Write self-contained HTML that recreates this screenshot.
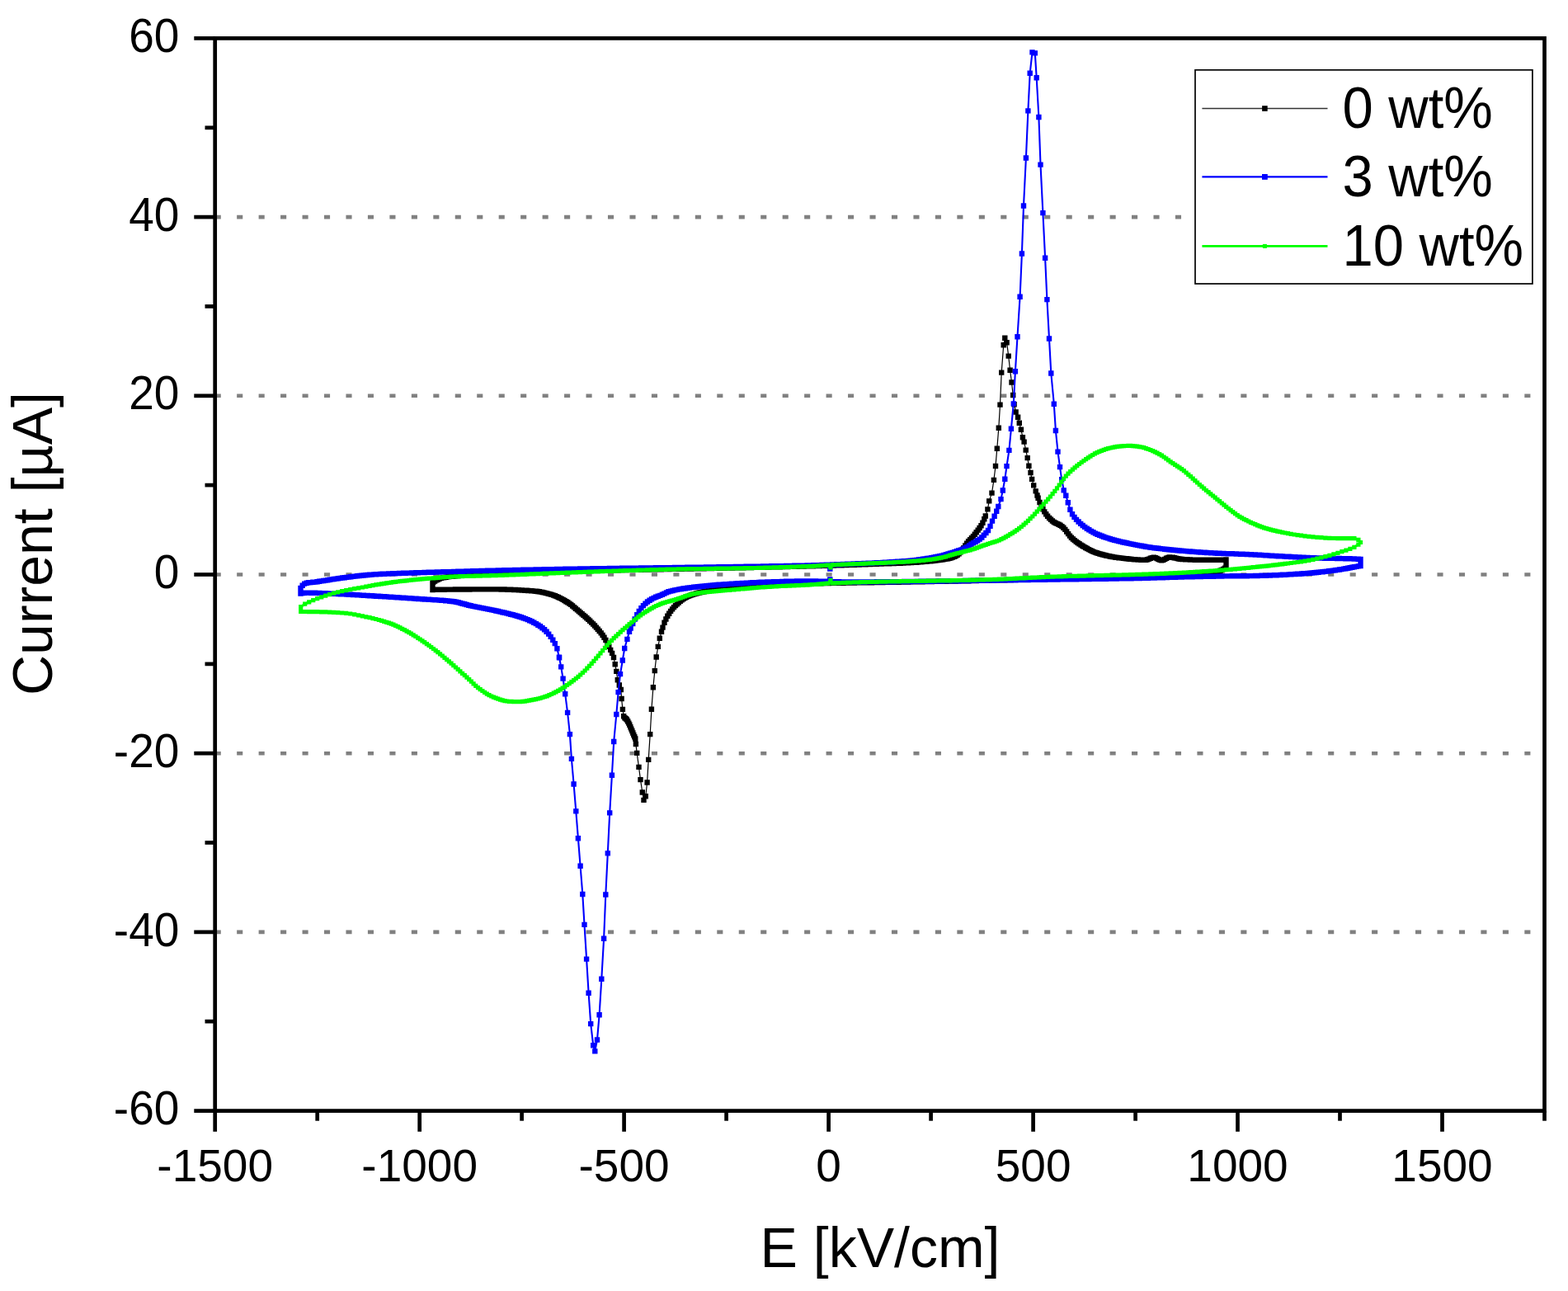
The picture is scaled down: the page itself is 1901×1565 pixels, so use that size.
<!DOCTYPE html>
<html><head><meta charset="utf-8"><title>Current vs E</title>
<style>html,body{margin:0;padding:0;background:#fff;}svg{display:block;}</style></head>
<body>
<svg width="1901" height="1565" viewBox="0 0 1901 1565" font-family="'Liberation Sans', Arial, sans-serif" fill="#000">
<rect width="1901" height="1565" fill="#fff"/>
<line x1="260.7" y1="263.1" x2="1872.5" y2="263.1" stroke="#808080" stroke-width="4.6" stroke-dasharray="7.1 19.36"/>
<line x1="260.7" y1="479.8" x2="1872.5" y2="479.8" stroke="#808080" stroke-width="4.6" stroke-dasharray="7.1 19.36"/>
<line x1="260.7" y1="696.5" x2="1872.5" y2="696.5" stroke="#808080" stroke-width="4.6" stroke-dasharray="7.1 19.36"/>
<line x1="260.7" y1="913.2" x2="1872.5" y2="913.2" stroke="#808080" stroke-width="4.6" stroke-dasharray="7.1 19.36"/>
<line x1="260.7" y1="1129.9" x2="1872.5" y2="1129.9" stroke="#808080" stroke-width="4.6" stroke-dasharray="7.1 19.36"/>
<path d="M1486.5 688 L1485.1 688.8 L1483.2 689.9 L1481.3 690.9 L1479.4 691.7 L1477.5 692.6 L1475.5 693.4 L1473.6 694 L1471.7 694.5 L1469.8 694.8 L1467.9 695 L1465.9 695.2 L1464 695.3 L1462.1 695.5 L1460.2 695.6 L1458.3 695.7 L1456.3 695.9 L1454.4 696 L1452.5 696.1 L1450.6 696.2 L1448.7 696.3 L1446.7 696.4 L1444.8 696.4 L1442.9 696.5 L1441 696.6 L1439.1 696.7 L1437.1 696.7 L1435.2 696.8 L1433.3 696.9 L1431.4 696.9 L1429.5 697 L1427.5 697 L1425.6 697.1 L1423.7 697.1 L1421.8 697.2 L1419.9 697.2 L1417.9 697.3 L1416 697.3 L1414.1 697.4 L1412.2 697.4 L1410.3 697.5 L1408.3 697.5 L1406.4 697.6 L1404.5 697.6 L1402.6 697.7 L1400.7 697.8 L1398.7 697.8 L1396.8 697.9 L1394.9 698 L1393 698 L1391.1 698.1 L1389.1 698.2 L1387.2 698.2 L1385.3 698.3 L1383.4 698.4 L1381.5 698.4 L1379.5 698.5 L1377.6 698.6 L1375.7 698.6 L1373.8 698.7 L1371.9 698.7 L1369.9 698.8 L1368 698.9 L1366.1 698.9 L1364.2 699 L1362.3 699 L1360.3 699.1 L1358.4 699.1 L1356.5 699.2 L1354.6 699.3 L1352.7 699.3 L1350.7 699.4 L1348.8 699.4 L1346.9 699.5 L1345 699.5 L1343.1 699.6 L1341.1 699.6 L1339.2 699.7 L1337.3 699.7 L1335.4 699.8 L1333.5 699.9 L1331.5 699.9 L1329.6 700 L1327.7 700 L1325.8 700.1 L1323.9 700.1 L1321.9 700.2 L1320 700.2 L1318.1 700.3 L1316.2 700.3 L1314.3 700.4 L1312.3 700.4 L1310.4 700.5 L1308.5 700.6 L1306.6 700.6 L1304.7 700.7 L1302.7 700.7 L1300.8 700.8 L1298.9 700.8 L1297 700.9 L1295.1 700.9 L1293.1 701 L1291.2 701.1 L1289.3 701.1 L1287.4 701.2 L1285.5 701.2 L1283.5 701.3 L1281.6 701.3 L1279.7 701.4 L1277.8 701.5 L1275.9 701.5 L1273.9 701.6 L1272 701.6 L1270.1 701.7 L1268.2 701.7 L1266.3 701.8 L1264.3 701.9 L1262.4 701.9 L1260.5 702 L1258.6 702 L1256.7 702.1 L1254.7 702.1 L1252.8 702.2 L1250.9 702.3 L1249 702.3 L1247.1 702.4 L1245.1 702.4 L1243.2 702.5 L1241.3 702.5 L1239.4 702.6 L1237.5 702.6 L1235.5 702.7 L1233.6 702.7 L1231.7 702.8 L1229.8 702.9 L1227.9 702.9 L1225.9 703 L1224 703 L1222.1 703.1 L1220.2 703.1 L1218.3 703.2 L1216.3 703.2 L1214.4 703.3 L1212.5 703.3 L1210.6 703.4 L1208.7 703.4 L1206.7 703.4 L1204.8 703.5 L1202.9 703.5 L1201 703.6 L1199.1 703.6 L1197.1 703.7 L1195.2 703.7 L1193.3 703.7 L1191.4 703.8 L1189.5 703.8 L1187.5 703.9 L1185.6 703.9 L1183.7 704 L1181.8 704 L1179.9 704 L1177.9 704.1 L1176 704.1 L1174.1 704.2 L1172.2 704.2 L1170.3 704.2 L1168.3 704.3 L1166.4 704.3 L1164.5 704.3 L1162.6 704.4 L1160.7 704.4 L1158.7 704.5 L1156.8 704.5 L1154.9 704.5 L1153 704.6 L1151.1 704.6 L1149.1 704.6 L1147.2 704.7 L1145.3 704.7 L1143.4 704.7 L1141.5 704.8 L1139.5 704.8 L1137.6 704.8 L1135.7 704.9 L1133.8 704.9 L1131.9 704.9 L1129.9 705 L1128 705 L1126.1 705 L1124.2 705.1 L1122.3 705.1 L1120.3 705.1 L1118.4 705.2 L1116.5 705.2 L1114.6 705.2 L1112.7 705.3 L1110.7 705.3 L1108.8 705.3 L1106.9 705.4 L1105 705.4 L1103.1 705.4 L1101.1 705.5 L1099.2 705.5 L1097.3 705.5 L1095.4 705.6 L1093.5 705.6 L1091.5 705.6 L1089.6 705.7 L1087.7 705.7 L1085.8 705.7 L1083.9 705.8 L1081.9 705.8 L1080 705.8 L1078.1 705.8 L1076.2 705.9 L1074.3 705.9 L1072.3 705.9 L1070.4 706 L1068.5 706 L1066.6 706 L1064.7 706 L1062.7 706.1 L1060.8 706.1 L1058.9 706.1 L1057 706.2 L1055.1 706.2 L1053.1 706.2 L1051.2 706.2 L1049.3 706.3 L1047.4 706.3 L1045.5 706.3 L1043.5 706.4 L1041.6 706.4 L1039.7 706.4 L1037.8 706.4 L1035.9 706.5 L1033.9 706.5 L1032 706.5 L1030.1 706.6 L1028.2 706.6 L1026.3 706.6 L1024.3 706.6 L1022.4 706.7 L1020.5 706.7 L1018.6 706.7 L1016.7 706.8 L1014.7 706.8 L1012.8 706.8 L1010.9 706.9 L1009 706.9 L1007.1 706.9 L1005.1 707 L1003.2 707 L1001.3 707.1 L999.4 707.1 L997.5 707.1 L995.5 707.2 L993.6 707.2 L991.7 707.2 L989.8 707.3 L987.9 707.3 L985.9 707.3 L984 707.4 L982.1 707.4 L980.2 707.4 L978.3 707.5 L976.3 707.5 L974.4 707.6 L972.5 707.6 L970.6 707.6 L968.7 707.7 L966.7 707.7 L964.8 707.8 L962.9 707.8 L961 707.9 L959.1 707.9 L957.1 708 L955.2 708 L953.3 708.1 L951.4 708.1 L949.5 708.2 L947.5 708.2 L945.6 708.3 L943.7 708.4 L941.8 708.4 L939.9 708.5 L937.9 708.6 L936 708.7 L934.1 708.7 L932.2 708.8 L930.3 708.9 L928.3 709 L926.4 709.1 L924.5 709.2 L922.6 709.4 L920.7 709.5 L918.7 709.6 L916.8 709.7 L914.9 709.9 L913 710 L911.1 710.2 L909.1 710.3 L907.2 710.5 L905.3 710.6 L903.4 710.8 L901.5 710.9 L899.5 711.1 L897.6 711.3 L895.7 711.5 L893.8 711.6 L891.9 711.8 L889.9 712 L888 712.2 L886.1 712.4 L884.2 712.6 L882.3 712.8 L880.3 713 L878.4 713.2 L876.5 713.5 L874.6 713.7 L872.7 714 L870.7 714.2 L868.8 714.5 L866.9 714.8 L865 715.1 L863.1 715.5 L861.1 715.8 L859.2 716.1 L857.3 716.5 L855.4 716.9 L853.5 717.3 L851.5 717.7 L849.6 718.1 L847.7 718.5 L845.8 719 L843.9 719.5 L841.9 720.1 L840 720.7 L838.1 721.4 L836.2 722.1 L834.3 722.9 L832.3 723.8 L830.4 724.9 L828.5 726.1 L826.6 727.4 L824.7 728.9 L822.7 730.5 L820.8 732.2 L818.9 734.1 L817 736.1 L815.1 738.4 L813.1 740.9 L811.2 743.7 L809.3 746.8 L807.4 750.5 L805.5 754.8 L803.5 760.6 L802 765.8 L799.8 773.7 L797.8 783.9 L795.7 796.5 L793.8 813.1 L791.9 833.3 L789.9 859.7 L788.2 890.1 L786.2 920.9 L784.6 948.5 L782.8 965.2 L780.5 969.9 L778.8 960.5 L776.5 945.1 L774.5 929.9 L772.2 912.9 L770.9 902 L770.3 895.5 L769.3 893.2 L768.3 891 L767.3 888.5 L766.3 886 L765.3 883.6 L764.3 881.2 L763.3 878.8 L762.3 876.6 L761.2 874.5 L760 872.5 L758.8 871.3 L757.5 870.2 L756.2 868.2 L754.9 859.9 L753.6 847 L752.8 836 L750.8 830.5 L748.8 824.2 L747.3 813.9 L745.7 805.2 L744 797 L742.1 791.9 L740.2 787.9 L738.3 783.8 L736.3 779.7 L734.4 776 L732.5 772.8 L730.6 770 L728.7 767.4 L726.7 765 L724.8 762.7 L722.9 760.6 L721 758.5 L719.1 756.5 L717.1 754.6 L715.2 752.7 L713.3 750.9 L711.4 749.2 L709.5 747.5 L707.5 745.9 L705.6 744.2 L703.7 742.6 L701.8 741 L699.9 739.4 L697.9 737.7 L696 736.1 L694.1 734.5 L692.2 732.9 L690.3 731.6 L688.3 730.3 L686.4 729.2 L684.5 728 L682.6 726.9 L680.7 725.9 L678.7 724.9 L676.8 724 L674.9 723.1 L673 722.3 L671.1 721.6 L669.1 720.9 L667.2 720.4 L665.3 719.9 L663.4 719.4 L661.5 718.9 L659.5 718.4 L657.6 718 L655.7 717.6 L653.8 717.3 L651.9 717 L649.9 716.8 L648 716.6 L646.1 716.4 L644.2 716.3 L642.3 716.1 L640.3 716 L638.4 715.8 L636.5 715.7 L634.6 715.6 L632.7 715.5 L630.7 715.4 L628.8 715.2 L626.9 715.1 L625 715 L623.1 715 L621.1 714.9 L619.2 714.8 L617.3 714.7 L615.4 714.7 L613.5 714.6 L611.5 714.5 L609.6 714.5 L607.7 714.5 L605.8 714.4 L603.9 714.4 L601.9 714.4 L600 714.4 L598.1 714.4 L596.2 714.4 L594.3 714.4 L592.3 714.4 L590.4 714.4 L588.5 714.4 L586.6 714.4 L584.7 714.4 L582.7 714.4 L580.8 714.4 L578.9 714.4 L577 714.4 L575.1 714.4 L573.1 714.4 L571.2 714.4 L569.3 714.5 L567.4 714.5 L565.5 714.5 L563.5 714.5 L561.6 714.5 L559.7 714.5 L557.8 714.5 L555.9 714.5 L553.9 714.5 L552 714.5 L550.1 714.6 L548.2 714.6 L546.3 714.6 L544.3 714.6 L542.4 714.6 L540.5 714.6 L538.6 714.7 L536.7 714.7 L534.7 714.7 L532.8 714.7 L530.9 714.8 L529 714.8 L527.1 714.8 L525.1 714.9 L524.5 715 L524.5 712 L524.5 709 L524.5 706.5 L525.2 705.9 L527.1 704.5 L529 703.4 L530.9 702.5 L532.9 701.6 L534.8 700.9 L536.7 700.4 L538.6 700 L540.5 699.7 L542.5 699.4 L544.4 699.1 L546.3 698.9 L548.2 698.7 L550.1 698.5 L552.1 698.3 L554 698.1 L555.9 698 L557.8 697.8 L559.7 697.6 L561.7 697.5 L563.6 697.3 L565.5 697.1 L567.4 697 L569.3 696.8 L571.3 696.6 L573.2 696.5 L575.1 696.3 L577 696.2 L578.9 696 L580.9 695.9 L582.8 695.8 L584.7 695.6 L586.6 695.5 L588.5 695.4 L590.5 695.3 L592.4 695.2 L594.3 695.1 L596.2 695 L598.1 694.9 L600.1 694.8 L602 694.7 L603.9 694.6 L605.8 694.6 L607.7 694.5 L609.7 694.4 L611.6 694.4 L613.5 694.3 L615.4 694.2 L617.3 694.2 L619.3 694.1 L621.2 694 L623.1 694 L625 693.9 L626.9 693.9 L628.9 693.8 L630.8 693.8 L632.7 693.7 L634.6 693.7 L636.5 693.6 L638.5 693.6 L640.4 693.5 L642.3 693.5 L644.2 693.4 L646.1 693.4 L648.1 693.3 L650 693.3 L651.9 693.2 L653.8 693.2 L655.7 693.1 L657.7 693.1 L659.6 693.1 L661.5 693 L663.4 693 L665.3 692.9 L667.3 692.9 L669.2 692.9 L671.1 692.8 L673 692.8 L674.9 692.7 L676.9 692.7 L678.8 692.7 L680.7 692.6 L682.6 692.6 L684.5 692.5 L686.5 692.5 L688.4 692.5 L690.3 692.4 L692.2 692.4 L694.1 692.3 L696.1 692.3 L698 692.2 L699.9 692.2 L701.8 692.2 L703.7 692.1 L705.7 692.1 L707.6 692 L709.5 692 L711.4 691.9 L713.3 691.9 L715.3 691.9 L717.2 691.8 L719.1 691.8 L721 691.7 L722.9 691.7 L724.9 691.7 L726.8 691.6 L728.7 691.6 L730.6 691.5 L732.5 691.5 L734.5 691.5 L736.4 691.4 L738.3 691.4 L740.2 691.4 L742.1 691.3 L744.1 691.3 L746 691.2 L747.9 691.2 L749.8 691.2 L751.7 691.1 L753.7 691.1 L755.6 691.1 L757.5 691 L759.4 691 L761.3 690.9 L763.3 690.9 L765.2 690.9 L767.1 690.8 L769 690.8 L770.9 690.8 L772.9 690.7 L774.8 690.7 L776.7 690.7 L778.6 690.6 L780.5 690.6 L782.5 690.5 L784.4 690.5 L786.3 690.5 L788.2 690.4 L790.1 690.4 L792.1 690.4 L794 690.3 L795.9 690.3 L797.8 690.2 L799.7 690.2 L801.7 690.2 L803.6 690.1 L805.5 690.1 L807.4 690.1 L809.3 690 L811.3 690 L813.2 689.9 L815.1 689.9 L817 689.9 L818.9 689.8 L820.9 689.8 L822.8 689.8 L824.7 689.7 L826.6 689.7 L828.5 689.6 L830.5 689.6 L832.4 689.6 L834.3 689.5 L836.2 689.5 L838.1 689.5 L840.1 689.4 L842 689.4 L843.9 689.3 L845.8 689.3 L847.7 689.3 L849.7 689.2 L851.6 689.2 L853.5 689.2 L855.4 689.1 L857.3 689.1 L859.3 689 L861.2 689 L863.1 689 L865 688.9 L866.9 688.9 L868.9 688.8 L870.8 688.8 L872.7 688.8 L874.6 688.7 L876.5 688.7 L878.5 688.7 L880.4 688.6 L882.3 688.6 L884.2 688.5 L886.1 688.5 L888.1 688.5 L890 688.4 L891.9 688.4 L893.8 688.3 L895.7 688.3 L897.7 688.3 L899.6 688.2 L901.5 688.2 L903.4 688.1 L905.3 688.1 L907.3 688 L909.2 688 L911.1 688 L913 687.9 L914.9 687.9 L916.9 687.8 L918.8 687.8 L920.7 687.7 L922.6 687.7 L924.5 687.7 L926.5 687.6 L928.4 687.6 L930.3 687.5 L932.2 687.5 L934.1 687.4 L936.1 687.4 L938 687.4 L939.9 687.3 L941.8 687.3 L943.7 687.2 L945.7 687.2 L947.6 687.1 L949.5 687.1 L951.4 687 L953.3 687 L955.3 687 L957.2 686.9 L959.1 686.9 L961 686.8 L962.9 686.8 L964.9 686.7 L966.8 686.7 L968.7 686.6 L970.6 686.6 L972.5 686.5 L974.5 686.5 L976.4 686.4 L978.3 686.4 L980.2 686.3 L982.1 686.3 L984.1 686.2 L986 686.2 L987.9 686.1 L989.8 686.1 L991.7 686 L993.7 686 L995.6 685.9 L997.5 685.9 L999.4 685.8 L1001.3 685.8 L1003.3 685.7 L1005.2 685.7 L1007.1 685.6 L1009 685.5 L1010.9 685.5 L1012.9 685.4 L1014.8 685.4 L1016.7 685.3 L1018.6 685.2 L1020.5 685.2 L1022.5 685.1 L1024.4 685 L1026.3 685 L1028.2 684.9 L1030.1 684.9 L1032.1 684.8 L1034 684.7 L1035.9 684.7 L1037.8 684.6 L1039.7 684.5 L1041.7 684.5 L1043.6 684.4 L1045.5 684.3 L1047.4 684.3 L1049.3 684.2 L1051.3 684.1 L1053.2 684 L1055.1 684 L1057 683.9 L1058.9 683.8 L1060.9 683.8 L1062.8 683.7 L1064.7 683.6 L1066.6 683.6 L1068.5 683.5 L1070.5 683.4 L1072.4 683.4 L1074.3 683.3 L1076.2 683.2 L1078.1 683.2 L1080.1 683.1 L1082 683 L1083.9 683 L1085.8 682.9 L1087.7 682.8 L1089.7 682.7 L1091.6 682.7 L1093.5 682.6 L1095.4 682.5 L1097.3 682.4 L1099.3 682.3 L1101.2 682.2 L1103.1 682.1 L1105 682 L1106.9 681.9 L1108.9 681.8 L1110.8 681.7 L1112.7 681.5 L1114.6 681.4 L1116.5 681.2 L1118.5 681.1 L1120.4 680.9 L1122.3 680.7 L1124.2 680.6 L1126.1 680.4 L1128.1 680.2 L1130 680 L1131.9 679.8 L1133.8 679.6 L1135.7 679.3 L1137.7 679.1 L1139.6 678.8 L1141.5 678.6 L1143.4 678.3 L1145.3 677.9 L1147.3 677.6 L1149.2 677.2 L1151.1 676.7 L1153 676.2 L1154.9 675.6 L1156.9 674.9 L1158.8 674 L1160.7 672.8 L1162.6 671.3 L1164.5 669.4 L1166.5 666.8 L1168.4 664.2 L1170.3 661.5 L1172.2 658.8 L1174.1 656.3 L1176.1 654.2 L1178 652.2 L1179.9 650.1 L1181.8 647.7 L1183.7 645.2 L1185.7 642.6 L1187.6 640 L1189.5 637.2 L1191.4 633.7 L1193.3 629.3 L1194.8 625.5 L1197.4 617.4 L1199.2 607.4 L1202.5 597.6 L1204.9 581.9 L1207 565 L1208.8 543.7 L1210.8 518.8 L1212.5 490.6 L1214.2 451.6 L1216.7 418.3 L1218.3 409.8 L1220.6 415.2 L1222.7 431.6 L1224.6 448.7 L1226.5 463.5 L1228.2 479 L1229.6 490.3 L1231.6 499.5 L1234.1 505.7 L1235.8 512.8 L1237.9 520.7 L1239.9 530.2 L1241.6 535.6 L1243.7 545.6 L1245.7 555.1 L1247.4 564.7 L1249.5 573 L1251.1 580.9 L1253.2 588.4 L1255.7 595.4 L1257.5 600.5 L1258.6 603.7 L1260.5 609 L1262.5 613.3 L1264.4 617.2 L1266.3 620.4 L1268.2 623.3 L1270.1 625.8 L1272.1 628 L1274 629.8 L1275.9 631.5 L1277.8 633 L1279.7 634 L1281.7 634.9 L1283.6 635.8 L1285.5 636.8 L1287.4 638.1 L1289.3 639.7 L1291.3 641.9 L1293.2 644.5 L1295.1 647.1 L1297 649.6 L1298.9 651.8 L1300.9 653.5 L1302.8 655.1 L1304.7 656.6 L1306.6 658 L1308.5 659.3 L1310.5 660.6 L1312.4 661.7 L1314.3 662.9 L1316.2 664 L1318.1 665 L1320.1 666.1 L1322 667.1 L1323.9 668 L1325.8 668.9 L1327.7 669.6 L1329.7 670.3 L1331.6 670.9 L1333.5 671.5 L1335.4 672 L1337.3 672.5 L1339.3 673 L1341.2 673.5 L1343.1 673.9 L1345 674.3 L1346.9 674.7 L1348.9 675 L1350.8 675.4 L1352.7 675.7 L1354.6 675.9 L1356.5 676.2 L1358.5 676.4 L1360.4 676.6 L1362.3 676.9 L1364.2 677.1 L1366.1 677.3 L1368.1 677.5 L1370 677.7 L1371.9 677.9 L1373.8 678.1 L1375.7 678.2 L1377.7 678.4 L1379.6 678.5 L1381.5 678.6 L1383.4 678.7 L1385.3 678.8 L1387.3 678.8 L1389.2 678.8 L1391.1 678.3 L1393 677.6 L1394.9 676.8 L1396.9 676.1 L1398.8 675.8 L1400.7 676.1 L1402.6 677 L1404.5 678 L1406.5 678.8 L1408.4 679.2 L1410.3 678.8 L1412.2 677.9 L1414.1 676.8 L1416.1 675.9 L1418 675.5 L1419.9 675.6 L1421.8 675.8 L1423.7 676.2 L1425.7 676.6 L1427.6 677.1 L1429.5 677.5 L1431.4 677.8 L1433.3 678 L1435.3 678.1 L1437.2 678.2 L1439.1 678.3 L1441 678.4 L1442.9 678.5 L1444.9 678.6 L1446.8 678.6 L1448.7 678.7 L1450.6 678.7 L1452.5 678.7 L1454.5 678.7 L1456.4 678.7 L1458.3 678.7 L1460.2 678.7 L1462.1 678.7 L1464.1 678.7 L1466 678.7 L1467.9 678.7 L1469.8 678.7 L1471.7 678.7 L1473.7 678.7 L1475.6 678.7 L1477.5 678.7 L1479.4 678.7 L1481.3 678.7 L1483.3 678.7 L1485.2 678.6 L1486.5 678.5 L1486.5 681.5 L1486.5 684.5 L1486.5 688" fill="none" stroke="#000" stroke-width="1.2" stroke-linejoin="round"/>
<path d="M1483.3 684.8h6.4v6.4h-6.4zM1481.9 685.6h6.4v6.4h-6.4zM1480 686.7h6.4v6.4h-6.4zM1478.1 687.7h6.4v6.4h-6.4zM1476.2 688.5h6.4v6.4h-6.4zM1474.3 689.4h6.4v6.4h-6.4zM1472.3 690.2h6.4v6.4h-6.4zM1470.4 690.8h6.4v6.4h-6.4zM1468.5 691.3h6.4v6.4h-6.4zM1466.6 691.6h6.4v6.4h-6.4zM1464.7 691.8h6.4v6.4h-6.4zM1462.7 692h6.4v6.4h-6.4zM1460.8 692.1h6.4v6.4h-6.4zM1458.9 692.3h6.4v6.4h-6.4zM1457 692.4h6.4v6.4h-6.4zM1455.1 692.5h6.4v6.4h-6.4zM1453.1 692.7h6.4v6.4h-6.4zM1451.2 692.8h6.4v6.4h-6.4zM1449.3 692.9h6.4v6.4h-6.4zM1447.4 693h6.4v6.4h-6.4zM1445.5 693.1h6.4v6.4h-6.4zM1443.5 693.2h6.4v6.4h-6.4zM1441.6 693.2h6.4v6.4h-6.4zM1439.7 693.3h6.4v6.4h-6.4zM1437.8 693.4h6.4v6.4h-6.4zM1435.9 693.5h6.4v6.4h-6.4zM1433.9 693.5h6.4v6.4h-6.4zM1432 693.6h6.4v6.4h-6.4zM1430.1 693.7h6.4v6.4h-6.4zM1428.2 693.7h6.4v6.4h-6.4zM1426.3 693.8h6.4v6.4h-6.4zM1424.3 693.8h6.4v6.4h-6.4zM1422.4 693.9h6.4v6.4h-6.4zM1420.5 693.9h6.4v6.4h-6.4zM1418.6 694h6.4v6.4h-6.4zM1416.7 694h6.4v6.4h-6.4zM1414.7 694.1h6.4v6.4h-6.4zM1412.8 694.1h6.4v6.4h-6.4zM1410.9 694.2h6.4v6.4h-6.4zM1409 694.2h6.4v6.4h-6.4zM1407.1 694.3h6.4v6.4h-6.4zM1405.1 694.3h6.4v6.4h-6.4zM1403.2 694.4h6.4v6.4h-6.4zM1401.3 694.4h6.4v6.4h-6.4zM1399.4 694.5h6.4v6.4h-6.4zM1397.5 694.6h6.4v6.4h-6.4zM1395.5 694.6h6.4v6.4h-6.4zM1393.6 694.7h6.4v6.4h-6.4zM1391.7 694.8h6.4v6.4h-6.4zM1389.8 694.8h6.4v6.4h-6.4zM1387.9 694.9h6.4v6.4h-6.4zM1385.9 695h6.4v6.4h-6.4zM1384 695h6.4v6.4h-6.4zM1382.1 695.1h6.4v6.4h-6.4zM1380.2 695.2h6.4v6.4h-6.4zM1378.3 695.2h6.4v6.4h-6.4zM1376.3 695.3h6.4v6.4h-6.4zM1374.4 695.4h6.4v6.4h-6.4zM1372.5 695.4h6.4v6.4h-6.4zM1370.6 695.5h6.4v6.4h-6.4zM1368.7 695.5h6.4v6.4h-6.4zM1366.7 695.6h6.4v6.4h-6.4zM1364.8 695.7h6.4v6.4h-6.4zM1362.9 695.7h6.4v6.4h-6.4zM1361 695.8h6.4v6.4h-6.4zM1359.1 695.8h6.4v6.4h-6.4zM1357.1 695.9h6.4v6.4h-6.4zM1355.2 695.9h6.4v6.4h-6.4zM1353.3 696h6.4v6.4h-6.4zM1351.4 696.1h6.4v6.4h-6.4zM1349.5 696.1h6.4v6.4h-6.4zM1347.5 696.2h6.4v6.4h-6.4zM1345.6 696.2h6.4v6.4h-6.4zM1343.7 696.3h6.4v6.4h-6.4zM1341.8 696.3h6.4v6.4h-6.4zM1339.9 696.4h6.4v6.4h-6.4zM1337.9 696.4h6.4v6.4h-6.4zM1336 696.5h6.4v6.4h-6.4zM1334.1 696.5h6.4v6.4h-6.4zM1332.2 696.6h6.4v6.4h-6.4zM1330.3 696.7h6.4v6.4h-6.4zM1328.3 696.7h6.4v6.4h-6.4zM1326.4 696.8h6.4v6.4h-6.4zM1324.5 696.8h6.4v6.4h-6.4zM1322.6 696.9h6.4v6.4h-6.4zM1320.7 696.9h6.4v6.4h-6.4zM1318.7 697h6.4v6.4h-6.4zM1316.8 697h6.4v6.4h-6.4zM1314.9 697.1h6.4v6.4h-6.4zM1313 697.1h6.4v6.4h-6.4zM1311.1 697.2h6.4v6.4h-6.4zM1309.1 697.2h6.4v6.4h-6.4zM1307.2 697.3h6.4v6.4h-6.4zM1305.3 697.4h6.4v6.4h-6.4zM1303.4 697.4h6.4v6.4h-6.4zM1301.5 697.5h6.4v6.4h-6.4zM1299.5 697.5h6.4v6.4h-6.4zM1297.6 697.6h6.4v6.4h-6.4zM1295.7 697.6h6.4v6.4h-6.4zM1293.8 697.7h6.4v6.4h-6.4zM1291.9 697.7h6.4v6.4h-6.4zM1289.9 697.8h6.4v6.4h-6.4zM1288 697.9h6.4v6.4h-6.4zM1286.1 697.9h6.4v6.4h-6.4zM1284.2 698h6.4v6.4h-6.4zM1282.3 698h6.4v6.4h-6.4zM1280.3 698.1h6.4v6.4h-6.4zM1278.4 698.1h6.4v6.4h-6.4zM1276.5 698.2h6.4v6.4h-6.4zM1274.6 698.3h6.4v6.4h-6.4zM1272.7 698.3h6.4v6.4h-6.4zM1270.7 698.4h6.4v6.4h-6.4zM1268.8 698.4h6.4v6.4h-6.4zM1266.9 698.5h6.4v6.4h-6.4zM1265 698.5h6.4v6.4h-6.4zM1263.1 698.6h6.4v6.4h-6.4zM1261.1 698.7h6.4v6.4h-6.4zM1259.2 698.7h6.4v6.4h-6.4zM1257.3 698.8h6.4v6.4h-6.4zM1255.4 698.8h6.4v6.4h-6.4zM1253.5 698.9h6.4v6.4h-6.4zM1251.5 698.9h6.4v6.4h-6.4zM1249.6 699h6.4v6.4h-6.4zM1247.7 699.1h6.4v6.4h-6.4zM1245.8 699.1h6.4v6.4h-6.4zM1243.9 699.2h6.4v6.4h-6.4zM1241.9 699.2h6.4v6.4h-6.4zM1240 699.3h6.4v6.4h-6.4zM1238.1 699.3h6.4v6.4h-6.4zM1236.2 699.4h6.4v6.4h-6.4zM1234.3 699.4h6.4v6.4h-6.4zM1232.3 699.5h6.4v6.4h-6.4zM1230.4 699.5h6.4v6.4h-6.4zM1228.5 699.6h6.4v6.4h-6.4zM1226.6 699.7h6.4v6.4h-6.4zM1224.7 699.7h6.4v6.4h-6.4zM1222.7 699.8h6.4v6.4h-6.4zM1220.8 699.8h6.4v6.4h-6.4zM1218.9 699.9h6.4v6.4h-6.4zM1217 699.9h6.4v6.4h-6.4zM1215.1 700h6.4v6.4h-6.4zM1213.1 700h6.4v6.4h-6.4zM1211.2 700.1h6.4v6.4h-6.4zM1209.3 700.1h6.4v6.4h-6.4zM1207.4 700.2h6.4v6.4h-6.4zM1205.5 700.2h6.4v6.4h-6.4zM1203.5 700.2h6.4v6.4h-6.4zM1201.6 700.3h6.4v6.4h-6.4zM1199.7 700.3h6.4v6.4h-6.4zM1197.8 700.4h6.4v6.4h-6.4zM1195.9 700.4h6.4v6.4h-6.4zM1193.9 700.5h6.4v6.4h-6.4zM1192 700.5h6.4v6.4h-6.4zM1190.1 700.5h6.4v6.4h-6.4zM1188.2 700.6h6.4v6.4h-6.4zM1186.3 700.6h6.4v6.4h-6.4zM1184.3 700.7h6.4v6.4h-6.4zM1182.4 700.7h6.4v6.4h-6.4zM1180.5 700.8h6.4v6.4h-6.4zM1178.6 700.8h6.4v6.4h-6.4zM1176.7 700.8h6.4v6.4h-6.4zM1174.7 700.9h6.4v6.4h-6.4zM1172.8 700.9h6.4v6.4h-6.4zM1170.9 701h6.4v6.4h-6.4zM1169 701h6.4v6.4h-6.4zM1167.1 701h6.4v6.4h-6.4zM1165.1 701.1h6.4v6.4h-6.4zM1163.2 701.1h6.4v6.4h-6.4zM1161.3 701.1h6.4v6.4h-6.4zM1159.4 701.2h6.4v6.4h-6.4zM1157.5 701.2h6.4v6.4h-6.4zM1155.5 701.3h6.4v6.4h-6.4zM1153.6 701.3h6.4v6.4h-6.4zM1151.7 701.3h6.4v6.4h-6.4zM1149.8 701.4h6.4v6.4h-6.4zM1147.9 701.4h6.4v6.4h-6.4zM1145.9 701.4h6.4v6.4h-6.4zM1144 701.5h6.4v6.4h-6.4zM1142.1 701.5h6.4v6.4h-6.4zM1140.2 701.5h6.4v6.4h-6.4zM1138.3 701.6h6.4v6.4h-6.4zM1136.3 701.6h6.4v6.4h-6.4zM1134.4 701.6h6.4v6.4h-6.4zM1132.5 701.7h6.4v6.4h-6.4zM1130.6 701.7h6.4v6.4h-6.4zM1128.7 701.7h6.4v6.4h-6.4zM1126.7 701.8h6.4v6.4h-6.4zM1124.8 701.8h6.4v6.4h-6.4zM1122.9 701.8h6.4v6.4h-6.4zM1121 701.9h6.4v6.4h-6.4zM1119.1 701.9h6.4v6.4h-6.4zM1117.1 701.9h6.4v6.4h-6.4zM1115.2 702h6.4v6.4h-6.4zM1113.3 702h6.4v6.4h-6.4zM1111.4 702h6.4v6.4h-6.4zM1109.5 702.1h6.4v6.4h-6.4zM1107.5 702.1h6.4v6.4h-6.4zM1105.6 702.1h6.4v6.4h-6.4zM1103.7 702.2h6.4v6.4h-6.4zM1101.8 702.2h6.4v6.4h-6.4zM1099.9 702.2h6.4v6.4h-6.4zM1097.9 702.3h6.4v6.4h-6.4zM1096 702.3h6.4v6.4h-6.4zM1094.1 702.3h6.4v6.4h-6.4zM1092.2 702.4h6.4v6.4h-6.4zM1090.3 702.4h6.4v6.4h-6.4zM1088.3 702.4h6.4v6.4h-6.4zM1086.4 702.5h6.4v6.4h-6.4zM1084.5 702.5h6.4v6.4h-6.4zM1082.6 702.5h6.4v6.4h-6.4zM1080.7 702.6h6.4v6.4h-6.4zM1078.7 702.6h6.4v6.4h-6.4zM1076.8 702.6h6.4v6.4h-6.4zM1074.9 702.6h6.4v6.4h-6.4zM1073 702.7h6.4v6.4h-6.4zM1071.1 702.7h6.4v6.4h-6.4zM1069.1 702.7h6.4v6.4h-6.4zM1067.2 702.8h6.4v6.4h-6.4zM1065.3 702.8h6.4v6.4h-6.4zM1063.4 702.8h6.4v6.4h-6.4zM1061.5 702.8h6.4v6.4h-6.4zM1059.5 702.9h6.4v6.4h-6.4zM1057.6 702.9h6.4v6.4h-6.4zM1055.7 702.9h6.4v6.4h-6.4zM1053.8 703h6.4v6.4h-6.4zM1051.9 703h6.4v6.4h-6.4zM1049.9 703h6.4v6.4h-6.4zM1048 703h6.4v6.4h-6.4zM1046.1 703.1h6.4v6.4h-6.4zM1044.2 703.1h6.4v6.4h-6.4zM1042.3 703.1h6.4v6.4h-6.4zM1040.3 703.2h6.4v6.4h-6.4zM1038.4 703.2h6.4v6.4h-6.4zM1036.5 703.2h6.4v6.4h-6.4zM1034.6 703.2h6.4v6.4h-6.4zM1032.7 703.3h6.4v6.4h-6.4zM1030.7 703.3h6.4v6.4h-6.4zM1028.8 703.3h6.4v6.4h-6.4zM1026.9 703.4h6.4v6.4h-6.4zM1025 703.4h6.4v6.4h-6.4zM1023.1 703.4h6.4v6.4h-6.4zM1021.1 703.4h6.4v6.4h-6.4zM1019.2 703.5h6.4v6.4h-6.4zM1017.3 703.5h6.4v6.4h-6.4zM1015.4 703.5h6.4v6.4h-6.4zM1013.5 703.6h6.4v6.4h-6.4zM1011.5 703.6h6.4v6.4h-6.4zM1009.6 703.6h6.4v6.4h-6.4zM1007.7 703.7h6.4v6.4h-6.4zM1005.8 703.7h6.4v6.4h-6.4zM1003.9 703.7h6.4v6.4h-6.4zM1001.9 703.8h6.4v6.4h-6.4zM1000 703.8h6.4v6.4h-6.4zM998.1 703.9h6.4v6.4h-6.4zM996.2 703.9h6.4v6.4h-6.4zM994.3 703.9h6.4v6.4h-6.4zM992.3 704h6.4v6.4h-6.4zM990.4 704h6.4v6.4h-6.4zM988.5 704h6.4v6.4h-6.4zM986.6 704.1h6.4v6.4h-6.4zM984.7 704.1h6.4v6.4h-6.4zM982.7 704.1h6.4v6.4h-6.4zM980.8 704.2h6.4v6.4h-6.4zM978.9 704.2h6.4v6.4h-6.4zM977 704.2h6.4v6.4h-6.4zM975.1 704.3h6.4v6.4h-6.4zM973.1 704.3h6.4v6.4h-6.4zM971.2 704.4h6.4v6.4h-6.4zM969.3 704.4h6.4v6.4h-6.4zM967.4 704.4h6.4v6.4h-6.4zM965.5 704.5h6.4v6.4h-6.4zM963.5 704.5h6.4v6.4h-6.4zM961.6 704.6h6.4v6.4h-6.4zM959.7 704.6h6.4v6.4h-6.4zM957.8 704.7h6.4v6.4h-6.4zM955.9 704.7h6.4v6.4h-6.4zM953.9 704.8h6.4v6.4h-6.4zM952 704.8h6.4v6.4h-6.4zM950.1 704.9h6.4v6.4h-6.4zM948.2 704.9h6.4v6.4h-6.4zM946.3 705h6.4v6.4h-6.4zM944.3 705h6.4v6.4h-6.4zM942.4 705.1h6.4v6.4h-6.4zM940.5 705.2h6.4v6.4h-6.4zM938.6 705.2h6.4v6.4h-6.4zM936.7 705.3h6.4v6.4h-6.4zM934.7 705.4h6.4v6.4h-6.4zM932.8 705.5h6.4v6.4h-6.4zM930.9 705.5h6.4v6.4h-6.4zM929 705.6h6.4v6.4h-6.4zM927.1 705.7h6.4v6.4h-6.4zM925.1 705.8h6.4v6.4h-6.4zM923.2 705.9h6.4v6.4h-6.4zM921.3 706h6.4v6.4h-6.4zM919.4 706.2h6.4v6.4h-6.4zM917.5 706.3h6.4v6.4h-6.4zM915.5 706.4h6.4v6.4h-6.4zM913.6 706.5h6.4v6.4h-6.4zM911.7 706.7h6.4v6.4h-6.4zM909.8 706.8h6.4v6.4h-6.4zM907.9 707h6.4v6.4h-6.4zM905.9 707.1h6.4v6.4h-6.4zM904 707.3h6.4v6.4h-6.4zM902.1 707.4h6.4v6.4h-6.4zM900.2 707.6h6.4v6.4h-6.4zM898.3 707.7h6.4v6.4h-6.4zM896.3 707.9h6.4v6.4h-6.4zM894.4 708.1h6.4v6.4h-6.4zM892.5 708.3h6.4v6.4h-6.4zM890.6 708.4h6.4v6.4h-6.4zM888.7 708.6h6.4v6.4h-6.4zM886.7 708.8h6.4v6.4h-6.4zM884.8 709h6.4v6.4h-6.4zM882.9 709.2h6.4v6.4h-6.4zM881 709.4h6.4v6.4h-6.4zM879.1 709.6h6.4v6.4h-6.4zM877.1 709.8h6.4v6.4h-6.4zM875.2 710h6.4v6.4h-6.4zM873.3 710.3h6.4v6.4h-6.4zM871.4 710.5h6.4v6.4h-6.4zM869.5 710.8h6.4v6.4h-6.4zM867.5 711h6.4v6.4h-6.4zM865.6 711.3h6.4v6.4h-6.4zM863.7 711.6h6.4v6.4h-6.4zM861.8 711.9h6.4v6.4h-6.4zM859.9 712.3h6.4v6.4h-6.4zM857.9 712.6h6.4v6.4h-6.4zM856 712.9h6.4v6.4h-6.4zM854.1 713.3h6.4v6.4h-6.4zM852.2 713.7h6.4v6.4h-6.4zM850.3 714.1h6.4v6.4h-6.4zM848.3 714.5h6.4v6.4h-6.4zM846.4 714.9h6.4v6.4h-6.4zM844.5 715.3h6.4v6.4h-6.4zM842.6 715.8h6.4v6.4h-6.4zM840.7 716.3h6.4v6.4h-6.4zM838.7 716.9h6.4v6.4h-6.4zM836.8 717.5h6.4v6.4h-6.4zM834.9 718.2h6.4v6.4h-6.4zM833 718.9h6.4v6.4h-6.4zM831.1 719.7h6.4v6.4h-6.4zM829.1 720.6h6.4v6.4h-6.4zM827.2 721.7h6.4v6.4h-6.4zM825.3 722.9h6.4v6.4h-6.4zM823.4 724.2h6.4v6.4h-6.4zM821.5 725.7h6.4v6.4h-6.4zM819.5 727.3h6.4v6.4h-6.4zM817.6 729h6.4v6.4h-6.4zM815.7 730.9h6.4v6.4h-6.4zM813.8 732.9h6.4v6.4h-6.4zM811.9 735.2h6.4v6.4h-6.4zM809.9 737.7h6.4v6.4h-6.4zM808 740.5h6.4v6.4h-6.4zM806.1 743.6h6.4v6.4h-6.4zM804.2 747.3h6.4v6.4h-6.4zM802.3 751.6h6.4v6.4h-6.4zM800.3 757.4h6.4v6.4h-6.4zM798.8 762.6h6.4v6.4h-6.4zM796.6 770.5h6.4v6.4h-6.4zM794.6 780.7h6.4v6.4h-6.4zM792.5 793.3h6.4v6.4h-6.4zM790.6 809.9h6.4v6.4h-6.4zM788.7 830.1h6.4v6.4h-6.4zM786.7 856.5h6.4v6.4h-6.4zM785 886.9h6.4v6.4h-6.4zM783 917.7h6.4v6.4h-6.4zM781.4 945.3h6.4v6.4h-6.4zM779.6 962h6.4v6.4h-6.4zM777.3 966.7h6.4v6.4h-6.4zM775.6 957.3h6.4v6.4h-6.4zM773.3 941.9h6.4v6.4h-6.4zM771.3 926.7h6.4v6.4h-6.4zM769 909.7h6.4v6.4h-6.4zM767.7 898.8h6.4v6.4h-6.4zM767.1 892.3h6.4v6.4h-6.4zM766.1 890h6.4v6.4h-6.4zM765.1 887.8h6.4v6.4h-6.4zM764.1 885.3h6.4v6.4h-6.4zM763.1 882.8h6.4v6.4h-6.4zM762.1 880.4h6.4v6.4h-6.4zM761.1 878h6.4v6.4h-6.4zM760.1 875.6h6.4v6.4h-6.4zM759.1 873.4h6.4v6.4h-6.4zM758 871.3h6.4v6.4h-6.4zM756.8 869.3h6.4v6.4h-6.4zM755.6 868.1h6.4v6.4h-6.4zM754.3 867h6.4v6.4h-6.4zM753 865h6.4v6.4h-6.4zM751.7 856.7h6.4v6.4h-6.4zM750.4 843.8h6.4v6.4h-6.4zM749.6 832.8h6.4v6.4h-6.4zM747.6 827.3h6.4v6.4h-6.4zM745.6 821h6.4v6.4h-6.4zM744.1 810.7h6.4v6.4h-6.4zM742.5 802h6.4v6.4h-6.4zM740.8 793.8h6.4v6.4h-6.4zM738.9 788.7h6.4v6.4h-6.4zM737 784.7h6.4v6.4h-6.4zM735.1 780.6h6.4v6.4h-6.4zM733.1 776.5h6.4v6.4h-6.4zM731.2 772.8h6.4v6.4h-6.4zM729.3 769.6h6.4v6.4h-6.4zM727.4 766.8h6.4v6.4h-6.4zM725.5 764.2h6.4v6.4h-6.4zM723.5 761.8h6.4v6.4h-6.4zM721.6 759.5h6.4v6.4h-6.4zM719.7 757.4h6.4v6.4h-6.4zM717.8 755.3h6.4v6.4h-6.4zM715.9 753.3h6.4v6.4h-6.4zM713.9 751.4h6.4v6.4h-6.4zM712 749.5h6.4v6.4h-6.4zM710.1 747.7h6.4v6.4h-6.4zM708.2 746h6.4v6.4h-6.4zM706.3 744.3h6.4v6.4h-6.4zM704.3 742.7h6.4v6.4h-6.4zM702.4 741h6.4v6.4h-6.4zM700.5 739.4h6.4v6.4h-6.4zM698.6 737.8h6.4v6.4h-6.4zM696.7 736.2h6.4v6.4h-6.4zM694.7 734.5h6.4v6.4h-6.4zM692.8 732.9h6.4v6.4h-6.4zM690.9 731.3h6.4v6.4h-6.4zM689 729.7h6.4v6.4h-6.4zM687.1 728.4h6.4v6.4h-6.4zM685.1 727.1h6.4v6.4h-6.4zM683.2 726h6.4v6.4h-6.4zM681.3 724.8h6.4v6.4h-6.4zM679.4 723.7h6.4v6.4h-6.4zM677.5 722.7h6.4v6.4h-6.4zM675.5 721.7h6.4v6.4h-6.4zM673.6 720.8h6.4v6.4h-6.4zM671.7 719.9h6.4v6.4h-6.4zM669.8 719.1h6.4v6.4h-6.4zM667.9 718.4h6.4v6.4h-6.4zM665.9 717.7h6.4v6.4h-6.4zM664 717.2h6.4v6.4h-6.4zM662.1 716.7h6.4v6.4h-6.4zM660.2 716.2h6.4v6.4h-6.4zM658.3 715.7h6.4v6.4h-6.4zM656.3 715.2h6.4v6.4h-6.4zM654.4 714.8h6.4v6.4h-6.4zM652.5 714.4h6.4v6.4h-6.4zM650.6 714.1h6.4v6.4h-6.4zM648.7 713.8h6.4v6.4h-6.4zM646.7 713.6h6.4v6.4h-6.4zM644.8 713.4h6.4v6.4h-6.4zM642.9 713.2h6.4v6.4h-6.4zM641 713.1h6.4v6.4h-6.4zM639.1 712.9h6.4v6.4h-6.4zM637.1 712.8h6.4v6.4h-6.4zM635.2 712.6h6.4v6.4h-6.4zM633.3 712.5h6.4v6.4h-6.4zM631.4 712.4h6.4v6.4h-6.4zM629.5 712.3h6.4v6.4h-6.4zM627.5 712.2h6.4v6.4h-6.4zM625.6 712h6.4v6.4h-6.4zM623.7 711.9h6.4v6.4h-6.4zM621.8 711.8h6.4v6.4h-6.4zM619.9 711.8h6.4v6.4h-6.4zM617.9 711.7h6.4v6.4h-6.4zM616 711.6h6.4v6.4h-6.4zM614.1 711.5h6.4v6.4h-6.4zM612.2 711.5h6.4v6.4h-6.4zM610.3 711.4h6.4v6.4h-6.4zM608.3 711.3h6.4v6.4h-6.4zM606.4 711.3h6.4v6.4h-6.4zM604.5 711.3h6.4v6.4h-6.4zM602.6 711.2h6.4v6.4h-6.4zM600.7 711.2h6.4v6.4h-6.4zM598.7 711.2h6.4v6.4h-6.4zM596.8 711.2h6.4v6.4h-6.4zM594.9 711.2h6.4v6.4h-6.4zM593 711.2h6.4v6.4h-6.4zM591.1 711.2h6.4v6.4h-6.4zM589.1 711.2h6.4v6.4h-6.4zM587.2 711.2h6.4v6.4h-6.4zM585.3 711.2h6.4v6.4h-6.4zM583.4 711.2h6.4v6.4h-6.4zM581.5 711.2h6.4v6.4h-6.4zM579.5 711.2h6.4v6.4h-6.4zM577.6 711.2h6.4v6.4h-6.4zM575.7 711.2h6.4v6.4h-6.4zM573.8 711.2h6.4v6.4h-6.4zM571.9 711.2h6.4v6.4h-6.4zM569.9 711.2h6.4v6.4h-6.4zM568 711.2h6.4v6.4h-6.4zM566.1 711.3h6.4v6.4h-6.4zM564.2 711.3h6.4v6.4h-6.4zM562.3 711.3h6.4v6.4h-6.4zM560.3 711.3h6.4v6.4h-6.4zM558.4 711.3h6.4v6.4h-6.4zM556.5 711.3h6.4v6.4h-6.4zM554.6 711.3h6.4v6.4h-6.4zM552.7 711.3h6.4v6.4h-6.4zM550.7 711.3h6.4v6.4h-6.4zM548.8 711.3h6.4v6.4h-6.4zM546.9 711.4h6.4v6.4h-6.4zM545 711.4h6.4v6.4h-6.4zM543.1 711.4h6.4v6.4h-6.4zM541.1 711.4h6.4v6.4h-6.4zM539.2 711.4h6.4v6.4h-6.4zM537.3 711.4h6.4v6.4h-6.4zM535.4 711.5h6.4v6.4h-6.4zM533.5 711.5h6.4v6.4h-6.4zM531.5 711.5h6.4v6.4h-6.4zM529.6 711.5h6.4v6.4h-6.4zM527.7 711.6h6.4v6.4h-6.4zM525.8 711.6h6.4v6.4h-6.4zM523.9 711.6h6.4v6.4h-6.4zM521.9 711.7h6.4v6.4h-6.4zM521.3 711.8h6.4v6.4h-6.4zM521.3 708.8h6.4v6.4h-6.4zM521.3 705.8h6.4v6.4h-6.4zM521.3 703.3h6.4v6.4h-6.4zM522 702.7h6.4v6.4h-6.4zM523.9 701.3h6.4v6.4h-6.4zM525.8 700.2h6.4v6.4h-6.4zM527.7 699.3h6.4v6.4h-6.4zM529.7 698.4h6.4v6.4h-6.4zM531.6 697.7h6.4v6.4h-6.4zM533.5 697.2h6.4v6.4h-6.4zM535.4 696.8h6.4v6.4h-6.4zM537.3 696.5h6.4v6.4h-6.4zM539.3 696.2h6.4v6.4h-6.4zM541.2 695.9h6.4v6.4h-6.4zM543.1 695.7h6.4v6.4h-6.4zM545 695.5h6.4v6.4h-6.4zM546.9 695.3h6.4v6.4h-6.4zM548.9 695.1h6.4v6.4h-6.4zM550.8 694.9h6.4v6.4h-6.4zM552.7 694.8h6.4v6.4h-6.4zM554.6 694.6h6.4v6.4h-6.4zM556.5 694.4h6.4v6.4h-6.4zM558.5 694.3h6.4v6.4h-6.4zM560.4 694.1h6.4v6.4h-6.4zM562.3 693.9h6.4v6.4h-6.4zM564.2 693.8h6.4v6.4h-6.4zM566.1 693.6h6.4v6.4h-6.4zM568.1 693.4h6.4v6.4h-6.4zM570 693.3h6.4v6.4h-6.4zM571.9 693.1h6.4v6.4h-6.4zM573.8 693h6.4v6.4h-6.4zM575.7 692.8h6.4v6.4h-6.4zM577.7 692.7h6.4v6.4h-6.4zM579.6 692.6h6.4v6.4h-6.4zM581.5 692.4h6.4v6.4h-6.4zM583.4 692.3h6.4v6.4h-6.4zM585.3 692.2h6.4v6.4h-6.4zM587.3 692.1h6.4v6.4h-6.4zM589.2 692h6.4v6.4h-6.4zM591.1 691.9h6.4v6.4h-6.4zM593 691.8h6.4v6.4h-6.4zM594.9 691.7h6.4v6.4h-6.4zM596.9 691.6h6.4v6.4h-6.4zM598.8 691.5h6.4v6.4h-6.4zM600.7 691.4h6.4v6.4h-6.4zM602.6 691.4h6.4v6.4h-6.4zM604.5 691.3h6.4v6.4h-6.4zM606.5 691.2h6.4v6.4h-6.4zM608.4 691.2h6.4v6.4h-6.4zM610.3 691.1h6.4v6.4h-6.4zM612.2 691h6.4v6.4h-6.4zM614.1 691h6.4v6.4h-6.4zM616.1 690.9h6.4v6.4h-6.4zM618 690.8h6.4v6.4h-6.4zM619.9 690.8h6.4v6.4h-6.4zM621.8 690.7h6.4v6.4h-6.4zM623.7 690.7h6.4v6.4h-6.4zM625.7 690.6h6.4v6.4h-6.4zM627.6 690.6h6.4v6.4h-6.4zM629.5 690.5h6.4v6.4h-6.4zM631.4 690.5h6.4v6.4h-6.4zM633.3 690.4h6.4v6.4h-6.4zM635.3 690.4h6.4v6.4h-6.4zM637.2 690.3h6.4v6.4h-6.4zM639.1 690.3h6.4v6.4h-6.4zM641 690.2h6.4v6.4h-6.4zM642.9 690.2h6.4v6.4h-6.4zM644.9 690.1h6.4v6.4h-6.4zM646.8 690.1h6.4v6.4h-6.4zM648.7 690h6.4v6.4h-6.4zM650.6 690h6.4v6.4h-6.4zM652.5 689.9h6.4v6.4h-6.4zM654.5 689.9h6.4v6.4h-6.4zM656.4 689.9h6.4v6.4h-6.4zM658.3 689.8h6.4v6.4h-6.4zM660.2 689.8h6.4v6.4h-6.4zM662.1 689.7h6.4v6.4h-6.4zM664.1 689.7h6.4v6.4h-6.4zM666 689.7h6.4v6.4h-6.4zM667.9 689.6h6.4v6.4h-6.4zM669.8 689.6h6.4v6.4h-6.4zM671.7 689.5h6.4v6.4h-6.4zM673.7 689.5h6.4v6.4h-6.4zM675.6 689.5h6.4v6.4h-6.4zM677.5 689.4h6.4v6.4h-6.4zM679.4 689.4h6.4v6.4h-6.4zM681.3 689.3h6.4v6.4h-6.4zM683.3 689.3h6.4v6.4h-6.4zM685.2 689.3h6.4v6.4h-6.4zM687.1 689.2h6.4v6.4h-6.4zM689 689.2h6.4v6.4h-6.4zM690.9 689.1h6.4v6.4h-6.4zM692.9 689.1h6.4v6.4h-6.4zM694.8 689h6.4v6.4h-6.4zM696.7 689h6.4v6.4h-6.4zM698.6 689h6.4v6.4h-6.4zM700.5 688.9h6.4v6.4h-6.4zM702.5 688.9h6.4v6.4h-6.4zM704.4 688.8h6.4v6.4h-6.4zM706.3 688.8h6.4v6.4h-6.4zM708.2 688.7h6.4v6.4h-6.4zM710.1 688.7h6.4v6.4h-6.4zM712.1 688.7h6.4v6.4h-6.4zM714 688.6h6.4v6.4h-6.4zM715.9 688.6h6.4v6.4h-6.4zM717.8 688.5h6.4v6.4h-6.4zM719.7 688.5h6.4v6.4h-6.4zM721.7 688.5h6.4v6.4h-6.4zM723.6 688.4h6.4v6.4h-6.4zM725.5 688.4h6.4v6.4h-6.4zM727.4 688.3h6.4v6.4h-6.4zM729.3 688.3h6.4v6.4h-6.4zM731.3 688.3h6.4v6.4h-6.4zM733.2 688.2h6.4v6.4h-6.4zM735.1 688.2h6.4v6.4h-6.4zM737 688.2h6.4v6.4h-6.4zM738.9 688.1h6.4v6.4h-6.4zM740.9 688.1h6.4v6.4h-6.4zM742.8 688h6.4v6.4h-6.4zM744.7 688h6.4v6.4h-6.4zM746.6 688h6.4v6.4h-6.4zM748.5 687.9h6.4v6.4h-6.4zM750.5 687.9h6.4v6.4h-6.4zM752.4 687.9h6.4v6.4h-6.4zM754.3 687.8h6.4v6.4h-6.4zM756.2 687.8h6.4v6.4h-6.4zM758.1 687.7h6.4v6.4h-6.4zM760.1 687.7h6.4v6.4h-6.4zM762 687.7h6.4v6.4h-6.4zM763.9 687.6h6.4v6.4h-6.4zM765.8 687.6h6.4v6.4h-6.4zM767.7 687.6h6.4v6.4h-6.4zM769.7 687.5h6.4v6.4h-6.4zM771.6 687.5h6.4v6.4h-6.4zM773.5 687.5h6.4v6.4h-6.4zM775.4 687.4h6.4v6.4h-6.4zM777.3 687.4h6.4v6.4h-6.4zM779.3 687.3h6.4v6.4h-6.4zM781.2 687.3h6.4v6.4h-6.4zM783.1 687.3h6.4v6.4h-6.4zM785 687.2h6.4v6.4h-6.4zM786.9 687.2h6.4v6.4h-6.4zM788.9 687.2h6.4v6.4h-6.4zM790.8 687.1h6.4v6.4h-6.4zM792.7 687.1h6.4v6.4h-6.4zM794.6 687h6.4v6.4h-6.4zM796.5 687h6.4v6.4h-6.4zM798.5 687h6.4v6.4h-6.4zM800.4 686.9h6.4v6.4h-6.4zM802.3 686.9h6.4v6.4h-6.4zM804.2 686.9h6.4v6.4h-6.4zM806.1 686.8h6.4v6.4h-6.4zM808.1 686.8h6.4v6.4h-6.4zM810 686.7h6.4v6.4h-6.4zM811.9 686.7h6.4v6.4h-6.4zM813.8 686.7h6.4v6.4h-6.4zM815.7 686.6h6.4v6.4h-6.4zM817.7 686.6h6.4v6.4h-6.4zM819.6 686.6h6.4v6.4h-6.4zM821.5 686.5h6.4v6.4h-6.4zM823.4 686.5h6.4v6.4h-6.4zM825.3 686.4h6.4v6.4h-6.4zM827.3 686.4h6.4v6.4h-6.4zM829.2 686.4h6.4v6.4h-6.4zM831.1 686.3h6.4v6.4h-6.4zM833 686.3h6.4v6.4h-6.4zM834.9 686.3h6.4v6.4h-6.4zM836.9 686.2h6.4v6.4h-6.4zM838.8 686.2h6.4v6.4h-6.4zM840.7 686.1h6.4v6.4h-6.4zM842.6 686.1h6.4v6.4h-6.4zM844.5 686.1h6.4v6.4h-6.4zM846.5 686h6.4v6.4h-6.4zM848.4 686h6.4v6.4h-6.4zM850.3 686h6.4v6.4h-6.4zM852.2 685.9h6.4v6.4h-6.4zM854.1 685.9h6.4v6.4h-6.4zM856.1 685.8h6.4v6.4h-6.4zM858 685.8h6.4v6.4h-6.4zM859.9 685.8h6.4v6.4h-6.4zM861.8 685.7h6.4v6.4h-6.4zM863.7 685.7h6.4v6.4h-6.4zM865.7 685.6h6.4v6.4h-6.4zM867.6 685.6h6.4v6.4h-6.4zM869.5 685.6h6.4v6.4h-6.4zM871.4 685.5h6.4v6.4h-6.4zM873.3 685.5h6.4v6.4h-6.4zM875.3 685.5h6.4v6.4h-6.4zM877.2 685.4h6.4v6.4h-6.4zM879.1 685.4h6.4v6.4h-6.4zM881 685.3h6.4v6.4h-6.4zM882.9 685.3h6.4v6.4h-6.4zM884.9 685.3h6.4v6.4h-6.4zM886.8 685.2h6.4v6.4h-6.4zM888.7 685.2h6.4v6.4h-6.4zM890.6 685.1h6.4v6.4h-6.4zM892.5 685.1h6.4v6.4h-6.4zM894.5 685.1h6.4v6.4h-6.4zM896.4 685h6.4v6.4h-6.4zM898.3 685h6.4v6.4h-6.4zM900.2 684.9h6.4v6.4h-6.4zM902.1 684.9h6.4v6.4h-6.4zM904.1 684.8h6.4v6.4h-6.4zM906 684.8h6.4v6.4h-6.4zM907.9 684.8h6.4v6.4h-6.4zM909.8 684.7h6.4v6.4h-6.4zM911.7 684.7h6.4v6.4h-6.4zM913.7 684.6h6.4v6.4h-6.4zM915.6 684.6h6.4v6.4h-6.4zM917.5 684.5h6.4v6.4h-6.4zM919.4 684.5h6.4v6.4h-6.4zM921.3 684.5h6.4v6.4h-6.4zM923.3 684.4h6.4v6.4h-6.4zM925.2 684.4h6.4v6.4h-6.4zM927.1 684.3h6.4v6.4h-6.4zM929 684.3h6.4v6.4h-6.4zM930.9 684.2h6.4v6.4h-6.4zM932.9 684.2h6.4v6.4h-6.4zM934.8 684.2h6.4v6.4h-6.4zM936.7 684.1h6.4v6.4h-6.4zM938.6 684.1h6.4v6.4h-6.4zM940.5 684h6.4v6.4h-6.4zM942.5 684h6.4v6.4h-6.4zM944.4 683.9h6.4v6.4h-6.4zM946.3 683.9h6.4v6.4h-6.4zM948.2 683.8h6.4v6.4h-6.4zM950.1 683.8h6.4v6.4h-6.4zM952.1 683.8h6.4v6.4h-6.4zM954 683.7h6.4v6.4h-6.4zM955.9 683.7h6.4v6.4h-6.4zM957.8 683.6h6.4v6.4h-6.4zM959.7 683.6h6.4v6.4h-6.4zM961.7 683.5h6.4v6.4h-6.4zM963.6 683.5h6.4v6.4h-6.4zM965.5 683.4h6.4v6.4h-6.4zM967.4 683.4h6.4v6.4h-6.4zM969.3 683.3h6.4v6.4h-6.4zM971.3 683.3h6.4v6.4h-6.4zM973.2 683.2h6.4v6.4h-6.4zM975.1 683.2h6.4v6.4h-6.4zM977 683.1h6.4v6.4h-6.4zM978.9 683.1h6.4v6.4h-6.4zM980.9 683h6.4v6.4h-6.4zM982.8 683h6.4v6.4h-6.4zM984.7 682.9h6.4v6.4h-6.4zM986.6 682.9h6.4v6.4h-6.4zM988.5 682.8h6.4v6.4h-6.4zM990.5 682.8h6.4v6.4h-6.4zM992.4 682.7h6.4v6.4h-6.4zM994.3 682.7h6.4v6.4h-6.4zM996.2 682.6h6.4v6.4h-6.4zM998.1 682.6h6.4v6.4h-6.4zM1000.1 682.5h6.4v6.4h-6.4zM1002 682.5h6.4v6.4h-6.4zM1003.9 682.4h6.4v6.4h-6.4zM1005.8 682.3h6.4v6.4h-6.4zM1007.7 682.3h6.4v6.4h-6.4zM1009.7 682.2h6.4v6.4h-6.4zM1011.6 682.2h6.4v6.4h-6.4zM1013.5 682.1h6.4v6.4h-6.4zM1015.4 682h6.4v6.4h-6.4zM1017.3 682h6.4v6.4h-6.4zM1019.3 681.9h6.4v6.4h-6.4zM1021.2 681.8h6.4v6.4h-6.4zM1023.1 681.8h6.4v6.4h-6.4zM1025 681.7h6.4v6.4h-6.4zM1026.9 681.7h6.4v6.4h-6.4zM1028.9 681.6h6.4v6.4h-6.4zM1030.8 681.5h6.4v6.4h-6.4zM1032.7 681.5h6.4v6.4h-6.4zM1034.6 681.4h6.4v6.4h-6.4zM1036.5 681.3h6.4v6.4h-6.4zM1038.5 681.3h6.4v6.4h-6.4zM1040.4 681.2h6.4v6.4h-6.4zM1042.3 681.1h6.4v6.4h-6.4zM1044.2 681.1h6.4v6.4h-6.4zM1046.1 681h6.4v6.4h-6.4zM1048.1 680.9h6.4v6.4h-6.4zM1050 680.8h6.4v6.4h-6.4zM1051.9 680.8h6.4v6.4h-6.4zM1053.8 680.7h6.4v6.4h-6.4zM1055.7 680.6h6.4v6.4h-6.4zM1057.7 680.6h6.4v6.4h-6.4zM1059.6 680.5h6.4v6.4h-6.4zM1061.5 680.4h6.4v6.4h-6.4zM1063.4 680.4h6.4v6.4h-6.4zM1065.3 680.3h6.4v6.4h-6.4zM1067.3 680.2h6.4v6.4h-6.4zM1069.2 680.2h6.4v6.4h-6.4zM1071.1 680.1h6.4v6.4h-6.4zM1073 680h6.4v6.4h-6.4zM1074.9 680h6.4v6.4h-6.4zM1076.9 679.9h6.4v6.4h-6.4zM1078.8 679.8h6.4v6.4h-6.4zM1080.7 679.8h6.4v6.4h-6.4zM1082.6 679.7h6.4v6.4h-6.4zM1084.5 679.6h6.4v6.4h-6.4zM1086.5 679.5h6.4v6.4h-6.4zM1088.4 679.5h6.4v6.4h-6.4zM1090.3 679.4h6.4v6.4h-6.4zM1092.2 679.3h6.4v6.4h-6.4zM1094.1 679.2h6.4v6.4h-6.4zM1096.1 679.1h6.4v6.4h-6.4zM1098 679h6.4v6.4h-6.4zM1099.9 678.9h6.4v6.4h-6.4zM1101.8 678.8h6.4v6.4h-6.4zM1103.7 678.7h6.4v6.4h-6.4zM1105.7 678.6h6.4v6.4h-6.4zM1107.6 678.5h6.4v6.4h-6.4zM1109.5 678.3h6.4v6.4h-6.4zM1111.4 678.2h6.4v6.4h-6.4zM1113.3 678h6.4v6.4h-6.4zM1115.3 677.9h6.4v6.4h-6.4zM1117.2 677.7h6.4v6.4h-6.4zM1119.1 677.5h6.4v6.4h-6.4zM1121 677.4h6.4v6.4h-6.4zM1122.9 677.2h6.4v6.4h-6.4zM1124.9 677h6.4v6.4h-6.4zM1126.8 676.8h6.4v6.4h-6.4zM1128.7 676.6h6.4v6.4h-6.4zM1130.6 676.4h6.4v6.4h-6.4zM1132.5 676.1h6.4v6.4h-6.4zM1134.5 675.9h6.4v6.4h-6.4zM1136.4 675.6h6.4v6.4h-6.4zM1138.3 675.4h6.4v6.4h-6.4zM1140.2 675.1h6.4v6.4h-6.4zM1142.1 674.7h6.4v6.4h-6.4zM1144.1 674.4h6.4v6.4h-6.4zM1146 674h6.4v6.4h-6.4zM1147.9 673.5h6.4v6.4h-6.4zM1149.8 673h6.4v6.4h-6.4zM1151.7 672.4h6.4v6.4h-6.4zM1153.7 671.7h6.4v6.4h-6.4zM1155.6 670.8h6.4v6.4h-6.4zM1157.5 669.6h6.4v6.4h-6.4zM1159.4 668.1h6.4v6.4h-6.4zM1161.3 666.2h6.4v6.4h-6.4zM1163.3 663.6h6.4v6.4h-6.4zM1165.2 661h6.4v6.4h-6.4zM1167.1 658.3h6.4v6.4h-6.4zM1169 655.6h6.4v6.4h-6.4zM1170.9 653.1h6.4v6.4h-6.4zM1172.9 651h6.4v6.4h-6.4zM1174.8 649h6.4v6.4h-6.4zM1176.7 646.9h6.4v6.4h-6.4zM1178.6 644.5h6.4v6.4h-6.4zM1180.5 642h6.4v6.4h-6.4zM1182.5 639.4h6.4v6.4h-6.4zM1184.4 636.8h6.4v6.4h-6.4zM1186.3 634h6.4v6.4h-6.4zM1188.2 630.5h6.4v6.4h-6.4zM1190.1 626.1h6.4v6.4h-6.4zM1191.6 622.3h6.4v6.4h-6.4zM1194.2 614.2h6.4v6.4h-6.4zM1196 604.2h6.4v6.4h-6.4zM1199.3 594.4h6.4v6.4h-6.4zM1201.7 578.7h6.4v6.4h-6.4zM1203.8 561.8h6.4v6.4h-6.4zM1205.6 540.5h6.4v6.4h-6.4zM1207.6 515.6h6.4v6.4h-6.4zM1209.3 487.4h6.4v6.4h-6.4zM1211 448.4h6.4v6.4h-6.4zM1213.5 415.1h6.4v6.4h-6.4zM1215.1 406.6h6.4v6.4h-6.4zM1217.4 412h6.4v6.4h-6.4zM1219.5 428.4h6.4v6.4h-6.4zM1221.4 445.5h6.4v6.4h-6.4zM1223.3 460.3h6.4v6.4h-6.4zM1225 475.8h6.4v6.4h-6.4zM1226.4 487.1h6.4v6.4h-6.4zM1228.4 496.3h6.4v6.4h-6.4zM1230.9 502.5h6.4v6.4h-6.4zM1232.6 509.6h6.4v6.4h-6.4zM1234.7 517.5h6.4v6.4h-6.4zM1236.7 527h6.4v6.4h-6.4zM1238.4 532.4h6.4v6.4h-6.4zM1240.5 542.4h6.4v6.4h-6.4zM1242.5 551.9h6.4v6.4h-6.4zM1244.2 561.5h6.4v6.4h-6.4zM1246.3 569.8h6.4v6.4h-6.4zM1247.9 577.7h6.4v6.4h-6.4zM1250 585.2h6.4v6.4h-6.4zM1252.5 592.2h6.4v6.4h-6.4zM1254.3 597.3h6.4v6.4h-6.4zM1255.4 600.5h6.4v6.4h-6.4zM1257.3 605.8h6.4v6.4h-6.4zM1259.3 610.1h6.4v6.4h-6.4zM1261.2 614h6.4v6.4h-6.4zM1263.1 617.2h6.4v6.4h-6.4zM1265 620.1h6.4v6.4h-6.4zM1266.9 622.6h6.4v6.4h-6.4zM1268.9 624.8h6.4v6.4h-6.4zM1270.8 626.6h6.4v6.4h-6.4zM1272.7 628.3h6.4v6.4h-6.4zM1274.6 629.8h6.4v6.4h-6.4zM1276.5 630.8h6.4v6.4h-6.4zM1278.5 631.7h6.4v6.4h-6.4zM1280.4 632.6h6.4v6.4h-6.4zM1282.3 633.6h6.4v6.4h-6.4zM1284.2 634.9h6.4v6.4h-6.4zM1286.1 636.5h6.4v6.4h-6.4zM1288.1 638.7h6.4v6.4h-6.4zM1290 641.3h6.4v6.4h-6.4zM1291.9 643.9h6.4v6.4h-6.4zM1293.8 646.4h6.4v6.4h-6.4zM1295.7 648.6h6.4v6.4h-6.4zM1297.7 650.3h6.4v6.4h-6.4zM1299.6 651.9h6.4v6.4h-6.4zM1301.5 653.4h6.4v6.4h-6.4zM1303.4 654.8h6.4v6.4h-6.4zM1305.3 656.1h6.4v6.4h-6.4zM1307.3 657.4h6.4v6.4h-6.4zM1309.2 658.5h6.4v6.4h-6.4zM1311.1 659.7h6.4v6.4h-6.4zM1313 660.8h6.4v6.4h-6.4zM1314.9 661.8h6.4v6.4h-6.4zM1316.9 662.9h6.4v6.4h-6.4zM1318.8 663.9h6.4v6.4h-6.4zM1320.7 664.8h6.4v6.4h-6.4zM1322.6 665.7h6.4v6.4h-6.4zM1324.5 666.4h6.4v6.4h-6.4zM1326.5 667.1h6.4v6.4h-6.4zM1328.4 667.7h6.4v6.4h-6.4zM1330.3 668.3h6.4v6.4h-6.4zM1332.2 668.8h6.4v6.4h-6.4zM1334.1 669.3h6.4v6.4h-6.4zM1336.1 669.8h6.4v6.4h-6.4zM1338 670.3h6.4v6.4h-6.4zM1339.9 670.7h6.4v6.4h-6.4zM1341.8 671.1h6.4v6.4h-6.4zM1343.7 671.5h6.4v6.4h-6.4zM1345.7 671.8h6.4v6.4h-6.4zM1347.6 672.2h6.4v6.4h-6.4zM1349.5 672.5h6.4v6.4h-6.4zM1351.4 672.7h6.4v6.4h-6.4zM1353.3 673h6.4v6.4h-6.4zM1355.3 673.2h6.4v6.4h-6.4zM1357.2 673.4h6.4v6.4h-6.4zM1359.1 673.7h6.4v6.4h-6.4zM1361 673.9h6.4v6.4h-6.4zM1362.9 674.1h6.4v6.4h-6.4zM1364.9 674.3h6.4v6.4h-6.4zM1366.8 674.5h6.4v6.4h-6.4zM1368.7 674.7h6.4v6.4h-6.4zM1370.6 674.9h6.4v6.4h-6.4zM1372.5 675h6.4v6.4h-6.4zM1374.5 675.2h6.4v6.4h-6.4zM1376.4 675.3h6.4v6.4h-6.4zM1378.3 675.4h6.4v6.4h-6.4zM1380.2 675.5h6.4v6.4h-6.4zM1382.1 675.6h6.4v6.4h-6.4zM1384.1 675.6h6.4v6.4h-6.4zM1386 675.6h6.4v6.4h-6.4zM1387.9 675.1h6.4v6.4h-6.4zM1389.8 674.4h6.4v6.4h-6.4zM1391.7 673.6h6.4v6.4h-6.4zM1393.7 672.9h6.4v6.4h-6.4zM1395.6 672.6h6.4v6.4h-6.4zM1397.5 672.9h6.4v6.4h-6.4zM1399.4 673.8h6.4v6.4h-6.4zM1401.3 674.8h6.4v6.4h-6.4zM1403.3 675.6h6.4v6.4h-6.4zM1405.2 676h6.4v6.4h-6.4zM1407.1 675.6h6.4v6.4h-6.4zM1409 674.7h6.4v6.4h-6.4zM1410.9 673.6h6.4v6.4h-6.4zM1412.9 672.7h6.4v6.4h-6.4zM1414.8 672.3h6.4v6.4h-6.4zM1416.7 672.4h6.4v6.4h-6.4zM1418.6 672.6h6.4v6.4h-6.4zM1420.5 673h6.4v6.4h-6.4zM1422.5 673.4h6.4v6.4h-6.4zM1424.4 673.9h6.4v6.4h-6.4zM1426.3 674.3h6.4v6.4h-6.4zM1428.2 674.6h6.4v6.4h-6.4zM1430.1 674.8h6.4v6.4h-6.4zM1432.1 674.9h6.4v6.4h-6.4zM1434 675h6.4v6.4h-6.4zM1435.9 675.1h6.4v6.4h-6.4zM1437.8 675.2h6.4v6.4h-6.4zM1439.7 675.3h6.4v6.4h-6.4zM1441.7 675.4h6.4v6.4h-6.4zM1443.6 675.4h6.4v6.4h-6.4zM1445.5 675.5h6.4v6.4h-6.4zM1447.4 675.5h6.4v6.4h-6.4zM1449.3 675.5h6.4v6.4h-6.4zM1451.3 675.5h6.4v6.4h-6.4zM1453.2 675.5h6.4v6.4h-6.4zM1455.1 675.5h6.4v6.4h-6.4zM1457 675.5h6.4v6.4h-6.4zM1458.9 675.5h6.4v6.4h-6.4zM1460.9 675.5h6.4v6.4h-6.4zM1462.8 675.5h6.4v6.4h-6.4zM1464.7 675.5h6.4v6.4h-6.4zM1466.6 675.5h6.4v6.4h-6.4zM1468.5 675.5h6.4v6.4h-6.4zM1470.5 675.5h6.4v6.4h-6.4zM1472.4 675.5h6.4v6.4h-6.4zM1474.3 675.5h6.4v6.4h-6.4zM1476.2 675.5h6.4v6.4h-6.4zM1478.1 675.5h6.4v6.4h-6.4zM1480.1 675.5h6.4v6.4h-6.4zM1482 675.4h6.4v6.4h-6.4zM1483.3 675.3h6.4v6.4h-6.4zM1483.3 678.3h6.4v6.4h-6.4zM1483.3 681.3h6.4v6.4h-6.4zM1483.3 684.8h6.4v6.4h-6.4z" fill="#000"/>
<path d="M1649.5 686 L1646.9 686.4 L1644.4 686.9 L1641.8 687.3 L1639.3 687.8 L1636.8 688.2 L1634.2 688.7 L1631.6 689.2 L1629.1 689.6 L1626.5 690.1 L1624 690.5 L1621.4 690.9 L1618.9 691.3 L1616.3 691.6 L1613.8 691.9 L1611.2 692.3 L1608.7 692.6 L1606.1 692.9 L1603.6 693.2 L1601 693.4 L1598.5 693.7 L1595.9 694 L1593.4 694.2 L1590.8 694.5 L1588.3 694.7 L1585.8 694.9 L1583.2 695.1 L1580.6 695.3 L1578.1 695.5 L1575.5 695.7 L1573 695.8 L1570.4 696 L1567.9 696.1 L1565.3 696.3 L1562.8 696.4 L1560.2 696.6 L1557.7 696.7 L1555.1 696.8 L1552.6 697 L1550 697.1 L1547.5 697.2 L1544.9 697.3 L1542.4 697.4 L1539.8 697.5 L1537.3 697.6 L1534.8 697.7 L1532.2 697.8 L1529.6 697.8 L1527.1 697.9 L1524.5 698 L1522 698 L1519.4 698.1 L1516.9 698.1 L1514.3 698.1 L1511.8 698.2 L1509.2 698.2 L1506.7 698.2 L1504.1 698.2 L1501.6 698.3 L1499 698.3 L1496.5 698.3 L1493.9 698.3 L1491.4 698.4 L1488.8 698.4 L1486.3 698.4 L1483.8 698.4 L1481.2 698.5 L1478.6 698.5 L1476.1 698.6 L1473.5 698.6 L1471 698.7 L1468.4 698.7 L1465.9 698.7 L1463.3 698.8 L1460.8 698.9 L1458.2 698.9 L1455.7 699 L1453.1 699 L1450.6 699.1 L1448 699.1 L1445.5 699.2 L1442.9 699.3 L1440.4 699.3 L1437.8 699.4 L1435.3 699.4 L1432.8 699.5 L1430.2 699.6 L1427.6 699.6 L1425.1 699.7 L1422.5 699.8 L1420 699.9 L1417.4 699.9 L1414.9 700 L1412.3 700.1 L1409.8 700.2 L1407.2 700.3 L1404.7 700.3 L1402.1 700.4 L1399.6 700.5 L1397 700.6 L1394.5 700.6 L1391.9 700.7 L1389.4 700.8 L1386.8 700.8 L1384.3 700.9 L1381.8 701 L1379.2 701 L1376.6 701.1 L1374.1 701.1 L1371.5 701.2 L1369 701.2 L1366.4 701.3 L1363.9 701.3 L1361.3 701.3 L1358.8 701.4 L1356.2 701.4 L1353.7 701.5 L1351.1 701.5 L1348.6 701.6 L1346 701.6 L1343.5 701.6 L1340.9 701.7 L1338.4 701.7 L1335.8 701.7 L1333.3 701.8 L1330.8 701.8 L1328.2 701.8 L1325.6 701.9 L1323.1 701.9 L1320.5 702 L1318 702 L1315.4 702 L1312.9 702.1 L1310.3 702.1 L1307.8 702.1 L1305.2 702.2 L1302.7 702.2 L1300.1 702.2 L1297.6 702.3 L1295 702.3 L1292.5 702.3 L1289.9 702.4 L1287.4 702.4 L1284.8 702.4 L1282.3 702.5 L1279.8 702.5 L1277.2 702.5 L1274.6 702.6 L1272.1 702.6 L1269.5 702.6 L1267 702.7 L1264.4 702.7 L1261.9 702.8 L1259.3 702.8 L1256.8 702.8 L1254.2 702.9 L1251.7 702.9 L1249.1 702.9 L1246.6 703 L1244 703 L1241.5 703 L1238.9 703.1 L1236.4 703.1 L1233.8 703.1 L1231.3 703.2 L1228.8 703.2 L1226.2 703.2 L1223.6 703.3 L1221.1 703.3 L1218.5 703.3 L1216 703.4 L1213.4 703.4 L1210.9 703.4 L1208.3 703.5 L1205.8 703.5 L1203.2 703.6 L1200.7 703.6 L1198.1 703.6 L1195.6 703.7 L1193 703.7 L1190.5 703.7 L1187.9 703.8 L1185.4 703.8 L1182.8 703.9 L1180.3 703.9 L1177.8 703.9 L1175.2 704 L1172.6 704 L1170.1 704 L1167.5 704.1 L1165 704.1 L1162.4 704.2 L1159.9 704.2 L1157.3 704.2 L1154.8 704.3 L1152.2 704.3 L1149.7 704.4 L1147.1 704.4 L1144.6 704.4 L1142 704.5 L1139.5 704.5 L1136.9 704.6 L1134.4 704.6 L1131.8 704.6 L1129.3 704.7 L1126.8 704.7 L1124.2 704.7 L1121.6 704.8 L1119.1 704.8 L1116.5 704.8 L1114 704.9 L1111.4 704.9 L1108.9 704.9 L1106.3 704.9 L1103.8 705 L1101.2 705 L1098.7 705 L1096.1 705 L1093.6 705.1 L1091 705.1 L1088.5 705.1 L1085.9 705.1 L1083.4 705.2 L1080.8 705.2 L1078.3 705.2 L1075.8 705.2 L1073.2 705.3 L1070.6 705.3 L1068.1 705.3 L1065.5 705.3 L1063 705.3 L1060.4 705.4 L1057.9 705.4 L1055.3 705.4 L1052.8 705.4 L1050.2 705.4 L1047.7 705.5 L1045.1 705.5 L1042.6 705.5 L1040 705.5 L1037.5 705.5 L1034.9 705.5 L1032.4 705.5 L1029.8 705.5 L1027.3 705.5 L1024.8 705.5 L1022.2 705.4 L1019.6 705.4 L1017.1 705.3 L1014.5 705.2 L1012 705.2 L1009.4 705.1 L1006.3 702.5 L1004.3 704.9 L1001.8 704.8 L999.2 704.8 L996.7 704.7 L994.1 704.6 L991.6 704.6 L989 704.5 L986.5 704.5 L983.9 704.4 L981.4 704.4 L978.8 704.4 L976.3 704.4 L973.8 704.4 L971.2 704.5 L968.6 704.5 L966.1 704.5 L963.5 704.6 L961 704.6 L958.4 704.7 L955.9 704.8 L953.3 704.8 L950.8 704.9 L948.2 705 L945.7 705.1 L943.1 705.1 L940.6 705.2 L938 705.3 L935.5 705.4 L932.9 705.5 L930.4 705.5 L927.8 705.6 L925.3 705.7 L922.8 705.8 L920.2 706 L917.6 706.1 L915.1 706.2 L912.5 706.3 L910 706.4 L907.4 706.6 L904.9 706.7 L902.3 706.9 L899.8 707 L897.2 707.2 L894.7 707.3 L892.1 707.5 L889.6 707.6 L887 707.8 L884.5 707.9 L881.9 708.1 L879.4 708.3 L876.8 708.5 L874.3 708.7 L871.8 708.8 L869.2 709 L866.6 709.3 L864.1 709.5 L861.5 709.7 L859 709.9 L856.4 710.2 L853.9 710.4 L851.3 710.7 L848.8 711 L846.2 711.2 L843.7 711.5 L841.1 711.8 L838.6 712.1 L836 712.5 L833.5 712.8 L830.9 713.2 L828.4 713.5 L825.8 714 L823.3 714.4 L820.8 714.9 L818.2 715.4 L815.6 716 L813.1 716.6 L810.5 717.3 L808 718.4 L805.4 719.6 L802.9 720.8 L800.3 721.9 L797.8 722.8 L795.2 723.8 L792.7 724.9 L790.1 726.2 L787.6 727.7 L785 729.5 L782.5 731.6 L779.9 734.1 L777.4 737.1 L774.8 740.9 L772.3 745.3 L769.8 750.5 L767.2 756 L764.6 761.5 L763 765.8 L760.4 774.9 L757.2 786 L754.8 800.5 L752 817.1 L749.6 839.1 L747.3 866 L744.2 899 L741.9 939.7 L739.2 985.4 L736.8 1034.4 L734.3 1084.5 L732.1 1137.7 L729.3 1186.7 L726.6 1230.3 L724 1260.5 L721.3 1274.4 L719.2 1267.2 L716.2 1241.1 L713.6 1203.8 L711.1 1162.6 L708.5 1120.9 L706.3 1084 L703.6 1049.8 L700.9 1016.2 L698.3 983.4 L695.6 950.5 L692.9 919.9 L690.9 890.1 L688.1 863.9 L685.2 841.2 L682.6 822.6 L680.2 808.4 L678.1 797.3 L677.9 796.6 L675.4 786.2 L672.8 780.1 L670.3 775.7 L667.8 771.9 L665.2 768.6 L662.6 765.8 L660.1 763.3 L657.5 761.2 L655 759.3 L652.4 757.7 L649.9 756.1 L647.3 754.7 L644.8 753.4 L642.2 752.2 L639.7 751.1 L637.1 750.1 L634.6 749.2 L632 748.3 L629.5 747.5 L626.9 746.8 L624.4 746 L621.8 745.3 L619.3 744.7 L616.8 744 L614.2 743.4 L611.6 742.8 L609.1 742.2 L606.5 741.6 L604 741 L601.4 740.5 L598.9 739.9 L596.3 739.4 L593.8 738.9 L591.2 738.4 L588.7 737.9 L586.1 737.4 L583.6 736.9 L581 736.4 L578.5 735.9 L575.9 735.4 L573.4 734.9 L570.8 734.3 L568.3 733.7 L565.8 733 L563.2 732.3 L560.6 731.7 L558.1 731 L555.5 730.3 L553 729.7 L550.4 729.3 L547.9 729 L545.3 728.7 L542.8 728.4 L540.2 728.2 L537.7 727.9 L535.1 727.7 L532.6 727.6 L530 727.4 L527.5 727.2 L524.9 727.1 L522.4 726.9 L519.8 726.8 L517.3 726.6 L514.8 726.5 L512.2 726.3 L509.6 726.1 L507.1 726 L504.5 725.8 L502 725.6 L499.4 725.4 L496.9 725.3 L494.3 725.1 L491.8 724.9 L489.2 724.7 L486.7 724.6 L484.1 724.4 L481.6 724.2 L479 724.1 L476.5 723.9 L473.9 723.8 L471.4 723.6 L468.8 723.4 L466.3 723.3 L463.8 723.1 L461.2 723 L458.6 722.8 L456.1 722.7 L453.5 722.5 L451 722.3 L448.4 722.2 L445.9 722 L443.3 721.9 L440.8 721.7 L438.2 721.6 L435.7 721.4 L433.1 721.3 L430.6 721.1 L428 721 L425.5 720.8 L422.9 720.7 L420.4 720.6 L417.8 720.4 L415.3 720.3 L412.8 720.2 L410.2 720.1 L407.6 719.9 L405.1 719.8 L402.5 719.7 L400 719.6 L397.4 719.4 L394.9 719.3 L392.3 719.2 L389.8 719.1 L387.2 719 L384.7 718.9 L382.1 718.8 L379.6 718.7 L377 718.7 L374.5 718.6 L371.9 718.6 L369.4 718.7 L366.8 719.1 L364.5 719.5 L364.5 716.3 L364.5 713 L366.7 709.7 L369.2 707.6 L371.8 706.7 L374.3 706.3 L376.9 706.1 L379.4 705.8 L382 705.6 L384.5 705.2 L387.1 704.8 L389.6 704.4 L392.2 704 L394.7 703.6 L397.3 703.2 L399.8 702.8 L402.4 702.4 L404.9 702 L407.5 701.6 L410 701.2 L412.6 700.9 L415.1 700.5 L417.7 700.2 L420.2 699.9 L422.8 699.6 L425.3 699.2 L427.9 698.9 L430.4 698.6 L433 698.3 L435.5 698 L438.1 697.8 L440.6 697.5 L443.2 697.2 L445.7 697 L448.2 696.8 L450.8 696.6 L453.4 696.4 L455.9 696.3 L458.5 696.1 L461 696 L463.6 695.8 L466.1 695.7 L468.7 695.6 L471.2 695.5 L473.8 695.4 L476.3 695.3 L478.9 695.2 L481.4 695.1 L484 695 L486.5 694.9 L489.1 694.8 L491.6 694.7 L494.2 694.6 L496.7 694.6 L499.2 694.5 L501.8 694.4 L504.4 694.3 L506.9 694.2 L509.5 694.1 L512 694.1 L514.6 694 L517.1 693.9 L519.7 693.8 L522.2 693.8 L524.8 693.7 L527.3 693.6 L529.9 693.5 L532.4 693.5 L535 693.4 L537.5 693.3 L540.1 693.3 L542.6 693.2 L545.2 693.1 L547.7 693.1 L550.2 693 L552.8 692.9 L555.4 692.8 L557.9 692.8 L560.5 692.7 L563 692.6 L565.6 692.5 L568.1 692.5 L570.7 692.4 L573.2 692.3 L575.8 692.2 L578.3 692.2 L580.9 692.1 L583.4 692 L586 692 L588.5 691.9 L591.1 691.8 L593.6 691.8 L596.2 691.7 L598.7 691.6 L601.2 691.6 L603.8 691.5 L606.4 691.5 L608.9 691.4 L611.5 691.3 L614 691.3 L616.6 691.2 L619.1 691.2 L621.7 691.1 L624.2 691 L626.8 691 L629.3 690.9 L631.9 690.9 L634.4 690.8 L637 690.8 L639.5 690.7 L642.1 690.7 L644.6 690.6 L647.2 690.6 L649.7 690.5 L652.2 690.5 L654.8 690.4 L657.4 690.4 L659.9 690.3 L662.5 690.3 L665 690.2 L667.6 690.2 L670.1 690.1 L672.7 690.1 L675.2 690 L677.8 690 L680.3 689.9 L682.9 689.9 L685.4 689.8 L688 689.8 L690.5 689.8 L693.1 689.7 L695.6 689.7 L698.2 689.6 L700.7 689.6 L703.2 689.5 L705.8 689.5 L708.4 689.5 L710.9 689.4 L713.5 689.4 L716 689.4 L718.6 689.3 L721.1 689.3 L723.7 689.2 L726.2 689.2 L728.8 689.2 L731.3 689.1 L733.9 689.1 L736.4 689.1 L739 689 L741.5 689 L744 689 L746.6 688.9 L749.2 688.9 L751.7 688.9 L754.2 688.8 L756.8 688.8 L759.4 688.8 L761.9 688.7 L764.5 688.7 L767 688.7 L769.5 688.6 L772.1 688.6 L774.7 688.6 L777.2 688.5 L779.8 688.5 L782.3 688.5 L784.9 688.5 L787.4 688.4 L790 688.4 L792.5 688.4 L795 688.3 L797.6 688.3 L800.2 688.3 L802.7 688.2 L805.2 688.2 L807.8 688.2 L810.4 688.1 L812.9 688.1 L815.5 688.1 L818 688 L820.5 688 L823.1 688 L825.7 687.9 L828.2 687.9 L830.8 687.9 L833.3 687.8 L835.9 687.8 L838.4 687.8 L841 687.7 L843.5 687.7 L846 687.7 L848.6 687.6 L851.2 687.6 L853.7 687.6 L856.2 687.5 L858.8 687.5 L861.4 687.5 L863.9 687.4 L866.5 687.4 L869 687.4 L871.5 687.3 L874.1 687.3 L876.7 687.2 L879.2 687.2 L881.8 687.2 L884.3 687.1 L886.9 687.1 L889.4 687.1 L892 687 L894.5 687 L897 687 L899.6 686.9 L902.2 686.9 L904.7 686.8 L907.2 686.8 L909.8 686.8 L912.4 686.7 L914.9 686.7 L917.5 686.6 L920 686.6 L922.5 686.6 L925.1 686.5 L927.7 686.5 L930.2 686.4 L932.8 686.4 L935.3 686.3 L937.9 686.3 L940.4 686.3 L943 686.2 L945.5 686.2 L948 686.1 L950.6 686.1 L953.2 686 L955.7 686 L958.2 685.9 L960.8 685.9 L963.4 685.8 L965.9 685.8 L968.5 685.7 L971 685.7 L973.5 685.6 L976.1 685.6 L978.7 685.5 L981.2 685.4 L983.8 685.4 L986.3 685.3 L988.9 685.2 L991.4 685.2 L994 685.1 L996.5 685 L999 684.9 L1001.6 684.8 L1004.1 684.7 L1006.3 689.5 L1009.2 684.4 L1011.8 684.4 L1014.4 684.3 L1016.9 684.2 L1019.5 684.1 L1022 684 L1024.5 683.9 L1027.1 683.8 L1029.7 683.7 L1032.2 683.6 L1034.8 683.5 L1037.3 683.4 L1039.8 683.3 L1042.4 683.2 L1045 683.1 L1047.5 683 L1050 682.9 L1052.6 682.8 L1055.2 682.7 L1057.7 682.6 L1060.2 682.4 L1062.8 682.3 L1065.3 682.2 L1067.9 682.1 L1070.5 681.9 L1073 681.8 L1075.5 681.6 L1078.1 681.5 L1080.7 681.3 L1083.2 681.2 L1085.8 681 L1088.3 680.8 L1090.8 680.7 L1093.4 680.5 L1096 680.3 L1098.5 680.1 L1101 679.9 L1103.6 679.6 L1106.2 679.4 L1108.7 679.2 L1111.2 678.9 L1113.8 678.5 L1116.3 678.2 L1118.9 677.8 L1121.5 677.5 L1124 677 L1126.5 676.6 L1129.1 676.2 L1131.7 675.7 L1134.2 675.2 L1136.8 674.7 L1139.3 674.2 L1141.8 673.6 L1144.4 672.9 L1147 672.2 L1149.5 671.5 L1152 670.7 L1154.6 669.9 L1157.2 669.1 L1159.7 668.3 L1162.2 667.5 L1164.8 666.6 L1167.3 665.7 L1169.9 664.5 L1172.5 663.1 L1175 661.4 L1177.5 659.8 L1180.1 658.3 L1182.7 656.7 L1185.2 655.2 L1187.8 653.6 L1190.3 651.5 L1192.8 648.8 L1195.4 646 L1198 643 L1200.5 637.9 L1203 631.6 L1205.6 625.8 L1208.2 619.7 L1210.3 614 L1213.5 605.1 L1215.8 594.5 L1218.3 580.8 L1220.5 565.1 L1223.4 545.9 L1225.9 519.8 L1228.8 489.4 L1230.9 450.2 L1233.5 408.2 L1236.6 359.8 L1238.9 307.5 L1241 249.5 L1243.9 191.5 L1246.4 134.4 L1248.7 88.7 L1251.5 63.4 L1254.8 64.4 L1256.7 94.3 L1259.4 142 L1261.5 199.6 L1264.4 258.1 L1267.1 312.7 L1269.4 363.1 L1272 410.5 L1274.3 452.5 L1277.8 489.7 L1279.9 522 L1282.5 547.6 L1285 566.1 L1287.2 581.3 L1289.8 594.4 L1292.3 600.8 L1294.8 609.3 L1297.4 617.7 L1300 623.2 L1302.5 626.9 L1305 629.9 L1307.6 632.5 L1310.2 634.9 L1312.7 637 L1315.2 638.9 L1317.8 640.7 L1320.3 642.3 L1322.9 643.9 L1325.5 645.3 L1328 646.6 L1330.5 647.8 L1333.1 648.8 L1335.7 649.8 L1338.2 650.7 L1340.8 651.6 L1343.3 652.4 L1345.8 653.2 L1348.4 654 L1351 654.7 L1353.5 655.4 L1356 656 L1358.6 656.6 L1361.2 657.2 L1363.7 657.8 L1366.2 658.3 L1368.8 658.9 L1371.3 659.4 L1373.9 659.9 L1376.5 660.4 L1379 660.9 L1381.5 661.4 L1384.1 661.8 L1386.7 662.3 L1389.2 662.7 L1391.8 663.1 L1394.3 663.5 L1396.8 663.9 L1399.4 664.2 L1402 664.5 L1404.5 664.8 L1407 665.1 L1409.6 665.4 L1412.2 665.7 L1414.7 666 L1417.2 666.3 L1419.8 666.5 L1422.3 666.8 L1424.9 667 L1427.5 667.3 L1430 667.5 L1432.5 667.7 L1435.1 667.9 L1437.7 668.1 L1440.2 668.4 L1442.8 668.5 L1445.3 668.7 L1447.8 668.9 L1450.4 669.1 L1453 669.3 L1455.5 669.5 L1458 669.6 L1460.6 669.8 L1463.2 670 L1465.7 670.1 L1468.2 670.3 L1470.8 670.4 L1473.3 670.5 L1475.9 670.7 L1478.5 670.8 L1481 670.9 L1483.5 671 L1486.1 671.1 L1488.7 671.2 L1491.2 671.2 L1493.8 671.3 L1496.3 671.4 L1498.8 671.5 L1501.4 671.6 L1504 671.7 L1506.5 671.8 L1509 671.9 L1511.6 672 L1514.2 672.1 L1516.7 672.2 L1519.2 672.4 L1521.8 672.5 L1524.3 672.6 L1526.9 672.8 L1529.5 672.9 L1532 673.1 L1534.5 673.2 L1537.1 673.4 L1539.7 673.6 L1542.2 673.7 L1544.8 673.9 L1547.3 674 L1549.8 674.2 L1552.4 674.3 L1555 674.4 L1557.5 674.6 L1560 674.7 L1562.6 674.8 L1565.2 675 L1567.7 675.1 L1570.2 675.2 L1572.8 675.4 L1575.3 675.5 L1577.9 675.6 L1580.5 675.8 L1583 675.9 L1585.5 676 L1588.1 676.1 L1590.7 676.2 L1593.2 676.3 L1595.8 676.4 L1598.3 676.5 L1600.8 676.5 L1603.4 676.6 L1606 676.7 L1608.5 676.7 L1611 676.8 L1613.6 676.8 L1616.2 676.9 L1618.7 676.9 L1621.2 677 L1623.8 677 L1626.3 677.1 L1628.9 677.1 L1631.5 677.2 L1634 677.3 L1636.5 677.3 L1639.1 677.4 L1641.7 677.5 L1644.2 677.6 L1646.8 677.8 L1649.5 678 L1649.5 681 L1649.5 684 L1649.5 686" fill="none" stroke="#0000ff" stroke-width="2.1" stroke-linejoin="round"/>
<path d="M1646.3 682.8h6.4v6.4h-6.4zM1643.7 683.2h6.4v6.4h-6.4zM1641.2 683.7h6.4v6.4h-6.4zM1638.6 684.1h6.4v6.4h-6.4zM1636.1 684.6h6.4v6.4h-6.4zM1633.5 685h6.4v6.4h-6.4zM1631 685.5h6.4v6.4h-6.4zM1628.4 686h6.4v6.4h-6.4zM1625.9 686.4h6.4v6.4h-6.4zM1623.3 686.9h6.4v6.4h-6.4zM1620.8 687.3h6.4v6.4h-6.4zM1618.2 687.7h6.4v6.4h-6.4zM1615.7 688.1h6.4v6.4h-6.4zM1613.1 688.4h6.4v6.4h-6.4zM1610.6 688.7h6.4v6.4h-6.4zM1608 689.1h6.4v6.4h-6.4zM1605.5 689.4h6.4v6.4h-6.4zM1602.9 689.7h6.4v6.4h-6.4zM1600.4 690h6.4v6.4h-6.4zM1597.8 690.2h6.4v6.4h-6.4zM1595.3 690.5h6.4v6.4h-6.4zM1592.7 690.8h6.4v6.4h-6.4zM1590.2 691h6.4v6.4h-6.4zM1587.6 691.3h6.4v6.4h-6.4zM1585.1 691.5h6.4v6.4h-6.4zM1582.5 691.7h6.4v6.4h-6.4zM1580 691.9h6.4v6.4h-6.4zM1577.4 692.1h6.4v6.4h-6.4zM1574.9 692.3h6.4v6.4h-6.4zM1572.3 692.5h6.4v6.4h-6.4zM1569.8 692.6h6.4v6.4h-6.4zM1567.2 692.8h6.4v6.4h-6.4zM1564.7 692.9h6.4v6.4h-6.4zM1562.1 693.1h6.4v6.4h-6.4zM1559.6 693.2h6.4v6.4h-6.4zM1557 693.4h6.4v6.4h-6.4zM1554.5 693.5h6.4v6.4h-6.4zM1551.9 693.6h6.4v6.4h-6.4zM1549.4 693.8h6.4v6.4h-6.4zM1546.8 693.9h6.4v6.4h-6.4zM1544.3 694h6.4v6.4h-6.4zM1541.7 694.1h6.4v6.4h-6.4zM1539.2 694.2h6.4v6.4h-6.4zM1536.6 694.3h6.4v6.4h-6.4zM1534.1 694.4h6.4v6.4h-6.4zM1531.5 694.5h6.4v6.4h-6.4zM1529 694.6h6.4v6.4h-6.4zM1526.4 694.6h6.4v6.4h-6.4zM1523.9 694.7h6.4v6.4h-6.4zM1521.3 694.8h6.4v6.4h-6.4zM1518.8 694.8h6.4v6.4h-6.4zM1516.2 694.9h6.4v6.4h-6.4zM1513.7 694.9h6.4v6.4h-6.4zM1511.1 694.9h6.4v6.4h-6.4zM1508.6 695h6.4v6.4h-6.4zM1506 695h6.4v6.4h-6.4zM1503.5 695h6.4v6.4h-6.4zM1500.9 695h6.4v6.4h-6.4zM1498.4 695.1h6.4v6.4h-6.4zM1495.8 695.1h6.4v6.4h-6.4zM1493.3 695.1h6.4v6.4h-6.4zM1490.7 695.1h6.4v6.4h-6.4zM1488.2 695.2h6.4v6.4h-6.4zM1485.6 695.2h6.4v6.4h-6.4zM1483.1 695.2h6.4v6.4h-6.4zM1480.5 695.2h6.4v6.4h-6.4zM1478 695.3h6.4v6.4h-6.4zM1475.4 695.3h6.4v6.4h-6.4zM1472.9 695.4h6.4v6.4h-6.4zM1470.3 695.4h6.4v6.4h-6.4zM1467.8 695.5h6.4v6.4h-6.4zM1465.2 695.5h6.4v6.4h-6.4zM1462.7 695.5h6.4v6.4h-6.4zM1460.1 695.6h6.4v6.4h-6.4zM1457.6 695.7h6.4v6.4h-6.4zM1455 695.7h6.4v6.4h-6.4zM1452.5 695.8h6.4v6.4h-6.4zM1449.9 695.8h6.4v6.4h-6.4zM1447.4 695.9h6.4v6.4h-6.4zM1444.8 695.9h6.4v6.4h-6.4zM1442.3 696h6.4v6.4h-6.4zM1439.7 696.1h6.4v6.4h-6.4zM1437.2 696.1h6.4v6.4h-6.4zM1434.6 696.2h6.4v6.4h-6.4zM1432.1 696.2h6.4v6.4h-6.4zM1429.5 696.3h6.4v6.4h-6.4zM1427 696.4h6.4v6.4h-6.4zM1424.4 696.4h6.4v6.4h-6.4zM1421.9 696.5h6.4v6.4h-6.4zM1419.3 696.6h6.4v6.4h-6.4zM1416.8 696.7h6.4v6.4h-6.4zM1414.2 696.7h6.4v6.4h-6.4zM1411.7 696.8h6.4v6.4h-6.4zM1409.1 696.9h6.4v6.4h-6.4zM1406.6 697h6.4v6.4h-6.4zM1404 697.1h6.4v6.4h-6.4zM1401.5 697.1h6.4v6.4h-6.4zM1398.9 697.2h6.4v6.4h-6.4zM1396.4 697.3h6.4v6.4h-6.4zM1393.8 697.4h6.4v6.4h-6.4zM1391.3 697.4h6.4v6.4h-6.4zM1388.7 697.5h6.4v6.4h-6.4zM1386.2 697.6h6.4v6.4h-6.4zM1383.6 697.6h6.4v6.4h-6.4zM1381.1 697.7h6.4v6.4h-6.4zM1378.5 697.8h6.4v6.4h-6.4zM1376 697.8h6.4v6.4h-6.4zM1373.4 697.9h6.4v6.4h-6.4zM1370.9 697.9h6.4v6.4h-6.4zM1368.3 698h6.4v6.4h-6.4zM1365.8 698h6.4v6.4h-6.4zM1363.2 698.1h6.4v6.4h-6.4zM1360.7 698.1h6.4v6.4h-6.4zM1358.1 698.1h6.4v6.4h-6.4zM1355.6 698.2h6.4v6.4h-6.4zM1353 698.2h6.4v6.4h-6.4zM1350.5 698.3h6.4v6.4h-6.4zM1347.9 698.3h6.4v6.4h-6.4zM1345.4 698.4h6.4v6.4h-6.4zM1342.8 698.4h6.4v6.4h-6.4zM1340.3 698.4h6.4v6.4h-6.4zM1337.7 698.5h6.4v6.4h-6.4zM1335.2 698.5h6.4v6.4h-6.4zM1332.6 698.5h6.4v6.4h-6.4zM1330.1 698.6h6.4v6.4h-6.4zM1327.5 698.6h6.4v6.4h-6.4zM1325 698.6h6.4v6.4h-6.4zM1322.4 698.7h6.4v6.4h-6.4zM1319.9 698.7h6.4v6.4h-6.4zM1317.3 698.8h6.4v6.4h-6.4zM1314.8 698.8h6.4v6.4h-6.4zM1312.2 698.8h6.4v6.4h-6.4zM1309.7 698.9h6.4v6.4h-6.4zM1307.1 698.9h6.4v6.4h-6.4zM1304.6 698.9h6.4v6.4h-6.4zM1302 699h6.4v6.4h-6.4zM1299.5 699h6.4v6.4h-6.4zM1296.9 699h6.4v6.4h-6.4zM1294.4 699.1h6.4v6.4h-6.4zM1291.8 699.1h6.4v6.4h-6.4zM1289.3 699.1h6.4v6.4h-6.4zM1286.7 699.2h6.4v6.4h-6.4zM1284.2 699.2h6.4v6.4h-6.4zM1281.6 699.2h6.4v6.4h-6.4zM1279.1 699.3h6.4v6.4h-6.4zM1276.5 699.3h6.4v6.4h-6.4zM1274 699.3h6.4v6.4h-6.4zM1271.4 699.4h6.4v6.4h-6.4zM1268.9 699.4h6.4v6.4h-6.4zM1266.3 699.4h6.4v6.4h-6.4zM1263.8 699.5h6.4v6.4h-6.4zM1261.2 699.5h6.4v6.4h-6.4zM1258.7 699.6h6.4v6.4h-6.4zM1256.1 699.6h6.4v6.4h-6.4zM1253.6 699.6h6.4v6.4h-6.4zM1251 699.7h6.4v6.4h-6.4zM1248.5 699.7h6.4v6.4h-6.4zM1245.9 699.7h6.4v6.4h-6.4zM1243.4 699.8h6.4v6.4h-6.4zM1240.8 699.8h6.4v6.4h-6.4zM1238.3 699.8h6.4v6.4h-6.4zM1235.7 699.9h6.4v6.4h-6.4zM1233.2 699.9h6.4v6.4h-6.4zM1230.6 699.9h6.4v6.4h-6.4zM1228.1 700h6.4v6.4h-6.4zM1225.5 700h6.4v6.4h-6.4zM1223 700h6.4v6.4h-6.4zM1220.4 700.1h6.4v6.4h-6.4zM1217.9 700.1h6.4v6.4h-6.4zM1215.3 700.1h6.4v6.4h-6.4zM1212.8 700.2h6.4v6.4h-6.4zM1210.2 700.2h6.4v6.4h-6.4zM1207.7 700.2h6.4v6.4h-6.4zM1205.1 700.3h6.4v6.4h-6.4zM1202.6 700.3h6.4v6.4h-6.4zM1200 700.4h6.4v6.4h-6.4zM1197.5 700.4h6.4v6.4h-6.4zM1194.9 700.4h6.4v6.4h-6.4zM1192.4 700.5h6.4v6.4h-6.4zM1189.8 700.5h6.4v6.4h-6.4zM1187.3 700.5h6.4v6.4h-6.4zM1184.7 700.6h6.4v6.4h-6.4zM1182.2 700.6h6.4v6.4h-6.4zM1179.6 700.7h6.4v6.4h-6.4zM1177.1 700.7h6.4v6.4h-6.4zM1174.5 700.7h6.4v6.4h-6.4zM1172 700.8h6.4v6.4h-6.4zM1169.4 700.8h6.4v6.4h-6.4zM1166.9 700.8h6.4v6.4h-6.4zM1164.3 700.9h6.4v6.4h-6.4zM1161.8 700.9h6.4v6.4h-6.4zM1159.2 701h6.4v6.4h-6.4zM1156.7 701h6.4v6.4h-6.4zM1154.1 701h6.4v6.4h-6.4zM1151.6 701.1h6.4v6.4h-6.4zM1149 701.1h6.4v6.4h-6.4zM1146.5 701.2h6.4v6.4h-6.4zM1143.9 701.2h6.4v6.4h-6.4zM1141.4 701.2h6.4v6.4h-6.4zM1138.8 701.3h6.4v6.4h-6.4zM1136.3 701.3h6.4v6.4h-6.4zM1133.7 701.4h6.4v6.4h-6.4zM1131.2 701.4h6.4v6.4h-6.4zM1128.6 701.4h6.4v6.4h-6.4zM1126.1 701.5h6.4v6.4h-6.4zM1123.5 701.5h6.4v6.4h-6.4zM1121 701.5h6.4v6.4h-6.4zM1118.4 701.6h6.4v6.4h-6.4zM1115.9 701.6h6.4v6.4h-6.4zM1113.3 701.6h6.4v6.4h-6.4zM1110.8 701.7h6.4v6.4h-6.4zM1108.2 701.7h6.4v6.4h-6.4zM1105.7 701.7h6.4v6.4h-6.4zM1103.1 701.7h6.4v6.4h-6.4zM1100.6 701.8h6.4v6.4h-6.4zM1098 701.8h6.4v6.4h-6.4zM1095.5 701.8h6.4v6.4h-6.4zM1092.9 701.8h6.4v6.4h-6.4zM1090.4 701.9h6.4v6.4h-6.4zM1087.8 701.9h6.4v6.4h-6.4zM1085.3 701.9h6.4v6.4h-6.4zM1082.7 701.9h6.4v6.4h-6.4zM1080.2 702h6.4v6.4h-6.4zM1077.6 702h6.4v6.4h-6.4zM1075.1 702h6.4v6.4h-6.4zM1072.5 702h6.4v6.4h-6.4zM1070 702.1h6.4v6.4h-6.4zM1067.4 702.1h6.4v6.4h-6.4zM1064.9 702.1h6.4v6.4h-6.4zM1062.3 702.1h6.4v6.4h-6.4zM1059.8 702.1h6.4v6.4h-6.4zM1057.2 702.2h6.4v6.4h-6.4zM1054.7 702.2h6.4v6.4h-6.4zM1052.1 702.2h6.4v6.4h-6.4zM1049.6 702.2h6.4v6.4h-6.4zM1047 702.2h6.4v6.4h-6.4zM1044.5 702.3h6.4v6.4h-6.4zM1041.9 702.3h6.4v6.4h-6.4zM1039.4 702.3h6.4v6.4h-6.4zM1036.8 702.3h6.4v6.4h-6.4zM1034.3 702.3h6.4v6.4h-6.4zM1031.7 702.3h6.4v6.4h-6.4zM1029.2 702.3h6.4v6.4h-6.4zM1026.6 702.3h6.4v6.4h-6.4zM1024.1 702.3h6.4v6.4h-6.4zM1021.5 702.3h6.4v6.4h-6.4zM1019 702.2h6.4v6.4h-6.4zM1016.4 702.2h6.4v6.4h-6.4zM1013.9 702.1h6.4v6.4h-6.4zM1011.3 702h6.4v6.4h-6.4zM1008.8 702h6.4v6.4h-6.4zM1006.2 701.9h6.4v6.4h-6.4zM1003.1 699.3h6.4v6.4h-6.4zM1001.1 701.7h6.4v6.4h-6.4zM998.6 701.6h6.4v6.4h-6.4zM996 701.6h6.4v6.4h-6.4zM993.5 701.5h6.4v6.4h-6.4zM990.9 701.4h6.4v6.4h-6.4zM988.4 701.4h6.4v6.4h-6.4zM985.8 701.3h6.4v6.4h-6.4zM983.3 701.3h6.4v6.4h-6.4zM980.7 701.2h6.4v6.4h-6.4zM978.2 701.2h6.4v6.4h-6.4zM975.6 701.2h6.4v6.4h-6.4zM973.1 701.2h6.4v6.4h-6.4zM970.5 701.2h6.4v6.4h-6.4zM968 701.3h6.4v6.4h-6.4zM965.4 701.3h6.4v6.4h-6.4zM962.9 701.3h6.4v6.4h-6.4zM960.3 701.4h6.4v6.4h-6.4zM957.8 701.4h6.4v6.4h-6.4zM955.2 701.5h6.4v6.4h-6.4zM952.7 701.6h6.4v6.4h-6.4zM950.1 701.6h6.4v6.4h-6.4zM947.6 701.7h6.4v6.4h-6.4zM945 701.8h6.4v6.4h-6.4zM942.5 701.9h6.4v6.4h-6.4zM939.9 701.9h6.4v6.4h-6.4zM937.4 702h6.4v6.4h-6.4zM934.8 702.1h6.4v6.4h-6.4zM932.3 702.2h6.4v6.4h-6.4zM929.7 702.3h6.4v6.4h-6.4zM927.2 702.3h6.4v6.4h-6.4zM924.6 702.4h6.4v6.4h-6.4zM922.1 702.5h6.4v6.4h-6.4zM919.5 702.6h6.4v6.4h-6.4zM917 702.8h6.4v6.4h-6.4zM914.4 702.9h6.4v6.4h-6.4zM911.9 703h6.4v6.4h-6.4zM909.3 703.1h6.4v6.4h-6.4zM906.8 703.2h6.4v6.4h-6.4zM904.2 703.4h6.4v6.4h-6.4zM901.7 703.5h6.4v6.4h-6.4zM899.1 703.7h6.4v6.4h-6.4zM896.6 703.8h6.4v6.4h-6.4zM894 704h6.4v6.4h-6.4zM891.5 704.1h6.4v6.4h-6.4zM888.9 704.3h6.4v6.4h-6.4zM886.4 704.4h6.4v6.4h-6.4zM883.8 704.6h6.4v6.4h-6.4zM881.3 704.7h6.4v6.4h-6.4zM878.7 704.9h6.4v6.4h-6.4zM876.2 705.1h6.4v6.4h-6.4zM873.6 705.3h6.4v6.4h-6.4zM871.1 705.5h6.4v6.4h-6.4zM868.5 705.6h6.4v6.4h-6.4zM866 705.8h6.4v6.4h-6.4zM863.4 706.1h6.4v6.4h-6.4zM860.9 706.3h6.4v6.4h-6.4zM858.3 706.5h6.4v6.4h-6.4zM855.8 706.7h6.4v6.4h-6.4zM853.2 707h6.4v6.4h-6.4zM850.7 707.2h6.4v6.4h-6.4zM848.1 707.5h6.4v6.4h-6.4zM845.6 707.8h6.4v6.4h-6.4zM843 708h6.4v6.4h-6.4zM840.5 708.3h6.4v6.4h-6.4zM837.9 708.6h6.4v6.4h-6.4zM835.4 708.9h6.4v6.4h-6.4zM832.8 709.3h6.4v6.4h-6.4zM830.3 709.6h6.4v6.4h-6.4zM827.7 710h6.4v6.4h-6.4zM825.2 710.3h6.4v6.4h-6.4zM822.6 710.8h6.4v6.4h-6.4zM820.1 711.2h6.4v6.4h-6.4zM817.5 711.7h6.4v6.4h-6.4zM815 712.2h6.4v6.4h-6.4zM812.4 712.8h6.4v6.4h-6.4zM809.9 713.4h6.4v6.4h-6.4zM807.3 714.1h6.4v6.4h-6.4zM804.8 715.2h6.4v6.4h-6.4zM802.2 716.4h6.4v6.4h-6.4zM799.7 717.6h6.4v6.4h-6.4zM797.1 718.7h6.4v6.4h-6.4zM794.6 719.6h6.4v6.4h-6.4zM792 720.6h6.4v6.4h-6.4zM789.5 721.7h6.4v6.4h-6.4zM786.9 723h6.4v6.4h-6.4zM784.4 724.5h6.4v6.4h-6.4zM781.8 726.3h6.4v6.4h-6.4zM779.3 728.4h6.4v6.4h-6.4zM776.7 730.9h6.4v6.4h-6.4zM774.2 733.9h6.4v6.4h-6.4zM771.6 737.7h6.4v6.4h-6.4zM769.1 742.1h6.4v6.4h-6.4zM766.5 747.3h6.4v6.4h-6.4zM764 752.8h6.4v6.4h-6.4zM761.4 758.3h6.4v6.4h-6.4zM759.8 762.6h6.4v6.4h-6.4zM757.2 771.7h6.4v6.4h-6.4zM754 782.8h6.4v6.4h-6.4zM751.6 797.3h6.4v6.4h-6.4zM748.8 813.9h6.4v6.4h-6.4zM746.4 835.9h6.4v6.4h-6.4zM744.1 862.8h6.4v6.4h-6.4zM741 895.8h6.4v6.4h-6.4zM738.7 936.5h6.4v6.4h-6.4zM736 982.2h6.4v6.4h-6.4zM733.6 1031.2h6.4v6.4h-6.4zM731.1 1081.3h6.4v6.4h-6.4zM728.9 1134.5h6.4v6.4h-6.4zM726.1 1183.5h6.4v6.4h-6.4zM723.4 1227.1h6.4v6.4h-6.4zM720.8 1257.3h6.4v6.4h-6.4zM718.1 1271.2h6.4v6.4h-6.4zM716 1264h6.4v6.4h-6.4zM713 1237.9h6.4v6.4h-6.4zM710.4 1200.6h6.4v6.4h-6.4zM707.9 1159.4h6.4v6.4h-6.4zM705.3 1117.7h6.4v6.4h-6.4zM703.1 1080.8h6.4v6.4h-6.4zM700.4 1046.6h6.4v6.4h-6.4zM697.7 1013h6.4v6.4h-6.4zM695.1 980.2h6.4v6.4h-6.4zM692.4 947.3h6.4v6.4h-6.4zM689.7 916.7h6.4v6.4h-6.4zM687.7 886.9h6.4v6.4h-6.4zM684.9 860.7h6.4v6.4h-6.4zM682 838h6.4v6.4h-6.4zM679.4 819.4h6.4v6.4h-6.4zM677 805.2h6.4v6.4h-6.4zM674.9 794.1h6.4v6.4h-6.4zM674.7 793.4h6.4v6.4h-6.4zM672.2 783h6.4v6.4h-6.4zM669.6 776.9h6.4v6.4h-6.4zM667.1 772.5h6.4v6.4h-6.4zM664.5 768.7h6.4v6.4h-6.4zM662 765.4h6.4v6.4h-6.4zM659.4 762.6h6.4v6.4h-6.4zM656.9 760.1h6.4v6.4h-6.4zM654.3 758h6.4v6.4h-6.4zM651.8 756.1h6.4v6.4h-6.4zM649.2 754.5h6.4v6.4h-6.4zM646.7 752.9h6.4v6.4h-6.4zM644.1 751.5h6.4v6.4h-6.4zM641.6 750.2h6.4v6.4h-6.4zM639 749h6.4v6.4h-6.4zM636.5 747.9h6.4v6.4h-6.4zM633.9 746.9h6.4v6.4h-6.4zM631.4 746h6.4v6.4h-6.4zM628.8 745.1h6.4v6.4h-6.4zM626.3 744.3h6.4v6.4h-6.4zM623.7 743.6h6.4v6.4h-6.4zM621.2 742.8h6.4v6.4h-6.4zM618.6 742.1h6.4v6.4h-6.4zM616.1 741.5h6.4v6.4h-6.4zM613.5 740.8h6.4v6.4h-6.4zM611 740.2h6.4v6.4h-6.4zM608.4 739.6h6.4v6.4h-6.4zM605.9 739h6.4v6.4h-6.4zM603.3 738.4h6.4v6.4h-6.4zM600.8 737.8h6.4v6.4h-6.4zM598.2 737.3h6.4v6.4h-6.4zM595.7 736.7h6.4v6.4h-6.4zM593.1 736.2h6.4v6.4h-6.4zM590.6 735.7h6.4v6.4h-6.4zM588 735.2h6.4v6.4h-6.4zM585.5 734.7h6.4v6.4h-6.4zM582.9 734.2h6.4v6.4h-6.4zM580.4 733.7h6.4v6.4h-6.4zM577.8 733.2h6.4v6.4h-6.4zM575.3 732.7h6.4v6.4h-6.4zM572.7 732.2h6.4v6.4h-6.4zM570.2 731.7h6.4v6.4h-6.4zM567.6 731.1h6.4v6.4h-6.4zM565.1 730.5h6.4v6.4h-6.4zM562.5 729.8h6.4v6.4h-6.4zM560 729.1h6.4v6.4h-6.4zM557.4 728.5h6.4v6.4h-6.4zM554.9 727.8h6.4v6.4h-6.4zM552.3 727.1h6.4v6.4h-6.4zM549.8 726.5h6.4v6.4h-6.4zM547.2 726.1h6.4v6.4h-6.4zM544.7 725.8h6.4v6.4h-6.4zM542.1 725.5h6.4v6.4h-6.4zM539.6 725.2h6.4v6.4h-6.4zM537 725h6.4v6.4h-6.4zM534.5 724.7h6.4v6.4h-6.4zM531.9 724.5h6.4v6.4h-6.4zM529.4 724.4h6.4v6.4h-6.4zM526.8 724.2h6.4v6.4h-6.4zM524.3 724h6.4v6.4h-6.4zM521.7 723.9h6.4v6.4h-6.4zM519.2 723.7h6.4v6.4h-6.4zM516.6 723.6h6.4v6.4h-6.4zM514.1 723.4h6.4v6.4h-6.4zM511.6 723.3h6.4v6.4h-6.4zM509 723.1h6.4v6.4h-6.4zM506.4 722.9h6.4v6.4h-6.4zM503.9 722.8h6.4v6.4h-6.4zM501.3 722.6h6.4v6.4h-6.4zM498.8 722.4h6.4v6.4h-6.4zM496.2 722.2h6.4v6.4h-6.4zM493.7 722.1h6.4v6.4h-6.4zM491.1 721.9h6.4v6.4h-6.4zM488.6 721.7h6.4v6.4h-6.4zM486.1 721.5h6.4v6.4h-6.4zM483.5 721.4h6.4v6.4h-6.4zM480.9 721.2h6.4v6.4h-6.4zM478.4 721h6.4v6.4h-6.4zM475.8 720.9h6.4v6.4h-6.4zM473.3 720.7h6.4v6.4h-6.4zM470.7 720.6h6.4v6.4h-6.4zM468.2 720.4h6.4v6.4h-6.4zM465.6 720.2h6.4v6.4h-6.4zM463.1 720.1h6.4v6.4h-6.4zM460.6 719.9h6.4v6.4h-6.4zM458 719.8h6.4v6.4h-6.4zM455.4 719.6h6.4v6.4h-6.4zM452.9 719.5h6.4v6.4h-6.4zM450.3 719.3h6.4v6.4h-6.4zM447.8 719.1h6.4v6.4h-6.4zM445.2 719h6.4v6.4h-6.4zM442.7 718.8h6.4v6.4h-6.4zM440.1 718.7h6.4v6.4h-6.4zM437.6 718.5h6.4v6.4h-6.4zM435.1 718.4h6.4v6.4h-6.4zM432.5 718.2h6.4v6.4h-6.4zM429.9 718.1h6.4v6.4h-6.4zM427.4 717.9h6.4v6.4h-6.4zM424.8 717.8h6.4v6.4h-6.4zM422.3 717.6h6.4v6.4h-6.4zM419.8 717.5h6.4v6.4h-6.4zM417.2 717.4h6.4v6.4h-6.4zM414.6 717.2h6.4v6.4h-6.4zM412.1 717.1h6.4v6.4h-6.4zM409.6 717h6.4v6.4h-6.4zM407 716.9h6.4v6.4h-6.4zM404.4 716.7h6.4v6.4h-6.4zM401.9 716.6h6.4v6.4h-6.4zM399.3 716.5h6.4v6.4h-6.4zM396.8 716.4h6.4v6.4h-6.4zM394.2 716.2h6.4v6.4h-6.4zM391.7 716.1h6.4v6.4h-6.4zM389.1 716h6.4v6.4h-6.4zM386.6 715.9h6.4v6.4h-6.4zM384.1 715.8h6.4v6.4h-6.4zM381.5 715.7h6.4v6.4h-6.4zM378.9 715.6h6.4v6.4h-6.4zM376.4 715.5h6.4v6.4h-6.4zM373.8 715.5h6.4v6.4h-6.4zM371.3 715.4h6.4v6.4h-6.4zM368.8 715.4h6.4v6.4h-6.4zM366.2 715.5h6.4v6.4h-6.4zM363.6 715.9h6.4v6.4h-6.4zM361.3 716.3h6.4v6.4h-6.4zM361.3 713.1h6.4v6.4h-6.4zM361.3 709.8h6.4v6.4h-6.4zM363.5 706.5h6.4v6.4h-6.4zM366 704.4h6.4v6.4h-6.4zM368.6 703.5h6.4v6.4h-6.4zM371.1 703.1h6.4v6.4h-6.4zM373.7 702.9h6.4v6.4h-6.4zM376.2 702.6h6.4v6.4h-6.4zM378.8 702.4h6.4v6.4h-6.4zM381.3 702h6.4v6.4h-6.4zM383.9 701.6h6.4v6.4h-6.4zM386.4 701.2h6.4v6.4h-6.4zM389 700.8h6.4v6.4h-6.4zM391.5 700.4h6.4v6.4h-6.4zM394.1 700h6.4v6.4h-6.4zM396.6 699.6h6.4v6.4h-6.4zM399.2 699.2h6.4v6.4h-6.4zM401.7 698.8h6.4v6.4h-6.4zM404.3 698.4h6.4v6.4h-6.4zM406.8 698h6.4v6.4h-6.4zM409.4 697.7h6.4v6.4h-6.4zM411.9 697.3h6.4v6.4h-6.4zM414.5 697h6.4v6.4h-6.4zM417 696.7h6.4v6.4h-6.4zM419.6 696.4h6.4v6.4h-6.4zM422.1 696h6.4v6.4h-6.4zM424.7 695.7h6.4v6.4h-6.4zM427.2 695.4h6.4v6.4h-6.4zM429.8 695.1h6.4v6.4h-6.4zM432.3 694.8h6.4v6.4h-6.4zM434.9 694.6h6.4v6.4h-6.4zM437.4 694.3h6.4v6.4h-6.4zM440 694h6.4v6.4h-6.4zM442.5 693.8h6.4v6.4h-6.4zM445.1 693.6h6.4v6.4h-6.4zM447.6 693.4h6.4v6.4h-6.4zM450.2 693.2h6.4v6.4h-6.4zM452.7 693.1h6.4v6.4h-6.4zM455.3 692.9h6.4v6.4h-6.4zM457.8 692.8h6.4v6.4h-6.4zM460.4 692.6h6.4v6.4h-6.4zM462.9 692.5h6.4v6.4h-6.4zM465.5 692.4h6.4v6.4h-6.4zM468 692.3h6.4v6.4h-6.4zM470.6 692.2h6.4v6.4h-6.4zM473.1 692.1h6.4v6.4h-6.4zM475.7 692h6.4v6.4h-6.4zM478.2 691.9h6.4v6.4h-6.4zM480.8 691.8h6.4v6.4h-6.4zM483.3 691.7h6.4v6.4h-6.4zM485.9 691.6h6.4v6.4h-6.4zM488.4 691.5h6.4v6.4h-6.4zM491 691.4h6.4v6.4h-6.4zM493.5 691.4h6.4v6.4h-6.4zM496.1 691.3h6.4v6.4h-6.4zM498.6 691.2h6.4v6.4h-6.4zM501.2 691.1h6.4v6.4h-6.4zM503.7 691h6.4v6.4h-6.4zM506.3 690.9h6.4v6.4h-6.4zM508.8 690.9h6.4v6.4h-6.4zM511.4 690.8h6.4v6.4h-6.4zM513.9 690.7h6.4v6.4h-6.4zM516.5 690.6h6.4v6.4h-6.4zM519 690.6h6.4v6.4h-6.4zM521.5 690.5h6.4v6.4h-6.4zM524.1 690.4h6.4v6.4h-6.4zM526.6 690.3h6.4v6.4h-6.4zM529.2 690.3h6.4v6.4h-6.4zM531.8 690.2h6.4v6.4h-6.4zM534.3 690.1h6.4v6.4h-6.4zM536.9 690.1h6.4v6.4h-6.4zM539.4 690h6.4v6.4h-6.4zM542 689.9h6.4v6.4h-6.4zM544.5 689.9h6.4v6.4h-6.4zM547 689.8h6.4v6.4h-6.4zM549.6 689.7h6.4v6.4h-6.4zM552.1 689.6h6.4v6.4h-6.4zM554.7 689.6h6.4v6.4h-6.4zM557.2 689.5h6.4v6.4h-6.4zM559.8 689.4h6.4v6.4h-6.4zM562.4 689.3h6.4v6.4h-6.4zM564.9 689.3h6.4v6.4h-6.4zM567.5 689.2h6.4v6.4h-6.4zM570 689.1h6.4v6.4h-6.4zM572.5 689h6.4v6.4h-6.4zM575.1 689h6.4v6.4h-6.4zM577.6 688.9h6.4v6.4h-6.4zM580.2 688.8h6.4v6.4h-6.4zM582.8 688.8h6.4v6.4h-6.4zM585.3 688.7h6.4v6.4h-6.4zM587.9 688.6h6.4v6.4h-6.4zM590.4 688.6h6.4v6.4h-6.4zM593 688.5h6.4v6.4h-6.4zM595.5 688.4h6.4v6.4h-6.4zM598 688.4h6.4v6.4h-6.4zM600.6 688.3h6.4v6.4h-6.4zM603.1 688.3h6.4v6.4h-6.4zM605.7 688.2h6.4v6.4h-6.4zM608.2 688.1h6.4v6.4h-6.4zM610.8 688.1h6.4v6.4h-6.4zM613.4 688h6.4v6.4h-6.4zM615.9 688h6.4v6.4h-6.4zM618.5 687.9h6.4v6.4h-6.4zM621 687.8h6.4v6.4h-6.4zM623.5 687.8h6.4v6.4h-6.4zM626.1 687.7h6.4v6.4h-6.4zM628.6 687.7h6.4v6.4h-6.4zM631.2 687.6h6.4v6.4h-6.4zM633.8 687.6h6.4v6.4h-6.4zM636.3 687.5h6.4v6.4h-6.4zM638.9 687.5h6.4v6.4h-6.4zM641.4 687.4h6.4v6.4h-6.4zM644 687.4h6.4v6.4h-6.4zM646.5 687.3h6.4v6.4h-6.4zM649 687.3h6.4v6.4h-6.4zM651.6 687.2h6.4v6.4h-6.4zM654.1 687.2h6.4v6.4h-6.4zM656.7 687.1h6.4v6.4h-6.4zM659.2 687.1h6.4v6.4h-6.4zM661.8 687h6.4v6.4h-6.4zM664.4 687h6.4v6.4h-6.4zM666.9 686.9h6.4v6.4h-6.4zM669.5 686.9h6.4v6.4h-6.4zM672 686.8h6.4v6.4h-6.4zM674.5 686.8h6.4v6.4h-6.4zM677.1 686.7h6.4v6.4h-6.4zM679.6 686.7h6.4v6.4h-6.4zM682.2 686.6h6.4v6.4h-6.4zM684.8 686.6h6.4v6.4h-6.4zM687.3 686.6h6.4v6.4h-6.4zM689.9 686.5h6.4v6.4h-6.4zM692.4 686.5h6.4v6.4h-6.4zM695 686.4h6.4v6.4h-6.4zM697.5 686.4h6.4v6.4h-6.4zM700 686.3h6.4v6.4h-6.4zM702.6 686.3h6.4v6.4h-6.4zM705.1 686.3h6.4v6.4h-6.4zM707.7 686.2h6.4v6.4h-6.4zM710.2 686.2h6.4v6.4h-6.4zM712.8 686.2h6.4v6.4h-6.4zM715.4 686.1h6.4v6.4h-6.4zM717.9 686.1h6.4v6.4h-6.4zM720.5 686h6.4v6.4h-6.4zM723 686h6.4v6.4h-6.4zM725.5 686h6.4v6.4h-6.4zM728.1 685.9h6.4v6.4h-6.4zM730.6 685.9h6.4v6.4h-6.4zM733.2 685.9h6.4v6.4h-6.4zM735.8 685.8h6.4v6.4h-6.4zM738.3 685.8h6.4v6.4h-6.4zM740.8 685.8h6.4v6.4h-6.4zM743.4 685.7h6.4v6.4h-6.4zM746 685.7h6.4v6.4h-6.4zM748.5 685.7h6.4v6.4h-6.4zM751 685.6h6.4v6.4h-6.4zM753.6 685.6h6.4v6.4h-6.4zM756.1 685.6h6.4v6.4h-6.4zM758.7 685.5h6.4v6.4h-6.4zM761.2 685.5h6.4v6.4h-6.4zM763.8 685.5h6.4v6.4h-6.4zM766.3 685.4h6.4v6.4h-6.4zM768.9 685.4h6.4v6.4h-6.4zM771.5 685.4h6.4v6.4h-6.4zM774 685.3h6.4v6.4h-6.4zM776.5 685.3h6.4v6.4h-6.4zM779.1 685.3h6.4v6.4h-6.4zM781.6 685.3h6.4v6.4h-6.4zM784.2 685.2h6.4v6.4h-6.4zM786.8 685.2h6.4v6.4h-6.4zM789.3 685.2h6.4v6.4h-6.4zM791.8 685.1h6.4v6.4h-6.4zM794.4 685.1h6.4v6.4h-6.4zM797 685.1h6.4v6.4h-6.4zM799.5 685h6.4v6.4h-6.4zM802 685h6.4v6.4h-6.4zM804.6 685h6.4v6.4h-6.4zM807.1 684.9h6.4v6.4h-6.4zM809.7 684.9h6.4v6.4h-6.4zM812.2 684.9h6.4v6.4h-6.4zM814.8 684.8h6.4v6.4h-6.4zM817.3 684.8h6.4v6.4h-6.4zM819.9 684.8h6.4v6.4h-6.4zM822.5 684.7h6.4v6.4h-6.4zM825 684.7h6.4v6.4h-6.4zM827.5 684.7h6.4v6.4h-6.4zM830.1 684.6h6.4v6.4h-6.4zM832.6 684.6h6.4v6.4h-6.4zM835.2 684.6h6.4v6.4h-6.4zM837.8 684.5h6.4v6.4h-6.4zM840.3 684.5h6.4v6.4h-6.4zM842.8 684.5h6.4v6.4h-6.4zM845.4 684.4h6.4v6.4h-6.4zM848 684.4h6.4v6.4h-6.4zM850.5 684.4h6.4v6.4h-6.4zM853 684.3h6.4v6.4h-6.4zM855.6 684.3h6.4v6.4h-6.4zM858.1 684.3h6.4v6.4h-6.4zM860.7 684.2h6.4v6.4h-6.4zM863.2 684.2h6.4v6.4h-6.4zM865.8 684.2h6.4v6.4h-6.4zM868.3 684.1h6.4v6.4h-6.4zM870.9 684.1h6.4v6.4h-6.4zM873.5 684h6.4v6.4h-6.4zM876 684h6.4v6.4h-6.4zM878.5 684h6.4v6.4h-6.4zM881.1 683.9h6.4v6.4h-6.4zM883.6 683.9h6.4v6.4h-6.4zM886.2 683.9h6.4v6.4h-6.4zM888.8 683.8h6.4v6.4h-6.4zM891.3 683.8h6.4v6.4h-6.4zM893.8 683.8h6.4v6.4h-6.4zM896.4 683.7h6.4v6.4h-6.4zM899 683.7h6.4v6.4h-6.4zM901.5 683.6h6.4v6.4h-6.4zM904 683.6h6.4v6.4h-6.4zM906.6 683.6h6.4v6.4h-6.4zM909.1 683.5h6.4v6.4h-6.4zM911.7 683.5h6.4v6.4h-6.4zM914.2 683.4h6.4v6.4h-6.4zM916.8 683.4h6.4v6.4h-6.4zM919.3 683.4h6.4v6.4h-6.4zM921.9 683.3h6.4v6.4h-6.4zM924.5 683.3h6.4v6.4h-6.4zM927 683.2h6.4v6.4h-6.4zM929.5 683.2h6.4v6.4h-6.4zM932.1 683.1h6.4v6.4h-6.4zM934.6 683.1h6.4v6.4h-6.4zM937.2 683.1h6.4v6.4h-6.4zM939.8 683h6.4v6.4h-6.4zM942.3 683h6.4v6.4h-6.4zM944.8 682.9h6.4v6.4h-6.4zM947.4 682.9h6.4v6.4h-6.4zM950 682.8h6.4v6.4h-6.4zM952.5 682.8h6.4v6.4h-6.4zM955 682.7h6.4v6.4h-6.4zM957.6 682.7h6.4v6.4h-6.4zM960.1 682.6h6.4v6.4h-6.4zM962.7 682.6h6.4v6.4h-6.4zM965.2 682.5h6.4v6.4h-6.4zM967.8 682.5h6.4v6.4h-6.4zM970.3 682.4h6.4v6.4h-6.4zM972.9 682.4h6.4v6.4h-6.4zM975.5 682.3h6.4v6.4h-6.4zM978 682.2h6.4v6.4h-6.4zM980.5 682.2h6.4v6.4h-6.4zM983.1 682.1h6.4v6.4h-6.4zM985.6 682h6.4v6.4h-6.4zM988.2 682h6.4v6.4h-6.4zM990.8 681.9h6.4v6.4h-6.4zM993.3 681.8h6.4v6.4h-6.4zM995.8 681.7h6.4v6.4h-6.4zM998.4 681.6h6.4v6.4h-6.4zM1000.9 681.5h6.4v6.4h-6.4zM1003.1 686.3h6.4v6.4h-6.4zM1006 681.2h6.4v6.4h-6.4zM1008.6 681.2h6.4v6.4h-6.4zM1011.1 681.1h6.4v6.4h-6.4zM1013.7 681h6.4v6.4h-6.4zM1016.2 680.9h6.4v6.4h-6.4zM1018.8 680.8h6.4v6.4h-6.4zM1021.3 680.7h6.4v6.4h-6.4zM1023.9 680.6h6.4v6.4h-6.4zM1026.5 680.5h6.4v6.4h-6.4zM1029 680.4h6.4v6.4h-6.4zM1031.5 680.3h6.4v6.4h-6.4zM1034.1 680.2h6.4v6.4h-6.4zM1036.6 680.1h6.4v6.4h-6.4zM1039.2 680h6.4v6.4h-6.4zM1041.8 679.9h6.4v6.4h-6.4zM1044.3 679.8h6.4v6.4h-6.4zM1046.8 679.7h6.4v6.4h-6.4zM1049.4 679.6h6.4v6.4h-6.4zM1052 679.5h6.4v6.4h-6.4zM1054.5 679.4h6.4v6.4h-6.4zM1057 679.2h6.4v6.4h-6.4zM1059.6 679.1h6.4v6.4h-6.4zM1062.1 679h6.4v6.4h-6.4zM1064.7 678.9h6.4v6.4h-6.4zM1067.2 678.7h6.4v6.4h-6.4zM1069.8 678.6h6.4v6.4h-6.4zM1072.3 678.4h6.4v6.4h-6.4zM1074.9 678.3h6.4v6.4h-6.4zM1077.5 678.1h6.4v6.4h-6.4zM1080 678h6.4v6.4h-6.4zM1082.5 677.8h6.4v6.4h-6.4zM1085.1 677.6h6.4v6.4h-6.4zM1087.6 677.5h6.4v6.4h-6.4zM1090.2 677.3h6.4v6.4h-6.4zM1092.8 677.1h6.4v6.4h-6.4zM1095.3 676.9h6.4v6.4h-6.4zM1097.8 676.7h6.4v6.4h-6.4zM1100.4 676.4h6.4v6.4h-6.4zM1103 676.2h6.4v6.4h-6.4zM1105.5 676h6.4v6.4h-6.4zM1108 675.7h6.4v6.4h-6.4zM1110.6 675.3h6.4v6.4h-6.4zM1113.1 675h6.4v6.4h-6.4zM1115.7 674.6h6.4v6.4h-6.4zM1118.2 674.3h6.4v6.4h-6.4zM1120.8 673.8h6.4v6.4h-6.4zM1123.3 673.4h6.4v6.4h-6.4zM1125.9 673h6.4v6.4h-6.4zM1128.5 672.5h6.4v6.4h-6.4zM1131 672h6.4v6.4h-6.4zM1133.5 671.5h6.4v6.4h-6.4zM1136.1 671h6.4v6.4h-6.4zM1138.6 670.4h6.4v6.4h-6.4zM1141.2 669.7h6.4v6.4h-6.4zM1143.8 669h6.4v6.4h-6.4zM1146.3 668.3h6.4v6.4h-6.4zM1148.8 667.5h6.4v6.4h-6.4zM1151.4 666.7h6.4v6.4h-6.4zM1154 665.9h6.4v6.4h-6.4zM1156.5 665.1h6.4v6.4h-6.4zM1159 664.3h6.4v6.4h-6.4zM1161.6 663.4h6.4v6.4h-6.4zM1164.1 662.5h6.4v6.4h-6.4zM1166.7 661.3h6.4v6.4h-6.4zM1169.2 659.9h6.4v6.4h-6.4zM1171.8 658.2h6.4v6.4h-6.4zM1174.3 656.6h6.4v6.4h-6.4zM1176.9 655.1h6.4v6.4h-6.4zM1179.5 653.5h6.4v6.4h-6.4zM1182 652h6.4v6.4h-6.4zM1184.5 650.4h6.4v6.4h-6.4zM1187.1 648.3h6.4v6.4h-6.4zM1189.6 645.6h6.4v6.4h-6.4zM1192.2 642.8h6.4v6.4h-6.4zM1194.8 639.8h6.4v6.4h-6.4zM1197.3 634.7h6.4v6.4h-6.4zM1199.8 628.4h6.4v6.4h-6.4zM1202.4 622.6h6.4v6.4h-6.4zM1205 616.5h6.4v6.4h-6.4zM1207.1 610.8h6.4v6.4h-6.4zM1210.3 601.9h6.4v6.4h-6.4zM1212.6 591.3h6.4v6.4h-6.4zM1215.1 577.6h6.4v6.4h-6.4zM1217.3 561.9h6.4v6.4h-6.4zM1220.2 542.7h6.4v6.4h-6.4zM1222.7 516.6h6.4v6.4h-6.4zM1225.6 486.2h6.4v6.4h-6.4zM1227.7 447h6.4v6.4h-6.4zM1230.3 405h6.4v6.4h-6.4zM1233.4 356.6h6.4v6.4h-6.4zM1235.7 304.3h6.4v6.4h-6.4zM1237.8 246.3h6.4v6.4h-6.4zM1240.7 188.3h6.4v6.4h-6.4zM1243.2 131.2h6.4v6.4h-6.4zM1245.5 85.5h6.4v6.4h-6.4zM1248.3 60.2h6.4v6.4h-6.4zM1251.6 61.2h6.4v6.4h-6.4zM1253.5 91.1h6.4v6.4h-6.4zM1256.2 138.8h6.4v6.4h-6.4zM1258.3 196.4h6.4v6.4h-6.4zM1261.2 254.9h6.4v6.4h-6.4zM1263.9 309.5h6.4v6.4h-6.4zM1266.2 359.9h6.4v6.4h-6.4zM1268.8 407.3h6.4v6.4h-6.4zM1271.1 449.3h6.4v6.4h-6.4zM1274.6 486.5h6.4v6.4h-6.4zM1276.7 518.8h6.4v6.4h-6.4zM1279.3 544.4h6.4v6.4h-6.4zM1281.8 562.9h6.4v6.4h-6.4zM1284 578.1h6.4v6.4h-6.4zM1286.5 591.2h6.4v6.4h-6.4zM1289.1 597.6h6.4v6.4h-6.4zM1291.6 606.1h6.4v6.4h-6.4zM1294.2 614.5h6.4v6.4h-6.4zM1296.8 620h6.4v6.4h-6.4zM1299.3 623.7h6.4v6.4h-6.4zM1301.8 626.7h6.4v6.4h-6.4zM1304.4 629.3h6.4v6.4h-6.4zM1307 631.7h6.4v6.4h-6.4zM1309.5 633.8h6.4v6.4h-6.4zM1312 635.7h6.4v6.4h-6.4zM1314.6 637.5h6.4v6.4h-6.4zM1317.1 639.1h6.4v6.4h-6.4zM1319.7 640.7h6.4v6.4h-6.4zM1322.2 642.1h6.4v6.4h-6.4zM1324.8 643.4h6.4v6.4h-6.4zM1327.3 644.6h6.4v6.4h-6.4zM1329.9 645.6h6.4v6.4h-6.4zM1332.5 646.6h6.4v6.4h-6.4zM1335 647.5h6.4v6.4h-6.4zM1337.5 648.4h6.4v6.4h-6.4zM1340.1 649.2h6.4v6.4h-6.4zM1342.6 650h6.4v6.4h-6.4zM1345.2 650.8h6.4v6.4h-6.4zM1347.8 651.5h6.4v6.4h-6.4zM1350.3 652.2h6.4v6.4h-6.4zM1352.8 652.8h6.4v6.4h-6.4zM1355.4 653.4h6.4v6.4h-6.4zM1358 654h6.4v6.4h-6.4zM1360.5 654.6h6.4v6.4h-6.4zM1363 655.1h6.4v6.4h-6.4zM1365.6 655.7h6.4v6.4h-6.4zM1368.1 656.2h6.4v6.4h-6.4zM1370.7 656.7h6.4v6.4h-6.4zM1373.2 657.2h6.4v6.4h-6.4zM1375.8 657.7h6.4v6.4h-6.4zM1378.3 658.2h6.4v6.4h-6.4zM1380.9 658.6h6.4v6.4h-6.4zM1383.5 659.1h6.4v6.4h-6.4zM1386 659.5h6.4v6.4h-6.4zM1388.5 659.9h6.4v6.4h-6.4zM1391.1 660.3h6.4v6.4h-6.4zM1393.6 660.7h6.4v6.4h-6.4zM1396.2 661h6.4v6.4h-6.4zM1398.8 661.3h6.4v6.4h-6.4zM1401.3 661.6h6.4v6.4h-6.4zM1403.8 661.9h6.4v6.4h-6.4zM1406.4 662.2h6.4v6.4h-6.4zM1409 662.5h6.4v6.4h-6.4zM1411.5 662.8h6.4v6.4h-6.4zM1414 663.1h6.4v6.4h-6.4zM1416.6 663.3h6.4v6.4h-6.4zM1419.1 663.6h6.4v6.4h-6.4zM1421.7 663.8h6.4v6.4h-6.4zM1424.2 664.1h6.4v6.4h-6.4zM1426.8 664.3h6.4v6.4h-6.4zM1429.3 664.5h6.4v6.4h-6.4zM1431.9 664.7h6.4v6.4h-6.4zM1434.5 664.9h6.4v6.4h-6.4zM1437 665.2h6.4v6.4h-6.4zM1439.5 665.3h6.4v6.4h-6.4zM1442.1 665.5h6.4v6.4h-6.4zM1444.6 665.7h6.4v6.4h-6.4zM1447.2 665.9h6.4v6.4h-6.4zM1449.8 666.1h6.4v6.4h-6.4zM1452.3 666.3h6.4v6.4h-6.4zM1454.8 666.4h6.4v6.4h-6.4zM1457.4 666.6h6.4v6.4h-6.4zM1460 666.8h6.4v6.4h-6.4zM1462.5 666.9h6.4v6.4h-6.4zM1465 667.1h6.4v6.4h-6.4zM1467.6 667.2h6.4v6.4h-6.4zM1470.1 667.3h6.4v6.4h-6.4zM1472.7 667.5h6.4v6.4h-6.4zM1475.2 667.6h6.4v6.4h-6.4zM1477.8 667.7h6.4v6.4h-6.4zM1480.3 667.8h6.4v6.4h-6.4zM1482.9 667.9h6.4v6.4h-6.4zM1485.5 668h6.4v6.4h-6.4zM1488 668h6.4v6.4h-6.4zM1490.5 668.1h6.4v6.4h-6.4zM1493.1 668.2h6.4v6.4h-6.4zM1495.6 668.3h6.4v6.4h-6.4zM1498.2 668.4h6.4v6.4h-6.4zM1500.8 668.5h6.4v6.4h-6.4zM1503.3 668.6h6.4v6.4h-6.4zM1505.8 668.7h6.4v6.4h-6.4zM1508.4 668.8h6.4v6.4h-6.4zM1511 668.9h6.4v6.4h-6.4zM1513.5 669h6.4v6.4h-6.4zM1516 669.2h6.4v6.4h-6.4zM1518.6 669.3h6.4v6.4h-6.4zM1521.1 669.4h6.4v6.4h-6.4zM1523.7 669.6h6.4v6.4h-6.4zM1526.2 669.7h6.4v6.4h-6.4zM1528.8 669.9h6.4v6.4h-6.4zM1531.3 670h6.4v6.4h-6.4zM1533.9 670.2h6.4v6.4h-6.4zM1536.5 670.4h6.4v6.4h-6.4zM1539 670.5h6.4v6.4h-6.4zM1541.5 670.7h6.4v6.4h-6.4zM1544.1 670.8h6.4v6.4h-6.4zM1546.6 671h6.4v6.4h-6.4zM1549.2 671.1h6.4v6.4h-6.4zM1551.8 671.2h6.4v6.4h-6.4zM1554.3 671.4h6.4v6.4h-6.4zM1556.8 671.5h6.4v6.4h-6.4zM1559.4 671.6h6.4v6.4h-6.4zM1562 671.8h6.4v6.4h-6.4zM1564.5 671.9h6.4v6.4h-6.4zM1567 672h6.4v6.4h-6.4zM1569.6 672.2h6.4v6.4h-6.4zM1572.1 672.3h6.4v6.4h-6.4zM1574.7 672.4h6.4v6.4h-6.4zM1577.2 672.6h6.4v6.4h-6.4zM1579.8 672.7h6.4v6.4h-6.4zM1582.3 672.8h6.4v6.4h-6.4zM1584.9 672.9h6.4v6.4h-6.4zM1587.5 673h6.4v6.4h-6.4zM1590 673.1h6.4v6.4h-6.4zM1592.5 673.2h6.4v6.4h-6.4zM1595.1 673.3h6.4v6.4h-6.4zM1597.6 673.3h6.4v6.4h-6.4zM1600.2 673.4h6.4v6.4h-6.4zM1602.8 673.5h6.4v6.4h-6.4zM1605.3 673.5h6.4v6.4h-6.4zM1607.8 673.6h6.4v6.4h-6.4zM1610.4 673.6h6.4v6.4h-6.4zM1613 673.7h6.4v6.4h-6.4zM1615.5 673.7h6.4v6.4h-6.4zM1618 673.8h6.4v6.4h-6.4zM1620.6 673.8h6.4v6.4h-6.4zM1623.1 673.9h6.4v6.4h-6.4zM1625.7 673.9h6.4v6.4h-6.4zM1628.2 674h6.4v6.4h-6.4zM1630.8 674.1h6.4v6.4h-6.4zM1633.3 674.1h6.4v6.4h-6.4zM1635.9 674.2h6.4v6.4h-6.4zM1638.5 674.3h6.4v6.4h-6.4zM1641 674.4h6.4v6.4h-6.4zM1643.5 674.6h6.4v6.4h-6.4zM1646.3 674.8h6.4v6.4h-6.4zM1646.3 677.8h6.4v6.4h-6.4zM1646.3 680.8h6.4v6.4h-6.4zM1646.3 682.8h6.4v6.4h-6.4z" fill="#0000ff"/>
<path d="M1649.5 657.5 L1646.9 660.1 L1641.9 663.3 L1636.9 665.4 L1631.9 667.1 L1626.9 668.7 L1621.9 670.4 L1616.9 671.9 L1611.9 673.3 L1606.9 674.7 L1601.9 676 L1596.9 677.2 L1591.9 678.3 L1586.9 679.3 L1582 680.1 L1577.5 680.8 L1573.1 681.5 L1569.1 682 L1565.2 682.5 L1561.5 683 L1558.1 683.4 L1554.8 683.8 L1551.7 684.2 L1548.8 684.6 L1546.1 684.9 L1543.4 685.2 L1540.7 685.5 L1538 685.8 L1535.3 686.1 L1532.6 686.4 L1529.9 686.6 L1527.2 686.9 L1524.5 687.2 L1521.8 687.5 L1519.1 687.7 L1516.4 688 L1513.7 688.3 L1511 688.5 L1508.3 688.8 L1505.6 689 L1502.9 689.3 L1500.2 689.5 L1497.5 689.8 L1494.8 690 L1492.1 690.3 L1489.4 690.5 L1486.7 690.7 L1484 691 L1481.3 691.2 L1478.6 691.4 L1475.9 691.6 L1473.2 691.8 L1470.5 692 L1467.8 692.2 L1465.1 692.4 L1462.4 692.6 L1459.7 692.7 L1457 692.9 L1454.3 693.1 L1451.6 693.2 L1448.9 693.4 L1446.2 693.6 L1443.5 693.7 L1440.8 693.9 L1438.1 694 L1435.4 694.2 L1432.7 694.3 L1430 694.4 L1427.3 694.6 L1424.6 694.7 L1421.9 694.8 L1419.2 694.9 L1416.5 695 L1413.8 695.2 L1411.1 695.3 L1408.4 695.4 L1405.7 695.5 L1403 695.6 L1400.3 695.7 L1397.6 695.8 L1394.9 695.9 L1392.2 696 L1389.5 696.1 L1386.8 696.2 L1384.1 696.3 L1381.4 696.4 L1378.7 696.4 L1376 696.5 L1373.3 696.6 L1370.6 696.7 L1367.9 696.8 L1365.2 696.8 L1362.5 696.9 L1359.8 697 L1357.1 697.1 L1354.4 697.1 L1351.7 697.2 L1349 697.2 L1346.3 697.3 L1343.6 697.4 L1340.9 697.4 L1338.2 697.5 L1335.5 697.6 L1332.8 697.6 L1330.1 697.7 L1327.4 697.7 L1324.7 697.8 L1322 697.9 L1319.3 697.9 L1316.6 698 L1313.9 698.1 L1311.2 698.1 L1308.5 698.2 L1305.8 698.3 L1303.1 698.3 L1300.4 698.4 L1297.7 698.5 L1295 698.5 L1292.3 698.6 L1289.6 698.7 L1286.9 698.8 L1284.2 698.9 L1281.5 699 L1278.8 699 L1276.1 699.1 L1273.4 699.2 L1270.7 699.3 L1268 699.5 L1265.3 699.6 L1262.6 699.7 L1259.9 699.8 L1257.2 700 L1254.5 700.1 L1251.8 700.2 L1249.1 700.4 L1246.4 700.5 L1243.7 700.6 L1241 700.8 L1238.3 700.9 L1235.6 701 L1232.9 701.2 L1230.2 701.3 L1227.5 701.5 L1224.8 701.6 L1222.1 701.7 L1219.4 701.8 L1216.7 702 L1214 702.1 L1211.3 702.2 L1208.6 702.3 L1205.9 702.4 L1203.2 702.5 L1200.5 702.6 L1197.8 702.7 L1195.1 702.7 L1192.4 702.8 L1189.7 702.9 L1187 703 L1184.3 703 L1181.6 703.1 L1178.9 703.2 L1176.2 703.2 L1173.5 703.3 L1170.8 703.4 L1168.1 703.4 L1165.4 703.5 L1162.7 703.5 L1160 703.6 L1157.3 703.7 L1154.6 703.7 L1151.9 703.8 L1149.2 703.8 L1146.5 703.9 L1143.8 703.9 L1141.1 703.9 L1138.4 704 L1135.7 704 L1133 704.1 L1130.3 704.1 L1127.6 704.2 L1124.9 704.2 L1122.2 704.3 L1119.5 704.3 L1116.8 704.3 L1114.1 704.4 L1111.4 704.4 L1108.7 704.5 L1106 704.5 L1103.3 704.5 L1100.6 704.6 L1097.9 704.6 L1095.2 704.7 L1092.5 704.7 L1089.8 704.8 L1087.1 704.8 L1084.4 704.9 L1081.7 704.9 L1079 705 L1076.3 705 L1073.6 705.1 L1070.9 705.1 L1068.2 705.2 L1065.5 705.2 L1062.8 705.3 L1060.1 705.3 L1057.4 705.4 L1054.7 705.5 L1052 705.5 L1049.3 705.6 L1046.6 705.7 L1043.9 705.7 L1041.2 705.8 L1038.5 705.9 L1035.8 705.9 L1033.1 706 L1030.4 706.1 L1027.7 706.2 L1025 706.3 L1022.3 706.4 L1019.6 706.5 L1016.9 706.6 L1014.2 706.7 L1011.5 706.8 L1008.8 706.9 L1006.9 703.7 L1003.4 707.2 L1000.7 707.4 L998 707.6 L995.3 707.8 L992.6 708.1 L989.9 708.3 L987.2 708.5 L984.5 708.7 L981.8 708.9 L979.1 709.1 L976.4 709.2 L973.7 709.3 L971 709.5 L968.3 709.6 L965.6 709.7 L962.9 709.8 L960.2 709.9 L957.5 710.1 L954.8 710.2 L952.1 710.3 L949.4 710.4 L946.7 710.5 L944 710.7 L941.3 710.8 L938.6 711 L935.9 711.1 L933.2 711.3 L930.5 711.5 L927.8 711.6 L925.1 711.8 L922.4 712 L919.7 712.2 L917 712.5 L914.3 712.7 L911.6 712.9 L908.9 713.1 L906.2 713.3 L903.5 713.6 L900.8 713.8 L898.1 714 L895.4 714.3 L892.7 714.5 L890 714.8 L887.3 715 L884.6 715.3 L881.9 715.5 L879.2 715.7 L876.5 715.9 L873.8 716.2 L871.1 716.4 L868.4 716.6 L865.7 716.8 L863 717.1 L860.3 717.3 L857.6 717.6 L854.9 717.9 L852.2 718.2 L849.5 718.6 L846.8 718.9 L844.1 719.3 L841.4 719.8 L838.7 720.4 L836 721.2 L833.3 722 L830.6 722.9 L827.9 723.9 L825.2 724.8 L822.5 725.7 L819.8 726.6 L817.1 727.3 L814.4 728.1 L811.7 728.8 L809 729.5 L806.3 730.3 L803.6 731.2 L800.9 732.2 L798.2 733.3 L795.5 734.5 L792.8 735.9 L790.1 737.4 L787.4 738.9 L784.7 740.6 L782 742.2 L779.3 744 L776.6 745.9 L773.9 747.9 L771.2 750 L768.5 752.2 L765.8 754.5 L763.1 756.7 L760.4 759 L757.7 761.4 L755 763.7 L752.3 766.1 L749.6 768.6 L746.9 771.1 L744.2 773.7 L741.5 776.4 L738.8 779.2 L736.1 782.2 L733.4 785.3 L730.7 788.6 L728 791.9 L725.3 795.1 L722.6 798.2 L719.9 801.3 L717.2 804.3 L714.5 807.3 L711.8 810.2 L709.1 813 L706.4 815.5 L703.7 818 L701 820.3 L698.3 822.5 L695.6 824.6 L692.9 826.7 L690.2 828.6 L687.5 830.5 L684.8 832.4 L682.1 834.2 L679.4 835.8 L676.7 837.4 L674 838.8 L671.3 840.2 L668.6 841.5 L665.9 842.7 L663.2 843.8 L660.5 844.7 L657.8 845.5 L655.1 846.3 L652.4 847 L649.7 847.6 L647 848.2 L644.3 848.7 L641.6 849.2 L638.9 849.6 L636.2 850.1 L633.5 850.4 L630.8 850.7 L628.1 850.7 L625.4 850.7 L622.7 850.6 L620 850.4 L617.3 850.3 L614.6 850 L611.9 849.6 L609.2 848.9 L606.5 848.1 L603.8 847.2 L601.1 846.2 L598.4 845.1 L595.7 844 L593 842.7 L590.3 841.1 L587.6 839.4 L584.9 837.5 L582.2 835.6 L579.5 833.6 L576.8 831.3 L574.1 828.8 L571.4 826.2 L568.7 823.6 L566 821.1 L563.3 818.7 L560.6 816.3 L557.9 813.8 L555.2 811.4 L552.5 809 L549.8 806.6 L547.1 804.2 L544.4 801.9 L541.7 799.6 L539 797.3 L536.3 795 L533.6 792.8 L530.9 790.7 L528.2 788.6 L525.5 786.5 L522.8 784.5 L520.1 782.5 L517.4 780.6 L514.7 778.7 L512 776.8 L509.3 775 L506.6 773.3 L503.9 771.5 L501.2 769.8 L498.5 768.2 L495.8 766.6 L493.1 765.1 L490.4 763.7 L487.7 762.3 L485 760.9 L482.3 759.6 L479.6 758.4 L476.9 757.2 L474.2 756.2 L471.5 755.2 L468.7 754.3 L465.7 753.3 L462.6 752.4 L459.3 751.5 L455.8 750.5 L452 749.6 L448.1 748.7 L443.9 747.8 L439.4 746.8 L434.7 745.8 L429.7 744.8 L424.7 744 L419.7 743.4 L414.7 743 L409.7 742.6 L404.7 742.3 L399.7 742.1 L394.7 741.9 L389.7 741.8 L384.7 741.7 L379.7 741.6 L374.7 741.6 L369.7 741.5 L364.7 741.5 L364.7 738.5 L364.7 735.5 L369.7 732.2 L374.7 729.8 L379.7 727.7 L384.7 725.7 L389.7 723.8 L394.7 722.1 L399.7 720.6 L404.7 719.1 L409.7 717.8 L414.7 716.6 L419.7 715.6 L424.7 714.6 L429.7 713.7 L434.7 712.8 L439.4 712 L443.9 711.2 L448.1 710.4 L452 709.6 L455.8 708.9 L459.3 708.3 L462.6 707.8 L465.7 707.3 L468.7 706.9 L471.5 706.5 L474.2 706.1 L476.9 705.7 L479.6 705.4 L482.3 705 L485 704.7 L487.7 704.4 L490.4 704.1 L493.1 703.8 L495.8 703.5 L498.5 703.2 L501.2 702.9 L503.9 702.6 L506.6 702.4 L509.3 702.1 L512 701.9 L514.7 701.7 L517.4 701.4 L520.1 701.2 L522.8 701 L525.5 700.8 L528.2 700.6 L530.9 700.3 L533.6 700.1 L536.3 699.9 L539 699.7 L541.7 699.5 L544.4 699.3 L547.1 699.1 L549.8 699 L552.5 698.9 L555.2 698.8 L557.9 698.7 L560.6 698.6 L563.3 698.5 L566 698.5 L568.7 698.4 L571.4 698.3 L574.1 698.3 L576.8 698.2 L579.5 698.1 L582.2 698.1 L584.9 698 L587.6 697.9 L590.3 697.9 L593 697.8 L595.7 697.7 L598.4 697.7 L601.1 697.6 L603.8 697.5 L606.5 697.4 L609.2 697.3 L611.9 697.2 L614.6 697.1 L617.3 697 L620 696.9 L622.7 696.8 L625.4 696.7 L628.1 696.6 L630.8 696.5 L633.5 696.4 L636.2 696.3 L638.9 696.1 L641.6 696 L644.3 695.9 L647 695.8 L649.7 695.7 L652.4 695.6 L655.1 695.5 L657.8 695.4 L660.5 695.2 L663.2 695.1 L665.9 695 L668.6 694.9 L671.3 694.8 L674 694.7 L676.7 694.6 L679.4 694.5 L682.1 694.4 L684.8 694.3 L687.5 694.2 L690.2 694.1 L692.9 694 L695.6 693.9 L698.3 693.8 L701 693.7 L703.7 693.6 L706.4 693.5 L709.1 693.4 L711.8 693.3 L714.5 693.2 L717.2 693.1 L719.9 693 L722.6 692.9 L725.3 692.8 L728 692.7 L730.7 692.6 L733.4 692.5 L736.1 692.4 L738.8 692.4 L741.5 692.3 L744.2 692.2 L746.9 692.1 L749.6 692 L752.3 691.9 L755 691.8 L757.7 691.7 L760.4 691.6 L763.1 691.5 L765.8 691.5 L768.5 691.4 L771.2 691.3 L773.9 691.2 L776.6 691.1 L779.3 691 L782 691 L784.7 690.9 L787.4 690.8 L790.1 690.7 L792.8 690.7 L795.5 690.6 L798.2 690.5 L800.9 690.4 L803.6 690.4 L806.3 690.3 L809 690.2 L811.7 690.2 L814.4 690.1 L817.1 690.1 L819.8 690 L822.5 689.9 L825.2 689.9 L827.9 689.8 L830.6 689.8 L833.3 689.7 L836 689.7 L838.7 689.7 L841.4 689.6 L844.1 689.6 L846.8 689.5 L849.5 689.5 L852.2 689.5 L854.9 689.4 L857.6 689.4 L860.3 689.3 L863 689.3 L865.7 689.3 L868.4 689.2 L871.1 689.2 L873.8 689.2 L876.5 689.1 L879.2 689.1 L881.9 689.1 L884.6 689 L887.3 689 L890 688.9 L892.7 688.9 L895.4 688.9 L898.1 688.8 L900.8 688.8 L903.5 688.7 L906.2 688.7 L908.9 688.6 L911.6 688.6 L914.3 688.5 L917 688.5 L919.7 688.4 L922.4 688.3 L925.1 688.3 L927.8 688.2 L930.5 688.1 L933.2 688.1 L935.9 688 L938.6 687.9 L941.3 687.9 L944 687.8 L946.7 687.7 L949.4 687.6 L952.1 687.5 L954.8 687.4 L957.5 687.3 L960.2 687.2 L962.9 687.1 L965.6 687 L968.3 686.9 L971 686.8 L973.7 686.7 L976.4 686.6 L979.1 686.5 L981.8 686.4 L984.5 686.3 L987.2 686.1 L989.9 686 L992.6 685.9 L995.3 685.7 L998 685.5 L1000.7 685.3 L1003.4 685.1 L1006.9 688 L1008.8 684.8 L1011.5 684.7 L1014.2 684.5 L1016.9 684.4 L1019.6 684.3 L1022.3 684.2 L1025 684.1 L1027.7 684 L1030.4 683.9 L1033.1 683.8 L1035.8 683.7 L1038.5 683.6 L1041.2 683.5 L1043.9 683.4 L1046.6 683.3 L1049.3 683.1 L1052 683 L1054.7 682.9 L1057.4 682.8 L1060.1 682.7 L1062.8 682.6 L1065.5 682.5 L1068.2 682.4 L1070.9 682.3 L1073.6 682.1 L1076.3 682 L1079 681.9 L1081.7 681.8 L1084.4 681.7 L1087.1 681.5 L1089.8 681.4 L1092.5 681.3 L1095.2 681.1 L1097.9 681 L1100.6 680.8 L1103.3 680.6 L1106 680.4 L1108.7 680.2 L1111.4 680 L1114.1 679.8 L1116.8 679.5 L1119.5 679.3 L1122.2 679 L1124.9 678.7 L1127.6 678.3 L1130.3 678 L1133 677.6 L1135.7 677.2 L1138.4 676.7 L1141.1 676.2 L1143.8 675.5 L1146.5 674.8 L1149.2 674 L1151.9 673.2 L1154.6 672.4 L1157.3 671.6 L1160 670.9 L1162.7 670.3 L1165.4 669.6 L1168.1 668.9 L1170.8 668.2 L1173.5 667.5 L1176.2 666.8 L1178.9 666 L1181.6 665.1 L1184.3 664.2 L1187 663.2 L1189.7 662.2 L1192.4 661.2 L1195.1 660.3 L1197.8 659.4 L1200.5 658.5 L1203.2 657.7 L1205.9 656.9 L1208.6 656 L1211.3 655 L1214 653.7 L1216.7 652.3 L1219.4 650.8 L1222.1 649.3 L1224.8 647.7 L1227.5 646.1 L1230.2 644.4 L1232.9 642.6 L1235.6 640.6 L1238.3 638.5 L1241 636.2 L1243.7 633.8 L1246.4 631.3 L1249.1 628.7 L1251.8 626 L1254.5 623.1 L1257.2 620.2 L1259.9 617.2 L1262.6 614.2 L1265.3 611.2 L1268 608.2 L1270.7 605.1 L1273.4 602 L1276.1 598.7 L1278.8 595.4 L1281.5 591.8 L1284.2 588 L1286.9 584.1 L1289.6 580.4 L1292.3 577.1 L1295 574.2 L1297.7 571.6 L1300.4 569.2 L1303.1 566.9 L1305.8 564.7 L1308.5 562.5 L1311.2 560.5 L1313.9 558.5 L1316.6 556.6 L1319.3 554.9 L1322 553.2 L1324.7 551.5 L1327.4 549.9 L1330.1 548.6 L1332.8 547.4 L1335.5 546.3 L1338.2 545.3 L1340.9 544.4 L1343.6 543.7 L1346.3 543 L1349 542.4 L1351.7 541.8 L1354.4 541.4 L1357.1 541.1 L1359.8 540.8 L1362.5 540.7 L1365.2 540.5 L1367.9 540.4 L1370.6 540.4 L1373.3 540.6 L1376 540.8 L1378.7 541.2 L1381.4 541.6 L1384.1 542 L1386.8 542.7 L1389.5 543.6 L1392.2 544.5 L1394.9 545.5 L1397.6 546.6 L1400.3 547.9 L1403 549.2 L1405.7 550.7 L1408.4 552.2 L1411.1 554 L1413.8 555.9 L1416.5 557.9 L1419.2 559.9 L1421.9 561.7 L1424.6 563.4 L1427.3 565.1 L1430 566.8 L1432.7 568.7 L1435.4 570.7 L1438.1 573 L1440.8 575.3 L1443.5 577.7 L1446.2 580.2 L1448.9 582.6 L1451.6 585 L1454.3 587.5 L1457 589.9 L1459.7 592.2 L1462.4 594.5 L1465.1 596.7 L1467.8 598.8 L1470.5 601 L1473.2 603.2 L1475.9 605.5 L1478.6 607.7 L1481.3 610 L1484 612.2 L1486.7 614.4 L1489.4 616.5 L1492.1 618.7 L1494.8 620.7 L1497.5 622.7 L1500.2 624.6 L1502.9 626.3 L1505.6 627.8 L1508.3 629.3 L1511 630.7 L1513.7 632 L1516.4 633.3 L1519.1 634.5 L1521.8 635.7 L1524.5 636.8 L1527.2 637.9 L1529.9 638.9 L1532.6 639.8 L1535.3 640.6 L1538 641.4 L1540.7 642.1 L1543.4 642.8 L1546.1 643.4 L1548.8 644.1 L1551.7 644.7 L1554.8 645.3 L1558.1 646 L1561.5 646.6 L1565.2 647.3 L1569.1 648 L1573.1 648.6 L1577.5 649.2 L1582 649.8 L1586.9 650.4 L1591.9 650.9 L1596.9 651.3 L1601.9 651.7 L1606.9 652.1 L1611.9 652.3 L1616.9 652.5 L1621.9 652.6 L1626.9 652.6 L1631.9 652.6 L1636.9 652.7 L1641.9 652.7 L1646.9 654.3 L1649.5 657.5 L1649.5 657.5" fill="none" stroke="#00ff00" stroke-width="3.0" stroke-linejoin="round"/>
<path d="M1646.9 654.9h5.2v5.2h-5.2zM1644.3 657.5h5.2v5.2h-5.2zM1639.3 660.7h5.2v5.2h-5.2zM1634.3 662.8h5.2v5.2h-5.2zM1629.3 664.5h5.2v5.2h-5.2zM1624.3 666.1h5.2v5.2h-5.2zM1619.3 667.8h5.2v5.2h-5.2zM1614.3 669.3h5.2v5.2h-5.2zM1609.3 670.7h5.2v5.2h-5.2zM1604.3 672.1h5.2v5.2h-5.2zM1599.3 673.4h5.2v5.2h-5.2zM1594.3 674.6h5.2v5.2h-5.2zM1589.3 675.7h5.2v5.2h-5.2zM1584.3 676.7h5.2v5.2h-5.2zM1579.4 677.5h5.2v5.2h-5.2zM1574.9 678.2h5.2v5.2h-5.2zM1570.5 678.9h5.2v5.2h-5.2zM1566.5 679.4h5.2v5.2h-5.2zM1562.6 679.9h5.2v5.2h-5.2zM1558.9 680.4h5.2v5.2h-5.2zM1555.5 680.8h5.2v5.2h-5.2zM1552.2 681.2h5.2v5.2h-5.2zM1549.1 681.6h5.2v5.2h-5.2zM1546.2 682h5.2v5.2h-5.2zM1543.5 682.3h5.2v5.2h-5.2zM1540.8 682.6h5.2v5.2h-5.2zM1538.1 682.9h5.2v5.2h-5.2zM1535.4 683.2h5.2v5.2h-5.2zM1532.7 683.5h5.2v5.2h-5.2zM1530 683.8h5.2v5.2h-5.2zM1527.3 684h5.2v5.2h-5.2zM1524.6 684.3h5.2v5.2h-5.2zM1521.9 684.6h5.2v5.2h-5.2zM1519.2 684.9h5.2v5.2h-5.2zM1516.5 685.1h5.2v5.2h-5.2zM1513.8 685.4h5.2v5.2h-5.2zM1511.1 685.7h5.2v5.2h-5.2zM1508.4 685.9h5.2v5.2h-5.2zM1505.7 686.2h5.2v5.2h-5.2zM1503 686.4h5.2v5.2h-5.2zM1500.3 686.7h5.2v5.2h-5.2zM1497.6 686.9h5.2v5.2h-5.2zM1494.9 687.2h5.2v5.2h-5.2zM1492.2 687.4h5.2v5.2h-5.2zM1489.5 687.7h5.2v5.2h-5.2zM1486.8 687.9h5.2v5.2h-5.2zM1484.1 688.1h5.2v5.2h-5.2zM1481.4 688.4h5.2v5.2h-5.2zM1478.7 688.6h5.2v5.2h-5.2zM1476 688.8h5.2v5.2h-5.2zM1473.3 689h5.2v5.2h-5.2zM1470.6 689.2h5.2v5.2h-5.2zM1467.9 689.4h5.2v5.2h-5.2zM1465.2 689.6h5.2v5.2h-5.2zM1462.5 689.8h5.2v5.2h-5.2zM1459.8 690h5.2v5.2h-5.2zM1457.1 690.1h5.2v5.2h-5.2zM1454.4 690.3h5.2v5.2h-5.2zM1451.7 690.5h5.2v5.2h-5.2zM1449 690.6h5.2v5.2h-5.2zM1446.3 690.8h5.2v5.2h-5.2zM1443.6 691h5.2v5.2h-5.2zM1440.9 691.1h5.2v5.2h-5.2zM1438.2 691.3h5.2v5.2h-5.2zM1435.5 691.4h5.2v5.2h-5.2zM1432.8 691.6h5.2v5.2h-5.2zM1430.1 691.7h5.2v5.2h-5.2zM1427.4 691.8h5.2v5.2h-5.2zM1424.7 692h5.2v5.2h-5.2zM1422 692.1h5.2v5.2h-5.2zM1419.3 692.2h5.2v5.2h-5.2zM1416.6 692.3h5.2v5.2h-5.2zM1413.9 692.4h5.2v5.2h-5.2zM1411.2 692.6h5.2v5.2h-5.2zM1408.5 692.7h5.2v5.2h-5.2zM1405.8 692.8h5.2v5.2h-5.2zM1403.1 692.9h5.2v5.2h-5.2zM1400.4 693h5.2v5.2h-5.2zM1397.7 693.1h5.2v5.2h-5.2zM1395 693.2h5.2v5.2h-5.2zM1392.3 693.3h5.2v5.2h-5.2zM1389.6 693.4h5.2v5.2h-5.2zM1386.9 693.5h5.2v5.2h-5.2zM1384.2 693.6h5.2v5.2h-5.2zM1381.5 693.7h5.2v5.2h-5.2zM1378.8 693.8h5.2v5.2h-5.2zM1376.1 693.8h5.2v5.2h-5.2zM1373.4 693.9h5.2v5.2h-5.2zM1370.7 694h5.2v5.2h-5.2zM1368 694.1h5.2v5.2h-5.2zM1365.3 694.2h5.2v5.2h-5.2zM1362.6 694.2h5.2v5.2h-5.2zM1359.9 694.3h5.2v5.2h-5.2zM1357.2 694.4h5.2v5.2h-5.2zM1354.5 694.5h5.2v5.2h-5.2zM1351.8 694.5h5.2v5.2h-5.2zM1349.1 694.6h5.2v5.2h-5.2zM1346.4 694.6h5.2v5.2h-5.2zM1343.7 694.7h5.2v5.2h-5.2zM1341 694.8h5.2v5.2h-5.2zM1338.3 694.8h5.2v5.2h-5.2zM1335.6 694.9h5.2v5.2h-5.2zM1332.9 695h5.2v5.2h-5.2zM1330.2 695h5.2v5.2h-5.2zM1327.5 695.1h5.2v5.2h-5.2zM1324.8 695.1h5.2v5.2h-5.2zM1322.1 695.2h5.2v5.2h-5.2zM1319.4 695.3h5.2v5.2h-5.2zM1316.7 695.3h5.2v5.2h-5.2zM1314 695.4h5.2v5.2h-5.2zM1311.3 695.5h5.2v5.2h-5.2zM1308.6 695.5h5.2v5.2h-5.2zM1305.9 695.6h5.2v5.2h-5.2zM1303.2 695.7h5.2v5.2h-5.2zM1300.5 695.7h5.2v5.2h-5.2zM1297.8 695.8h5.2v5.2h-5.2zM1295.1 695.9h5.2v5.2h-5.2zM1292.4 695.9h5.2v5.2h-5.2zM1289.7 696h5.2v5.2h-5.2zM1287 696.1h5.2v5.2h-5.2zM1284.3 696.2h5.2v5.2h-5.2zM1281.6 696.3h5.2v5.2h-5.2zM1278.9 696.4h5.2v5.2h-5.2zM1276.2 696.4h5.2v5.2h-5.2zM1273.5 696.5h5.2v5.2h-5.2zM1270.8 696.6h5.2v5.2h-5.2zM1268.1 696.7h5.2v5.2h-5.2zM1265.4 696.9h5.2v5.2h-5.2zM1262.7 697h5.2v5.2h-5.2zM1260 697.1h5.2v5.2h-5.2zM1257.3 697.2h5.2v5.2h-5.2zM1254.6 697.4h5.2v5.2h-5.2zM1251.9 697.5h5.2v5.2h-5.2zM1249.2 697.6h5.2v5.2h-5.2zM1246.5 697.8h5.2v5.2h-5.2zM1243.8 697.9h5.2v5.2h-5.2zM1241.1 698h5.2v5.2h-5.2zM1238.4 698.2h5.2v5.2h-5.2zM1235.7 698.3h5.2v5.2h-5.2zM1233 698.4h5.2v5.2h-5.2zM1230.3 698.6h5.2v5.2h-5.2zM1227.6 698.7h5.2v5.2h-5.2zM1224.9 698.9h5.2v5.2h-5.2zM1222.2 699h5.2v5.2h-5.2zM1219.5 699.1h5.2v5.2h-5.2zM1216.8 699.2h5.2v5.2h-5.2zM1214.1 699.4h5.2v5.2h-5.2zM1211.4 699.5h5.2v5.2h-5.2zM1208.7 699.6h5.2v5.2h-5.2zM1206 699.7h5.2v5.2h-5.2zM1203.3 699.8h5.2v5.2h-5.2zM1200.6 699.9h5.2v5.2h-5.2zM1197.9 700h5.2v5.2h-5.2zM1195.2 700.1h5.2v5.2h-5.2zM1192.5 700.1h5.2v5.2h-5.2zM1189.8 700.2h5.2v5.2h-5.2zM1187.1 700.3h5.2v5.2h-5.2zM1184.4 700.4h5.2v5.2h-5.2zM1181.7 700.4h5.2v5.2h-5.2zM1179 700.5h5.2v5.2h-5.2zM1176.3 700.6h5.2v5.2h-5.2zM1173.6 700.6h5.2v5.2h-5.2zM1170.9 700.7h5.2v5.2h-5.2zM1168.2 700.8h5.2v5.2h-5.2zM1165.5 700.8h5.2v5.2h-5.2zM1162.8 700.9h5.2v5.2h-5.2zM1160.1 700.9h5.2v5.2h-5.2zM1157.4 701h5.2v5.2h-5.2zM1154.7 701.1h5.2v5.2h-5.2zM1152 701.1h5.2v5.2h-5.2zM1149.3 701.2h5.2v5.2h-5.2zM1146.6 701.2h5.2v5.2h-5.2zM1143.9 701.3h5.2v5.2h-5.2zM1141.2 701.3h5.2v5.2h-5.2zM1138.5 701.3h5.2v5.2h-5.2zM1135.8 701.4h5.2v5.2h-5.2zM1133.1 701.4h5.2v5.2h-5.2zM1130.4 701.5h5.2v5.2h-5.2zM1127.7 701.5h5.2v5.2h-5.2zM1125 701.6h5.2v5.2h-5.2zM1122.3 701.6h5.2v5.2h-5.2zM1119.6 701.7h5.2v5.2h-5.2zM1116.9 701.7h5.2v5.2h-5.2zM1114.2 701.7h5.2v5.2h-5.2zM1111.5 701.8h5.2v5.2h-5.2zM1108.8 701.8h5.2v5.2h-5.2zM1106.1 701.9h5.2v5.2h-5.2zM1103.4 701.9h5.2v5.2h-5.2zM1100.7 701.9h5.2v5.2h-5.2zM1098 702h5.2v5.2h-5.2zM1095.3 702h5.2v5.2h-5.2zM1092.6 702.1h5.2v5.2h-5.2zM1089.9 702.1h5.2v5.2h-5.2zM1087.2 702.2h5.2v5.2h-5.2zM1084.5 702.2h5.2v5.2h-5.2zM1081.8 702.3h5.2v5.2h-5.2zM1079.1 702.3h5.2v5.2h-5.2zM1076.4 702.4h5.2v5.2h-5.2zM1073.7 702.4h5.2v5.2h-5.2zM1071 702.5h5.2v5.2h-5.2zM1068.3 702.5h5.2v5.2h-5.2zM1065.6 702.6h5.2v5.2h-5.2zM1062.9 702.6h5.2v5.2h-5.2zM1060.2 702.7h5.2v5.2h-5.2zM1057.5 702.7h5.2v5.2h-5.2zM1054.8 702.8h5.2v5.2h-5.2zM1052.1 702.9h5.2v5.2h-5.2zM1049.4 702.9h5.2v5.2h-5.2zM1046.7 703h5.2v5.2h-5.2zM1044 703.1h5.2v5.2h-5.2zM1041.3 703.1h5.2v5.2h-5.2zM1038.6 703.2h5.2v5.2h-5.2zM1035.9 703.3h5.2v5.2h-5.2zM1033.2 703.3h5.2v5.2h-5.2zM1030.5 703.4h5.2v5.2h-5.2zM1027.8 703.5h5.2v5.2h-5.2zM1025.1 703.6h5.2v5.2h-5.2zM1022.4 703.7h5.2v5.2h-5.2zM1019.7 703.8h5.2v5.2h-5.2zM1017 703.9h5.2v5.2h-5.2zM1014.3 704h5.2v5.2h-5.2zM1011.6 704.1h5.2v5.2h-5.2zM1008.9 704.2h5.2v5.2h-5.2zM1006.2 704.3h5.2v5.2h-5.2zM1004.3 701.1h5.2v5.2h-5.2zM1000.8 704.6h5.2v5.2h-5.2zM998.1 704.8h5.2v5.2h-5.2zM995.4 705h5.2v5.2h-5.2zM992.7 705.2h5.2v5.2h-5.2zM990 705.5h5.2v5.2h-5.2zM987.3 705.7h5.2v5.2h-5.2zM984.6 705.9h5.2v5.2h-5.2zM981.9 706.1h5.2v5.2h-5.2zM979.2 706.3h5.2v5.2h-5.2zM976.5 706.5h5.2v5.2h-5.2zM973.8 706.6h5.2v5.2h-5.2zM971.1 706.7h5.2v5.2h-5.2zM968.4 706.9h5.2v5.2h-5.2zM965.7 707h5.2v5.2h-5.2zM963 707.1h5.2v5.2h-5.2zM960.3 707.2h5.2v5.2h-5.2zM957.6 707.3h5.2v5.2h-5.2zM954.9 707.5h5.2v5.2h-5.2zM952.2 707.6h5.2v5.2h-5.2zM949.5 707.7h5.2v5.2h-5.2zM946.8 707.8h5.2v5.2h-5.2zM944.1 707.9h5.2v5.2h-5.2zM941.4 708.1h5.2v5.2h-5.2zM938.7 708.2h5.2v5.2h-5.2zM936 708.4h5.2v5.2h-5.2zM933.3 708.5h5.2v5.2h-5.2zM930.6 708.7h5.2v5.2h-5.2zM927.9 708.9h5.2v5.2h-5.2zM925.2 709h5.2v5.2h-5.2zM922.5 709.2h5.2v5.2h-5.2zM919.8 709.4h5.2v5.2h-5.2zM917.1 709.6h5.2v5.2h-5.2zM914.4 709.9h5.2v5.2h-5.2zM911.7 710.1h5.2v5.2h-5.2zM909 710.3h5.2v5.2h-5.2zM906.3 710.5h5.2v5.2h-5.2zM903.6 710.7h5.2v5.2h-5.2zM900.9 711h5.2v5.2h-5.2zM898.2 711.2h5.2v5.2h-5.2zM895.5 711.4h5.2v5.2h-5.2zM892.8 711.7h5.2v5.2h-5.2zM890.1 711.9h5.2v5.2h-5.2zM887.4 712.2h5.2v5.2h-5.2zM884.7 712.4h5.2v5.2h-5.2zM882 712.7h5.2v5.2h-5.2zM879.3 712.9h5.2v5.2h-5.2zM876.6 713.1h5.2v5.2h-5.2zM873.9 713.3h5.2v5.2h-5.2zM871.2 713.6h5.2v5.2h-5.2zM868.5 713.8h5.2v5.2h-5.2zM865.8 714h5.2v5.2h-5.2zM863.1 714.2h5.2v5.2h-5.2zM860.4 714.5h5.2v5.2h-5.2zM857.7 714.7h5.2v5.2h-5.2zM855 715h5.2v5.2h-5.2zM852.3 715.3h5.2v5.2h-5.2zM849.6 715.6h5.2v5.2h-5.2zM846.9 716h5.2v5.2h-5.2zM844.2 716.3h5.2v5.2h-5.2zM841.5 716.7h5.2v5.2h-5.2zM838.8 717.2h5.2v5.2h-5.2zM836.1 717.8h5.2v5.2h-5.2zM833.4 718.6h5.2v5.2h-5.2zM830.7 719.4h5.2v5.2h-5.2zM828 720.3h5.2v5.2h-5.2zM825.3 721.3h5.2v5.2h-5.2zM822.6 722.2h5.2v5.2h-5.2zM819.9 723.1h5.2v5.2h-5.2zM817.2 724h5.2v5.2h-5.2zM814.5 724.7h5.2v5.2h-5.2zM811.8 725.5h5.2v5.2h-5.2zM809.1 726.2h5.2v5.2h-5.2zM806.4 726.9h5.2v5.2h-5.2zM803.7 727.7h5.2v5.2h-5.2zM801 728.6h5.2v5.2h-5.2zM798.3 729.6h5.2v5.2h-5.2zM795.6 730.7h5.2v5.2h-5.2zM792.9 731.9h5.2v5.2h-5.2zM790.2 733.3h5.2v5.2h-5.2zM787.5 734.8h5.2v5.2h-5.2zM784.8 736.3h5.2v5.2h-5.2zM782.1 738h5.2v5.2h-5.2zM779.4 739.6h5.2v5.2h-5.2zM776.7 741.4h5.2v5.2h-5.2zM774 743.3h5.2v5.2h-5.2zM771.3 745.3h5.2v5.2h-5.2zM768.6 747.4h5.2v5.2h-5.2zM765.9 749.6h5.2v5.2h-5.2zM763.2 751.9h5.2v5.2h-5.2zM760.5 754.1h5.2v5.2h-5.2zM757.8 756.4h5.2v5.2h-5.2zM755.1 758.8h5.2v5.2h-5.2zM752.4 761.1h5.2v5.2h-5.2zM749.7 763.5h5.2v5.2h-5.2zM747 766h5.2v5.2h-5.2zM744.3 768.5h5.2v5.2h-5.2zM741.6 771.1h5.2v5.2h-5.2zM738.9 773.8h5.2v5.2h-5.2zM736.2 776.6h5.2v5.2h-5.2zM733.5 779.6h5.2v5.2h-5.2zM730.8 782.7h5.2v5.2h-5.2zM728.1 786h5.2v5.2h-5.2zM725.4 789.3h5.2v5.2h-5.2zM722.7 792.5h5.2v5.2h-5.2zM720 795.6h5.2v5.2h-5.2zM717.3 798.7h5.2v5.2h-5.2zM714.6 801.7h5.2v5.2h-5.2zM711.9 804.7h5.2v5.2h-5.2zM709.2 807.6h5.2v5.2h-5.2zM706.5 810.4h5.2v5.2h-5.2zM703.8 812.9h5.2v5.2h-5.2zM701.1 815.4h5.2v5.2h-5.2zM698.4 817.7h5.2v5.2h-5.2zM695.7 819.9h5.2v5.2h-5.2zM693 822h5.2v5.2h-5.2zM690.3 824.1h5.2v5.2h-5.2zM687.6 826h5.2v5.2h-5.2zM684.9 827.9h5.2v5.2h-5.2zM682.2 829.8h5.2v5.2h-5.2zM679.5 831.6h5.2v5.2h-5.2zM676.8 833.2h5.2v5.2h-5.2zM674.1 834.8h5.2v5.2h-5.2zM671.4 836.2h5.2v5.2h-5.2zM668.7 837.6h5.2v5.2h-5.2zM666 838.9h5.2v5.2h-5.2zM663.3 840.1h5.2v5.2h-5.2zM660.6 841.2h5.2v5.2h-5.2zM657.9 842.1h5.2v5.2h-5.2zM655.2 842.9h5.2v5.2h-5.2zM652.5 843.7h5.2v5.2h-5.2zM649.8 844.4h5.2v5.2h-5.2zM647.1 845h5.2v5.2h-5.2zM644.4 845.6h5.2v5.2h-5.2zM641.7 846.1h5.2v5.2h-5.2zM639 846.6h5.2v5.2h-5.2zM636.3 847h5.2v5.2h-5.2zM633.6 847.5h5.2v5.2h-5.2zM630.9 847.8h5.2v5.2h-5.2zM628.2 848.1h5.2v5.2h-5.2zM625.5 848.1h5.2v5.2h-5.2zM622.8 848.1h5.2v5.2h-5.2zM620.1 848h5.2v5.2h-5.2zM617.4 847.8h5.2v5.2h-5.2zM614.7 847.7h5.2v5.2h-5.2zM612 847.4h5.2v5.2h-5.2zM609.3 847h5.2v5.2h-5.2zM606.6 846.3h5.2v5.2h-5.2zM603.9 845.5h5.2v5.2h-5.2zM601.2 844.6h5.2v5.2h-5.2zM598.5 843.6h5.2v5.2h-5.2zM595.8 842.5h5.2v5.2h-5.2zM593.1 841.4h5.2v5.2h-5.2zM590.4 840.1h5.2v5.2h-5.2zM587.7 838.5h5.2v5.2h-5.2zM585 836.8h5.2v5.2h-5.2zM582.3 834.9h5.2v5.2h-5.2zM579.6 833h5.2v5.2h-5.2zM576.9 831h5.2v5.2h-5.2zM574.2 828.7h5.2v5.2h-5.2zM571.5 826.2h5.2v5.2h-5.2zM568.8 823.6h5.2v5.2h-5.2zM566.1 821h5.2v5.2h-5.2zM563.4 818.5h5.2v5.2h-5.2zM560.7 816.1h5.2v5.2h-5.2zM558 813.7h5.2v5.2h-5.2zM555.3 811.2h5.2v5.2h-5.2zM552.6 808.8h5.2v5.2h-5.2zM549.9 806.4h5.2v5.2h-5.2zM547.2 804h5.2v5.2h-5.2zM544.5 801.6h5.2v5.2h-5.2zM541.8 799.3h5.2v5.2h-5.2zM539.1 797h5.2v5.2h-5.2zM536.4 794.7h5.2v5.2h-5.2zM533.7 792.4h5.2v5.2h-5.2zM531 790.2h5.2v5.2h-5.2zM528.3 788.1h5.2v5.2h-5.2zM525.6 786h5.2v5.2h-5.2zM522.9 783.9h5.2v5.2h-5.2zM520.2 781.9h5.2v5.2h-5.2zM517.5 779.9h5.2v5.2h-5.2zM514.8 778h5.2v5.2h-5.2zM512.1 776.1h5.2v5.2h-5.2zM509.4 774.2h5.2v5.2h-5.2zM506.7 772.4h5.2v5.2h-5.2zM504 770.7h5.2v5.2h-5.2zM501.3 768.9h5.2v5.2h-5.2zM498.6 767.2h5.2v5.2h-5.2zM495.9 765.6h5.2v5.2h-5.2zM493.2 764h5.2v5.2h-5.2zM490.5 762.5h5.2v5.2h-5.2zM487.8 761.1h5.2v5.2h-5.2zM485.1 759.7h5.2v5.2h-5.2zM482.4 758.3h5.2v5.2h-5.2zM479.7 757h5.2v5.2h-5.2zM477 755.8h5.2v5.2h-5.2zM474.3 754.6h5.2v5.2h-5.2zM471.6 753.6h5.2v5.2h-5.2zM468.9 752.6h5.2v5.2h-5.2zM466.1 751.7h5.2v5.2h-5.2zM463.1 750.7h5.2v5.2h-5.2zM460 749.8h5.2v5.2h-5.2zM456.7 748.9h5.2v5.2h-5.2zM453.2 747.9h5.2v5.2h-5.2zM449.4 747h5.2v5.2h-5.2zM445.5 746.1h5.2v5.2h-5.2zM441.3 745.2h5.2v5.2h-5.2zM436.8 744.2h5.2v5.2h-5.2zM432.1 743.2h5.2v5.2h-5.2zM427.1 742.2h5.2v5.2h-5.2zM422.1 741.4h5.2v5.2h-5.2zM417.1 740.8h5.2v5.2h-5.2zM412.1 740.4h5.2v5.2h-5.2zM407.1 740h5.2v5.2h-5.2zM402.1 739.7h5.2v5.2h-5.2zM397.1 739.5h5.2v5.2h-5.2zM392.1 739.3h5.2v5.2h-5.2zM387.1 739.2h5.2v5.2h-5.2zM382.1 739.1h5.2v5.2h-5.2zM377.1 739h5.2v5.2h-5.2zM372.1 739h5.2v5.2h-5.2zM367.1 738.9h5.2v5.2h-5.2zM362.1 738.9h5.2v5.2h-5.2zM362.1 735.9h5.2v5.2h-5.2zM362.1 732.9h5.2v5.2h-5.2zM367.1 729.6h5.2v5.2h-5.2zM372.1 727.2h5.2v5.2h-5.2zM377.1 725.1h5.2v5.2h-5.2zM382.1 723.1h5.2v5.2h-5.2zM387.1 721.2h5.2v5.2h-5.2zM392.1 719.5h5.2v5.2h-5.2zM397.1 718h5.2v5.2h-5.2zM402.1 716.5h5.2v5.2h-5.2zM407.1 715.2h5.2v5.2h-5.2zM412.1 714h5.2v5.2h-5.2zM417.1 713h5.2v5.2h-5.2zM422.1 712h5.2v5.2h-5.2zM427.1 711.1h5.2v5.2h-5.2zM432.1 710.2h5.2v5.2h-5.2zM436.8 709.4h5.2v5.2h-5.2zM441.3 708.6h5.2v5.2h-5.2zM445.5 707.8h5.2v5.2h-5.2zM449.4 707h5.2v5.2h-5.2zM453.2 706.3h5.2v5.2h-5.2zM456.7 705.7h5.2v5.2h-5.2zM460 705.2h5.2v5.2h-5.2zM463.1 704.7h5.2v5.2h-5.2zM466.1 704.3h5.2v5.2h-5.2zM468.9 703.9h5.2v5.2h-5.2zM471.6 703.5h5.2v5.2h-5.2zM474.3 703.1h5.2v5.2h-5.2zM477 702.8h5.2v5.2h-5.2zM479.7 702.4h5.2v5.2h-5.2zM482.4 702.1h5.2v5.2h-5.2zM485.1 701.8h5.2v5.2h-5.2zM487.8 701.5h5.2v5.2h-5.2zM490.5 701.2h5.2v5.2h-5.2zM493.2 700.9h5.2v5.2h-5.2zM495.9 700.6h5.2v5.2h-5.2zM498.6 700.3h5.2v5.2h-5.2zM501.3 700h5.2v5.2h-5.2zM504 699.8h5.2v5.2h-5.2zM506.7 699.5h5.2v5.2h-5.2zM509.4 699.3h5.2v5.2h-5.2zM512.1 699.1h5.2v5.2h-5.2zM514.8 698.8h5.2v5.2h-5.2zM517.5 698.6h5.2v5.2h-5.2zM520.2 698.4h5.2v5.2h-5.2zM522.9 698.2h5.2v5.2h-5.2zM525.6 698h5.2v5.2h-5.2zM528.3 697.7h5.2v5.2h-5.2zM531 697.5h5.2v5.2h-5.2zM533.7 697.3h5.2v5.2h-5.2zM536.4 697.1h5.2v5.2h-5.2zM539.1 696.9h5.2v5.2h-5.2zM541.8 696.7h5.2v5.2h-5.2zM544.5 696.5h5.2v5.2h-5.2zM547.2 696.4h5.2v5.2h-5.2zM549.9 696.3h5.2v5.2h-5.2zM552.6 696.2h5.2v5.2h-5.2zM555.3 696.1h5.2v5.2h-5.2zM558 696h5.2v5.2h-5.2zM560.7 695.9h5.2v5.2h-5.2zM563.4 695.9h5.2v5.2h-5.2zM566.1 695.8h5.2v5.2h-5.2zM568.8 695.7h5.2v5.2h-5.2zM571.5 695.7h5.2v5.2h-5.2zM574.2 695.6h5.2v5.2h-5.2zM576.9 695.5h5.2v5.2h-5.2zM579.6 695.5h5.2v5.2h-5.2zM582.3 695.4h5.2v5.2h-5.2zM585 695.3h5.2v5.2h-5.2zM587.7 695.3h5.2v5.2h-5.2zM590.4 695.2h5.2v5.2h-5.2zM593.1 695.1h5.2v5.2h-5.2zM595.8 695.1h5.2v5.2h-5.2zM598.5 695h5.2v5.2h-5.2zM601.2 694.9h5.2v5.2h-5.2zM603.9 694.8h5.2v5.2h-5.2zM606.6 694.7h5.2v5.2h-5.2zM609.3 694.6h5.2v5.2h-5.2zM612 694.5h5.2v5.2h-5.2zM614.7 694.4h5.2v5.2h-5.2zM617.4 694.3h5.2v5.2h-5.2zM620.1 694.2h5.2v5.2h-5.2zM622.8 694.1h5.2v5.2h-5.2zM625.5 694h5.2v5.2h-5.2zM628.2 693.9h5.2v5.2h-5.2zM630.9 693.8h5.2v5.2h-5.2zM633.6 693.7h5.2v5.2h-5.2zM636.3 693.5h5.2v5.2h-5.2zM639 693.4h5.2v5.2h-5.2zM641.7 693.3h5.2v5.2h-5.2zM644.4 693.2h5.2v5.2h-5.2zM647.1 693.1h5.2v5.2h-5.2zM649.8 693h5.2v5.2h-5.2zM652.5 692.9h5.2v5.2h-5.2zM655.2 692.8h5.2v5.2h-5.2zM657.9 692.6h5.2v5.2h-5.2zM660.6 692.5h5.2v5.2h-5.2zM663.3 692.4h5.2v5.2h-5.2zM666 692.3h5.2v5.2h-5.2zM668.7 692.2h5.2v5.2h-5.2zM671.4 692.1h5.2v5.2h-5.2zM674.1 692h5.2v5.2h-5.2zM676.8 691.9h5.2v5.2h-5.2zM679.5 691.8h5.2v5.2h-5.2zM682.2 691.7h5.2v5.2h-5.2zM684.9 691.6h5.2v5.2h-5.2zM687.6 691.5h5.2v5.2h-5.2zM690.3 691.4h5.2v5.2h-5.2zM693 691.3h5.2v5.2h-5.2zM695.7 691.2h5.2v5.2h-5.2zM698.4 691.1h5.2v5.2h-5.2zM701.1 691h5.2v5.2h-5.2zM703.8 690.9h5.2v5.2h-5.2zM706.5 690.8h5.2v5.2h-5.2zM709.2 690.7h5.2v5.2h-5.2zM711.9 690.6h5.2v5.2h-5.2zM714.6 690.5h5.2v5.2h-5.2zM717.3 690.4h5.2v5.2h-5.2zM720 690.3h5.2v5.2h-5.2zM722.7 690.2h5.2v5.2h-5.2zM725.4 690.1h5.2v5.2h-5.2zM728.1 690h5.2v5.2h-5.2zM730.8 689.9h5.2v5.2h-5.2zM733.5 689.8h5.2v5.2h-5.2zM736.2 689.8h5.2v5.2h-5.2zM738.9 689.7h5.2v5.2h-5.2zM741.6 689.6h5.2v5.2h-5.2zM744.3 689.5h5.2v5.2h-5.2zM747 689.4h5.2v5.2h-5.2zM749.7 689.3h5.2v5.2h-5.2zM752.4 689.2h5.2v5.2h-5.2zM755.1 689.1h5.2v5.2h-5.2zM757.8 689h5.2v5.2h-5.2zM760.5 688.9h5.2v5.2h-5.2zM763.2 688.9h5.2v5.2h-5.2zM765.9 688.8h5.2v5.2h-5.2zM768.6 688.7h5.2v5.2h-5.2zM771.3 688.6h5.2v5.2h-5.2zM774 688.5h5.2v5.2h-5.2zM776.7 688.4h5.2v5.2h-5.2zM779.4 688.4h5.2v5.2h-5.2zM782.1 688.3h5.2v5.2h-5.2zM784.8 688.2h5.2v5.2h-5.2zM787.5 688.1h5.2v5.2h-5.2zM790.2 688.1h5.2v5.2h-5.2zM792.9 688h5.2v5.2h-5.2zM795.6 687.9h5.2v5.2h-5.2zM798.3 687.8h5.2v5.2h-5.2zM801 687.8h5.2v5.2h-5.2zM803.7 687.7h5.2v5.2h-5.2zM806.4 687.6h5.2v5.2h-5.2zM809.1 687.6h5.2v5.2h-5.2zM811.8 687.5h5.2v5.2h-5.2zM814.5 687.5h5.2v5.2h-5.2zM817.2 687.4h5.2v5.2h-5.2zM819.9 687.3h5.2v5.2h-5.2zM822.6 687.3h5.2v5.2h-5.2zM825.3 687.2h5.2v5.2h-5.2zM828 687.2h5.2v5.2h-5.2zM830.7 687.1h5.2v5.2h-5.2zM833.4 687.1h5.2v5.2h-5.2zM836.1 687.1h5.2v5.2h-5.2zM838.8 687h5.2v5.2h-5.2zM841.5 687h5.2v5.2h-5.2zM844.2 686.9h5.2v5.2h-5.2zM846.9 686.9h5.2v5.2h-5.2zM849.6 686.9h5.2v5.2h-5.2zM852.3 686.8h5.2v5.2h-5.2zM855 686.8h5.2v5.2h-5.2zM857.7 686.7h5.2v5.2h-5.2zM860.4 686.7h5.2v5.2h-5.2zM863.1 686.7h5.2v5.2h-5.2zM865.8 686.6h5.2v5.2h-5.2zM868.5 686.6h5.2v5.2h-5.2zM871.2 686.6h5.2v5.2h-5.2zM873.9 686.5h5.2v5.2h-5.2zM876.6 686.5h5.2v5.2h-5.2zM879.3 686.5h5.2v5.2h-5.2zM882 686.4h5.2v5.2h-5.2zM884.7 686.4h5.2v5.2h-5.2zM887.4 686.3h5.2v5.2h-5.2zM890.1 686.3h5.2v5.2h-5.2zM892.8 686.3h5.2v5.2h-5.2zM895.5 686.2h5.2v5.2h-5.2zM898.2 686.2h5.2v5.2h-5.2zM900.9 686.1h5.2v5.2h-5.2zM903.6 686.1h5.2v5.2h-5.2zM906.3 686h5.2v5.2h-5.2zM909 686h5.2v5.2h-5.2zM911.7 685.9h5.2v5.2h-5.2zM914.4 685.9h5.2v5.2h-5.2zM917.1 685.8h5.2v5.2h-5.2zM919.8 685.7h5.2v5.2h-5.2zM922.5 685.7h5.2v5.2h-5.2zM925.2 685.6h5.2v5.2h-5.2zM927.9 685.5h5.2v5.2h-5.2zM930.6 685.5h5.2v5.2h-5.2zM933.3 685.4h5.2v5.2h-5.2zM936 685.3h5.2v5.2h-5.2zM938.7 685.3h5.2v5.2h-5.2zM941.4 685.2h5.2v5.2h-5.2zM944.1 685.1h5.2v5.2h-5.2zM946.8 685h5.2v5.2h-5.2zM949.5 684.9h5.2v5.2h-5.2zM952.2 684.8h5.2v5.2h-5.2zM954.9 684.7h5.2v5.2h-5.2zM957.6 684.6h5.2v5.2h-5.2zM960.3 684.5h5.2v5.2h-5.2zM963 684.4h5.2v5.2h-5.2zM965.7 684.3h5.2v5.2h-5.2zM968.4 684.2h5.2v5.2h-5.2zM971.1 684.1h5.2v5.2h-5.2zM973.8 684h5.2v5.2h-5.2zM976.5 683.9h5.2v5.2h-5.2zM979.2 683.8h5.2v5.2h-5.2zM981.9 683.7h5.2v5.2h-5.2zM984.6 683.5h5.2v5.2h-5.2zM987.3 683.4h5.2v5.2h-5.2zM990 683.3h5.2v5.2h-5.2zM992.7 683.1h5.2v5.2h-5.2zM995.4 682.9h5.2v5.2h-5.2zM998.1 682.7h5.2v5.2h-5.2zM1000.8 682.5h5.2v5.2h-5.2zM1004.3 685.4h5.2v5.2h-5.2zM1006.2 682.2h5.2v5.2h-5.2zM1008.9 682.1h5.2v5.2h-5.2zM1011.6 681.9h5.2v5.2h-5.2zM1014.3 681.8h5.2v5.2h-5.2zM1017 681.7h5.2v5.2h-5.2zM1019.7 681.6h5.2v5.2h-5.2zM1022.4 681.5h5.2v5.2h-5.2zM1025.1 681.4h5.2v5.2h-5.2zM1027.8 681.3h5.2v5.2h-5.2zM1030.5 681.2h5.2v5.2h-5.2zM1033.2 681.1h5.2v5.2h-5.2zM1035.9 681h5.2v5.2h-5.2zM1038.6 680.9h5.2v5.2h-5.2zM1041.3 680.8h5.2v5.2h-5.2zM1044 680.7h5.2v5.2h-5.2zM1046.7 680.5h5.2v5.2h-5.2zM1049.4 680.4h5.2v5.2h-5.2zM1052.1 680.3h5.2v5.2h-5.2zM1054.8 680.2h5.2v5.2h-5.2zM1057.5 680.1h5.2v5.2h-5.2zM1060.2 680h5.2v5.2h-5.2zM1062.9 679.9h5.2v5.2h-5.2zM1065.6 679.8h5.2v5.2h-5.2zM1068.3 679.7h5.2v5.2h-5.2zM1071 679.5h5.2v5.2h-5.2zM1073.7 679.4h5.2v5.2h-5.2zM1076.4 679.3h5.2v5.2h-5.2zM1079.1 679.2h5.2v5.2h-5.2zM1081.8 679.1h5.2v5.2h-5.2zM1084.5 678.9h5.2v5.2h-5.2zM1087.2 678.8h5.2v5.2h-5.2zM1089.9 678.7h5.2v5.2h-5.2zM1092.6 678.5h5.2v5.2h-5.2zM1095.3 678.4h5.2v5.2h-5.2zM1098 678.2h5.2v5.2h-5.2zM1100.7 678h5.2v5.2h-5.2zM1103.4 677.8h5.2v5.2h-5.2zM1106.1 677.6h5.2v5.2h-5.2zM1108.8 677.4h5.2v5.2h-5.2zM1111.5 677.2h5.2v5.2h-5.2zM1114.2 676.9h5.2v5.2h-5.2zM1116.9 676.7h5.2v5.2h-5.2zM1119.6 676.4h5.2v5.2h-5.2zM1122.3 676.1h5.2v5.2h-5.2zM1125 675.7h5.2v5.2h-5.2zM1127.7 675.4h5.2v5.2h-5.2zM1130.4 675h5.2v5.2h-5.2zM1133.1 674.6h5.2v5.2h-5.2zM1135.8 674.1h5.2v5.2h-5.2zM1138.5 673.6h5.2v5.2h-5.2zM1141.2 672.9h5.2v5.2h-5.2zM1143.9 672.2h5.2v5.2h-5.2zM1146.6 671.4h5.2v5.2h-5.2zM1149.3 670.6h5.2v5.2h-5.2zM1152 669.8h5.2v5.2h-5.2zM1154.7 669h5.2v5.2h-5.2zM1157.4 668.3h5.2v5.2h-5.2zM1160.1 667.7h5.2v5.2h-5.2zM1162.8 667h5.2v5.2h-5.2zM1165.5 666.3h5.2v5.2h-5.2zM1168.2 665.6h5.2v5.2h-5.2zM1170.9 664.9h5.2v5.2h-5.2zM1173.6 664.2h5.2v5.2h-5.2zM1176.3 663.4h5.2v5.2h-5.2zM1179 662.5h5.2v5.2h-5.2zM1181.7 661.6h5.2v5.2h-5.2zM1184.4 660.6h5.2v5.2h-5.2zM1187.1 659.6h5.2v5.2h-5.2zM1189.8 658.6h5.2v5.2h-5.2zM1192.5 657.7h5.2v5.2h-5.2zM1195.2 656.8h5.2v5.2h-5.2zM1197.9 655.9h5.2v5.2h-5.2zM1200.6 655.1h5.2v5.2h-5.2zM1203.3 654.3h5.2v5.2h-5.2zM1206 653.4h5.2v5.2h-5.2zM1208.7 652.4h5.2v5.2h-5.2zM1211.4 651.1h5.2v5.2h-5.2zM1214.1 649.7h5.2v5.2h-5.2zM1216.8 648.2h5.2v5.2h-5.2zM1219.5 646.7h5.2v5.2h-5.2zM1222.2 645.1h5.2v5.2h-5.2zM1224.9 643.5h5.2v5.2h-5.2zM1227.6 641.8h5.2v5.2h-5.2zM1230.3 640h5.2v5.2h-5.2zM1233 638h5.2v5.2h-5.2zM1235.7 635.9h5.2v5.2h-5.2zM1238.4 633.6h5.2v5.2h-5.2zM1241.1 631.2h5.2v5.2h-5.2zM1243.8 628.7h5.2v5.2h-5.2zM1246.5 626.1h5.2v5.2h-5.2zM1249.2 623.4h5.2v5.2h-5.2zM1251.9 620.5h5.2v5.2h-5.2zM1254.6 617.6h5.2v5.2h-5.2zM1257.3 614.6h5.2v5.2h-5.2zM1260 611.6h5.2v5.2h-5.2zM1262.7 608.6h5.2v5.2h-5.2zM1265.4 605.6h5.2v5.2h-5.2zM1268.1 602.5h5.2v5.2h-5.2zM1270.8 599.4h5.2v5.2h-5.2zM1273.5 596.1h5.2v5.2h-5.2zM1276.2 592.8h5.2v5.2h-5.2zM1278.9 589.2h5.2v5.2h-5.2zM1281.6 585.4h5.2v5.2h-5.2zM1284.3 581.5h5.2v5.2h-5.2zM1287 577.8h5.2v5.2h-5.2zM1289.7 574.5h5.2v5.2h-5.2zM1292.4 571.6h5.2v5.2h-5.2zM1295.1 569h5.2v5.2h-5.2zM1297.8 566.6h5.2v5.2h-5.2zM1300.5 564.3h5.2v5.2h-5.2zM1303.2 562.1h5.2v5.2h-5.2zM1305.9 559.9h5.2v5.2h-5.2zM1308.6 557.9h5.2v5.2h-5.2zM1311.3 555.9h5.2v5.2h-5.2zM1314 554h5.2v5.2h-5.2zM1316.7 552.3h5.2v5.2h-5.2zM1319.4 550.6h5.2v5.2h-5.2zM1322.1 548.9h5.2v5.2h-5.2zM1324.8 547.3h5.2v5.2h-5.2zM1327.5 546h5.2v5.2h-5.2zM1330.2 544.8h5.2v5.2h-5.2zM1332.9 543.7h5.2v5.2h-5.2zM1335.6 542.7h5.2v5.2h-5.2zM1338.3 541.8h5.2v5.2h-5.2zM1341 541.1h5.2v5.2h-5.2zM1343.7 540.4h5.2v5.2h-5.2zM1346.4 539.8h5.2v5.2h-5.2zM1349.1 539.2h5.2v5.2h-5.2zM1351.8 538.8h5.2v5.2h-5.2zM1354.5 538.5h5.2v5.2h-5.2zM1357.2 538.2h5.2v5.2h-5.2zM1359.9 538.1h5.2v5.2h-5.2zM1362.6 537.9h5.2v5.2h-5.2zM1365.3 537.8h5.2v5.2h-5.2zM1368 537.8h5.2v5.2h-5.2zM1370.7 538h5.2v5.2h-5.2zM1373.4 538.2h5.2v5.2h-5.2zM1376.1 538.6h5.2v5.2h-5.2zM1378.8 539h5.2v5.2h-5.2zM1381.5 539.4h5.2v5.2h-5.2zM1384.2 540.1h5.2v5.2h-5.2zM1386.9 541h5.2v5.2h-5.2zM1389.6 541.9h5.2v5.2h-5.2zM1392.3 542.9h5.2v5.2h-5.2zM1395 544h5.2v5.2h-5.2zM1397.7 545.3h5.2v5.2h-5.2zM1400.4 546.6h5.2v5.2h-5.2zM1403.1 548.1h5.2v5.2h-5.2zM1405.8 549.6h5.2v5.2h-5.2zM1408.5 551.4h5.2v5.2h-5.2zM1411.2 553.3h5.2v5.2h-5.2zM1413.9 555.3h5.2v5.2h-5.2zM1416.6 557.3h5.2v5.2h-5.2zM1419.3 559.1h5.2v5.2h-5.2zM1422 560.8h5.2v5.2h-5.2zM1424.7 562.5h5.2v5.2h-5.2zM1427.4 564.2h5.2v5.2h-5.2zM1430.1 566.1h5.2v5.2h-5.2zM1432.8 568.1h5.2v5.2h-5.2zM1435.5 570.4h5.2v5.2h-5.2zM1438.2 572.7h5.2v5.2h-5.2zM1440.9 575.1h5.2v5.2h-5.2zM1443.6 577.6h5.2v5.2h-5.2zM1446.3 580h5.2v5.2h-5.2zM1449 582.4h5.2v5.2h-5.2zM1451.7 584.9h5.2v5.2h-5.2zM1454.4 587.3h5.2v5.2h-5.2zM1457.1 589.6h5.2v5.2h-5.2zM1459.8 591.9h5.2v5.2h-5.2zM1462.5 594.1h5.2v5.2h-5.2zM1465.2 596.2h5.2v5.2h-5.2zM1467.9 598.4h5.2v5.2h-5.2zM1470.6 600.6h5.2v5.2h-5.2zM1473.3 602.9h5.2v5.2h-5.2zM1476 605.1h5.2v5.2h-5.2zM1478.7 607.4h5.2v5.2h-5.2zM1481.4 609.6h5.2v5.2h-5.2zM1484.1 611.8h5.2v5.2h-5.2zM1486.8 613.9h5.2v5.2h-5.2zM1489.5 616.1h5.2v5.2h-5.2zM1492.2 618.1h5.2v5.2h-5.2zM1494.9 620.1h5.2v5.2h-5.2zM1497.6 622h5.2v5.2h-5.2zM1500.3 623.7h5.2v5.2h-5.2zM1503 625.2h5.2v5.2h-5.2zM1505.7 626.7h5.2v5.2h-5.2zM1508.4 628.1h5.2v5.2h-5.2zM1511.1 629.4h5.2v5.2h-5.2zM1513.8 630.7h5.2v5.2h-5.2zM1516.5 631.9h5.2v5.2h-5.2zM1519.2 633.1h5.2v5.2h-5.2zM1521.9 634.2h5.2v5.2h-5.2zM1524.6 635.3h5.2v5.2h-5.2zM1527.3 636.3h5.2v5.2h-5.2zM1530 637.2h5.2v5.2h-5.2zM1532.7 638h5.2v5.2h-5.2zM1535.4 638.8h5.2v5.2h-5.2zM1538.1 639.5h5.2v5.2h-5.2zM1540.8 640.2h5.2v5.2h-5.2zM1543.5 640.8h5.2v5.2h-5.2zM1546.2 641.5h5.2v5.2h-5.2zM1549.1 642.1h5.2v5.2h-5.2zM1552.2 642.7h5.2v5.2h-5.2zM1555.5 643.4h5.2v5.2h-5.2zM1558.9 644h5.2v5.2h-5.2zM1562.6 644.7h5.2v5.2h-5.2zM1566.5 645.4h5.2v5.2h-5.2zM1570.5 646h5.2v5.2h-5.2zM1574.9 646.6h5.2v5.2h-5.2zM1579.4 647.2h5.2v5.2h-5.2zM1584.3 647.8h5.2v5.2h-5.2zM1589.3 648.3h5.2v5.2h-5.2zM1594.3 648.7h5.2v5.2h-5.2zM1599.3 649.1h5.2v5.2h-5.2zM1604.3 649.5h5.2v5.2h-5.2zM1609.3 649.7h5.2v5.2h-5.2zM1614.3 649.9h5.2v5.2h-5.2zM1619.3 650h5.2v5.2h-5.2zM1624.3 650h5.2v5.2h-5.2zM1629.3 650h5.2v5.2h-5.2zM1634.3 650.1h5.2v5.2h-5.2zM1639.3 650.1h5.2v5.2h-5.2zM1644.3 651.7h5.2v5.2h-5.2zM1646.9 654.9h5.2v5.2h-5.2zM1646.9 654.9h5.2v5.2h-5.2z" fill="#00ff00"/>
<rect x="260.7" y="46.4" width="1611.8" height="1300.2" fill="none" stroke="#000" stroke-width="4.7"/>
<line x1="235.3" y1="1346.6" x2="260.7" y2="1346.6" stroke="#000" stroke-width="4.7"/>
<line x1="248.5" y1="1238.2" x2="260.7" y2="1238.2" stroke="#000" stroke-width="4.7"/>
<line x1="235.3" y1="1129.9" x2="260.7" y2="1129.9" stroke="#000" stroke-width="4.7"/>
<line x1="248.5" y1="1021.5" x2="260.7" y2="1021.5" stroke="#000" stroke-width="4.7"/>
<line x1="235.3" y1="913.2" x2="260.7" y2="913.2" stroke="#000" stroke-width="4.7"/>
<line x1="248.5" y1="804.9" x2="260.7" y2="804.9" stroke="#000" stroke-width="4.7"/>
<line x1="235.3" y1="696.5" x2="260.7" y2="696.5" stroke="#000" stroke-width="4.7"/>
<line x1="248.5" y1="588.1" x2="260.7" y2="588.1" stroke="#000" stroke-width="4.7"/>
<line x1="235.3" y1="479.8" x2="260.7" y2="479.8" stroke="#000" stroke-width="4.7"/>
<line x1="248.5" y1="371.4" x2="260.7" y2="371.4" stroke="#000" stroke-width="4.7"/>
<line x1="235.3" y1="263.1" x2="260.7" y2="263.1" stroke="#000" stroke-width="4.7"/>
<line x1="248.5" y1="154.8" x2="260.7" y2="154.8" stroke="#000" stroke-width="4.7"/>
<line x1="235.3" y1="46.4" x2="260.7" y2="46.4" stroke="#000" stroke-width="4.7"/>
<line x1="260.7" y1="1346.6" x2="260.7" y2="1371.8" stroke="#000" stroke-width="4.7"/>
<line x1="384.7" y1="1346.6" x2="384.7" y2="1358.7" stroke="#000" stroke-width="4.7"/>
<line x1="508.7" y1="1346.6" x2="508.7" y2="1371.8" stroke="#000" stroke-width="4.7"/>
<line x1="632.6" y1="1346.6" x2="632.6" y2="1358.7" stroke="#000" stroke-width="4.7"/>
<line x1="756.6" y1="1346.6" x2="756.6" y2="1371.8" stroke="#000" stroke-width="4.7"/>
<line x1="880.6" y1="1346.6" x2="880.6" y2="1358.7" stroke="#000" stroke-width="4.7"/>
<line x1="1004.6" y1="1346.6" x2="1004.6" y2="1371.8" stroke="#000" stroke-width="4.7"/>
<line x1="1128.6" y1="1346.6" x2="1128.6" y2="1358.7" stroke="#000" stroke-width="4.7"/>
<line x1="1252.6" y1="1346.6" x2="1252.6" y2="1371.8" stroke="#000" stroke-width="4.7"/>
<line x1="1376.6" y1="1346.6" x2="1376.6" y2="1358.7" stroke="#000" stroke-width="4.7"/>
<line x1="1500.5" y1="1346.6" x2="1500.5" y2="1371.8" stroke="#000" stroke-width="4.7"/>
<line x1="1624.5" y1="1346.6" x2="1624.5" y2="1358.7" stroke="#000" stroke-width="4.7"/>
<line x1="1748.5" y1="1346.6" x2="1748.5" y2="1371.8" stroke="#000" stroke-width="4.7"/>
<line x1="1872.5" y1="1346.6" x2="1872.5" y2="1358.7" stroke="#000" stroke-width="4.7"/>
<text transform="translate(217.3,1363.2) scale(1,1.055)" text-anchor="end" font-size="55">-60</text>
<text transform="translate(217.3,1146.5) scale(1,1.055)" text-anchor="end" font-size="55">-40</text>
<text transform="translate(217.3,929.8) scale(1,1.055)" text-anchor="end" font-size="55">-20</text>
<text transform="translate(217.3,713.1) scale(1,1.055)" text-anchor="end" font-size="55">0</text>
<text transform="translate(217.3,496.4) scale(1,1.055)" text-anchor="end" font-size="55">20</text>
<text transform="translate(217.3,279.7) scale(1,1.055)" text-anchor="end" font-size="55">40</text>
<text transform="translate(217.3,63) scale(1,1.055)" text-anchor="end" font-size="55">60</text>
<text transform="translate(260.7,1432.4) scale(1,1.015)" text-anchor="middle" font-size="55">-1500</text>
<text transform="translate(508.7,1432.4) scale(1,1.015)" text-anchor="middle" font-size="55">-1000</text>
<text transform="translate(756.6,1432.4) scale(1,1.015)" text-anchor="middle" font-size="55">-500</text>
<text transform="translate(1004.6,1432.4) scale(1,1.015)" text-anchor="middle" font-size="55">0</text>
<text transform="translate(1252.6,1432.4) scale(1,1.015)" text-anchor="middle" font-size="55">500</text>
<text transform="translate(1500.5,1432.4) scale(1,1.015)" text-anchor="middle" font-size="55">1000</text>
<text transform="translate(1748.5,1432.4) scale(1,1.015)" text-anchor="middle" font-size="55">1500</text>
<text x="1067" y="1536" text-anchor="middle" font-size="68">E [kV/cm]</text>
<text transform="translate(63,659) rotate(-90)" text-anchor="middle" font-size="68">Current [µA]</text>
<rect x="1449" y="84.8" width="408.9" height="259.2" fill="#fff" stroke="#000" stroke-width="1.7"/>
<line x1="1457.4" y1="131.5" x2="1609.5" y2="131.5" stroke="#333" stroke-width="1.3"/>
<rect x="1530.1" y="128.2" width="6.6" height="6.6" fill="#000"/>
<text transform="translate(1627.5,155.4) scale(0.985,1.045)" font-size="68">0 wt%</text>
<line x1="1457.4" y1="214.4" x2="1609.5" y2="214.4" stroke="#0000ff" stroke-width="2.1"/>
<rect x="1530" y="211" width="6.8" height="6.8" fill="#0000ff"/>
<text transform="translate(1627.5,238.3) scale(0.985,1.045)" font-size="68">3 wt%</text>
<line x1="1457.4" y1="298.4" x2="1609.5" y2="298.4" stroke="#00ff00" stroke-width="2.8"/>
<rect x="1530.9" y="295.9" width="5.0" height="5.0" fill="#00ff00"/>
<text transform="translate(1627.5,322.3) scale(0.985,1.045)" font-size="68">10 wt%</text>
</svg>
</body></html>
